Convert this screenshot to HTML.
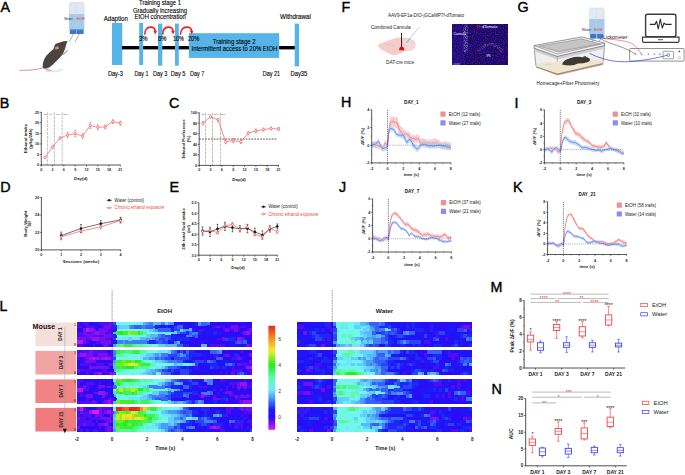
<!DOCTYPE html>
<html><head><meta charset="utf-8"><style>
html,body{margin:0;padding:0;background:#fff;width:685px;height:475px;overflow:hidden}
svg{display:block;font-family:"Liberation Sans",sans-serif}
</style></head><body>
<svg width="685" height="475" viewBox="0 0 685 475">
<rect width="685" height="475" fill="#fff"/>
<text x="0.5" y="12" font-size="14.3" stroke="#000" stroke-width="0.4">A</text>
<text x="-0.3" y="108.4" font-size="14.3" stroke="#000" stroke-width="0.4">B</text>
<text x="169" y="108.4" font-size="14.3" stroke="#000" stroke-width="0.4">C</text>
<text x="0.3" y="191.7" font-size="14.3" stroke="#000" stroke-width="0.4">D</text>
<text x="169.5" y="191.7" font-size="14.3" stroke="#000" stroke-width="0.4">E</text>
<text x="341.5" y="11.8" font-size="14.3" stroke="#000" stroke-width="0.4">F</text>
<text x="517.5" y="12.3" font-size="14.3" stroke="#000" stroke-width="0.4">G</text>
<text x="341" y="107" font-size="14.3" stroke="#000" stroke-width="0.4">H</text>
<text x="514.5" y="108" font-size="14.3" stroke="#000" stroke-width="0.4">I</text>
<text x="339" y="191.5" font-size="14.3" stroke="#000" stroke-width="0.4">J</text>
<text x="513" y="192.3" font-size="14.3" stroke="#000" stroke-width="0.4">K</text>
<text x="-0.5" y="311.3" font-size="14.3" stroke="#000" stroke-width="0.4">L</text>
<text x="490.5" y="291.6" font-size="14.3" stroke="#000" stroke-width="0.4">M</text>
<text x="491.5" y="394.4" font-size="14.3" stroke="#000" stroke-width="0.4">N</text>
<g>
<path d="M69.2 4 q0 -2 2 -2 h4 q2 0 2 2 v25 h-8 z" fill="#dfe8f0" stroke="#c8d2dc" stroke-width="0.3"/>
<path d="M69.2 14 h8 v15 h-8 z" fill="#a9cbea"/>
<rect x="69.8" y="29" width="6.8" height="5" fill="#3f78c8"/>
<rect x="69.8" y="29" width="6.8" height="1.2" fill="#6b9ad8"/>
<path d="M76.2 4 q0 -2 2 -2 h4 q2 0 2 2 v25 h-8 z" fill="#dfe8f0" stroke="#c8d2dc" stroke-width="0.3"/>
<path d="M76.2 14 h8 v15 h-8 z" fill="#a9cbea"/>
<rect x="76.8" y="29" width="6.8" height="5" fill="#3f78c8"/>
<rect x="76.8" y="29" width="6.8" height="1.2" fill="#6b9ad8"/>
<path d="M73.4 34 L69.3 42" stroke="#8a9098" stroke-width="0.7" fill="none"/>
<path d="M79.2 34 L75 42.2" stroke="#8a9098" stroke-width="0.7" fill="none"/>
<text x="64.3" y="19.6" font-size="3.4" fill="#222" textLength="8.4" lengthAdjust="spacingAndGlyphs">Water</text>
<text x="76.5" y="19.6" font-size="3.4" fill="#e03030" textLength="8" lengthAdjust="spacingAndGlyphs">EtOH</text>
<path d="M45 70.6 Q56 72.8 63 69.2" fill="none" stroke="#e6e6e6" stroke-width="1.6"/>
<path d="M19.4 70.4 Q31 70.9 42.8 68.2" fill="none" stroke="#d48a8e" stroke-width="0.9"/>
<path d="M67.2 41 Q64 40.9 60.5 42.2 L56.5 43.4 Q55 43.6 54.6 45.6 L53.5 49 L50 52.1 L46.5 55.6 L44.3 59.1 L43 63 L42.6 66.1 Q42.6 68 43.2 68.3 L45.4 68.8 L49.2 67.4 L52.7 64.8 L56.2 61.3 L59.7 57.8 L62.3 54.7 L64 51.6 L65.3 48.1 L66.2 44.6 Q66.9 42.6 67.2 41 Z" fill="#4a4541"/>
<path d="M54.8 47.8 Q55.6 46 57.6 46.2 Q59 46.8 58.8 48.6 Q57.2 49.8 55.4 49.4 Z" fill="#d98a90"/>
<circle cx="62.3" cy="43.4" r="0.45" fill="#1a1a1a" stroke="#1a1a1a" stroke-width="0.1"/>
<circle cx="67.3" cy="41.2" r="0.45" fill="#d98a90" stroke="#d98a90" stroke-width="0.1"/>
<path d="M62.4 54.3 L64.6 52.6 L67.6 49.4 L68.3 50 L65.6 53.2 L63.2 55.2 Z" fill="#d98a90"/>
<path d="M45.6 68.2 L49 69.4 L51.9 70.4 L51.6 71.1 L48.4 70.6 L45.2 69.2 Z" fill="#d98a90"/>
</g>
<rect x="112" y="23" width="10.3" height="42" fill="#56b4e9"/>
<rect x="122" y="46" width="173" height="3.4" fill="#000"/>
<rect x="139.2" y="23" width="3.9" height="42" fill="#56b4e9"/>
<rect x="158" y="23.6" width="4.3" height="42.1" fill="#56b4e9"/>
<rect x="175" y="23.6" width="3.8" height="42.1" fill="#56b4e9"/>
<rect x="188.9" y="33.2" width="90.3" height="24.7" fill="#56b4e9"/>
<rect x="294.7" y="23.7" width="4.4" height="42.7" fill="#56b4e9"/>
<text x="115.8" y="21" font-size="7" text-anchor="middle" textLength="24" lengthAdjust="spacingAndGlyphs" stroke="#000" stroke-width="0.12">Adaption</text>
<text x="160" y="5.1" font-size="7" text-anchor="middle" textLength="41.8" lengthAdjust="spacingAndGlyphs" stroke="#000" stroke-width="0.12">Training stage 1</text>
<text x="160" y="12.6" font-size="7" text-anchor="middle" textLength="54" lengthAdjust="spacingAndGlyphs" stroke="#000" stroke-width="0.12">Gradually increasing</text>
<text x="160.2" y="19.2" font-size="7" text-anchor="middle" textLength="51.4" lengthAdjust="spacingAndGlyphs" stroke="#000" stroke-width="0.12">EtOH concentration</text>
<line x1="134.8" y1="20.1" x2="184.2" y2="20.1" stroke="#c8c8c8" stroke-width="0.4"/>
<text x="295.5" y="18.9" font-size="7" text-anchor="middle" textLength="30.9" lengthAdjust="spacingAndGlyphs" stroke="#000" stroke-width="0.12">Withdrawal</text>
<text x="139" y="40.8" font-size="6.4" textLength="8.6" lengthAdjust="spacingAndGlyphs" stroke="#000" stroke-width="0.12">3%</text>
<text x="158" y="40.8" font-size="6.4" textLength="8.5" lengthAdjust="spacingAndGlyphs" stroke="#000" stroke-width="0.12">6%</text>
<text x="172.9" y="40.8" font-size="6.4" textLength="10.9" lengthAdjust="spacingAndGlyphs" stroke="#000" stroke-width="0.12">10%</text>
<text x="187.9" y="40.8" font-size="6.4" textLength="11.4" lengthAdjust="spacingAndGlyphs" stroke="#000" stroke-width="0.12">20%</text>
<text x="234.2" y="43.6" font-size="6.5" text-anchor="middle" textLength="42.7" lengthAdjust="spacingAndGlyphs" stroke="#000" stroke-width="0.12">Training stage 2</text>
<text x="234.4" y="50.6" font-size="6.5" text-anchor="middle" textLength="85.8" lengthAdjust="spacingAndGlyphs" stroke="#000" stroke-width="0.12">Intermittent access to 20% EtOH</text>
<text x="107.9" y="76" font-size="7" textLength="15.1" lengthAdjust="spacingAndGlyphs" stroke="#000" stroke-width="0.12">Day-3</text>
<text x="134.5" y="76" font-size="7" textLength="14" lengthAdjust="spacingAndGlyphs" stroke="#000" stroke-width="0.12">Day 1</text>
<text x="153" y="76" font-size="7" textLength="14.3" lengthAdjust="spacingAndGlyphs" stroke="#000" stroke-width="0.12">Day 3</text>
<text x="170.7" y="76" font-size="7" textLength="14.8" lengthAdjust="spacingAndGlyphs" stroke="#000" stroke-width="0.12">Day 5</text>
<text x="190" y="76" font-size="7" textLength="14.2" lengthAdjust="spacingAndGlyphs" stroke="#000" stroke-width="0.12">Day 7</text>
<text x="262.7" y="76" font-size="7" textLength="17.4" lengthAdjust="spacingAndGlyphs" stroke="#000" stroke-width="0.12">Day 21</text>
<text x="290.6" y="76" font-size="7" textLength="16.7" lengthAdjust="spacingAndGlyphs" stroke="#000" stroke-width="0.12">Day35</text>
<path d="M144.8 34.6 C144.20000000000002 25.2 155.79999999999998 25.2 155.2 31.4" fill="none" stroke="#e8231d" stroke-width="1.6"/>
<path d="M153.29999999999998 30.8 L157.1 30.8 L155.29999999999998 34.4 Z" fill="#e8231d"/>
<path d="M162.8 34.6 C162.20000000000002 25.2 173.6 25.2 173.0 31.4" fill="none" stroke="#e8231d" stroke-width="1.6"/>
<path d="M171.1 30.8 L174.9 30.8 L173.1 34.4 Z" fill="#e8231d"/>
<path d="M180.6 34.6 C180.0 25.2 192.2 25.2 191.6 31.4" fill="none" stroke="#e8231d" stroke-width="1.6"/>
<path d="M189.7 30.8 L193.5 30.8 L191.7 34.4 Z" fill="#e8231d"/>
<text x="426" y="16.9" font-size="4.9" text-anchor="middle" fill="#222" textLength="76" lengthAdjust="spacingAndGlyphs">AAV9-EF1a-DIO-jGCaMP7f-dTomato</text>
<text x="390.8" y="28.9" font-size="5" text-anchor="middle" fill="#222" textLength="39.7" lengthAdjust="spacingAndGlyphs">Combined Cannula</text>
<path d="M378.2 45.2 Q379 43.2 382.6 42.8 Q388 40.2 394.2 38.5 Q399 37.2 403 37.6 Q408.7 37.6 413.6 40.4 Q416.3 42.5 415.5 45.2 Q415 48.8 412.6 50 Q408 51.3 404.8 51 Q401.5 53.6 399 54 Q395.5 55.2 392.3 54.9 Q387.5 53.5 384.5 51 Q380.2 49.5 379.7 48.1 Q377.6 46.8 378.2 45.2 Z" fill="#f2cdcb"/>
<path d="M404.5 39.5 Q411 38.8 414.5 42.5 Q416 46.5 412.3 49.6 Q407.5 50.8 404.5 50.2 Z" fill="#f5d8d6"/>
<path d="M383 45 Q389 43.5 395 46" fill="none" stroke="#e8b4b4" stroke-width="0.35"/>
<line x1="401.5" y1="33" x2="401.5" y2="49.3" stroke="#111" stroke-width="0.9"/>
<path d="M399 50.2 Q399.5 46.5 401.7 46.6 Q404 46.5 404.4 50.2 Z" fill="#d41414"/>
<line x1="419.4" y1="26.8" x2="406.5" y2="42.6" stroke="#7cc0e2" stroke-width="0.6"/>
<line x1="410.2" y1="38.2" x2="406.5" y2="42.6" stroke="#7cc0e2" stroke-width="1.1"/>
<text x="400" y="63.7" font-size="5" text-anchor="middle" fill="#222" textLength="28" lengthAdjust="spacingAndGlyphs">DAT-cre mice</text>
<defs><filter id="spk" x="0" y="0" width="1" height="1" color-interpolation-filters="sRGB"><feTurbulence type="fractalNoise" baseFrequency="0.9" numOctaves="1" seed="3" result="n"/><feColorMatrix in="n" type="matrix" values="0.55 0 0 0 -0.13  0 0.25 0 0 -0.08  0 0 2.0 0 -0.56  0 0 0 0 1"/></filter><filter id="spk2" x="-0.2" y="-0.2" width="1.4" height="1.4" color-interpolation-filters="sRGB"><feTurbulence type="fractalNoise" baseFrequency="1.1" numOctaves="1" seed="5" result="n"/><feColorMatrix in="n" type="matrix" values="0 0 0 0 0  0 0 0 0 0  0 0 0 0 0  3 0 0 0 -1.1" result="m"/><feComposite in="SourceGraphic" in2="m" operator="in"/></filter></defs>
<rect x="452.7" y="24.4" width="54.6" height="40.3" fill="#160c50"/>
<rect x="452.7" y="24.4" width="54.6" height="40.3" filter="url(#spk)"/>
<rect x="452.7" y="24.4" width="11" height="40.3" fill="#3020c0" opacity="0.2"/>
<rect x="463.6" y="24.4" width="4.2" height="28" fill="#c8b8f8" opacity="0.55" filter="url(#spk2)"/>
<path d="M478 51.5 Q484 44 490 44.5 Q497 44 502 51.5" fill="none" stroke="#d0a0e0" stroke-width="3.2" opacity="0.4" filter="url(#spk2)"/>
<text x="459.7" y="34.6" font-size="3" text-anchor="middle" fill="#fff" textLength="12.5" lengthAdjust="spacingAndGlyphs">Cannula</text>
<text x="476" y="27.8" font-size="3" fill="#ff2020" textLength="4.5" lengthAdjust="spacingAndGlyphs">Th</text>
<text x="482" y="27.8" font-size="3" fill="#fff" textLength="15.4" lengthAdjust="spacingAndGlyphs">dTomato</text>
<text x="488.5" y="57" font-size="3" text-anchor="middle" fill="#fff" textLength="3.8" lengthAdjust="spacingAndGlyphs">IPN</text>
<line x1="453.5" y1="64" x2="460" y2="64" stroke="#fff" stroke-width="0.5"/>
<line x1="47.4" y1="112.3" x2="47.4" y2="165" stroke="#808080" stroke-width="0.5" stroke-dasharray="3 0.9"/>
<line x1="54.4" y1="112.3" x2="54.4" y2="165" stroke="#808080" stroke-width="0.5" stroke-dasharray="3 0.9"/>
<line x1="62.2" y1="112.3" x2="62.2" y2="165" stroke="#808080" stroke-width="0.5" stroke-dasharray="3 0.9"/>
<text x="45.4" y="115" font-size="2.4" text-anchor="middle" fill="#555">3%</text>
<text x="51" y="115" font-size="2.4" text-anchor="middle" fill="#555">6%</text>
<text x="58.3" y="115" font-size="2.4" text-anchor="middle" fill="#555">10%</text>
<text x="65.6" y="115" font-size="2.4" text-anchor="middle" fill="#555">20%</text>
<line x1="41.3" y1="165.4" x2="41.3" y2="111.9" stroke="#222" stroke-width="0.75"/>
<line x1="40.9" y1="165" x2="120.7" y2="165" stroke="#222" stroke-width="0.75"/>
<line x1="39.7" y1="165" x2="41.3" y2="165" stroke="#222" stroke-width="0.6"/>
<text x="39.1" y="166.35" font-size="3.7" text-anchor="end" font-weight="bold" fill="#222">0</text>
<line x1="39.7" y1="154.46" x2="41.3" y2="154.46" stroke="#222" stroke-width="0.6"/>
<text x="39.1" y="155.81" font-size="3.7" text-anchor="end" font-weight="bold" fill="#222">5</text>
<line x1="39.7" y1="143.92" x2="41.3" y2="143.92" stroke="#222" stroke-width="0.6"/>
<text x="39.1" y="145.27" font-size="3.7" text-anchor="end" font-weight="bold" fill="#222">10</text>
<line x1="39.7" y1="133.38" x2="41.3" y2="133.38" stroke="#222" stroke-width="0.6"/>
<text x="39.1" y="134.73" font-size="3.7" text-anchor="end" font-weight="bold" fill="#222">15</text>
<line x1="39.7" y1="122.84" x2="41.3" y2="122.84" stroke="#222" stroke-width="0.6"/>
<text x="39.1" y="124.19" font-size="3.7" text-anchor="end" font-weight="bold" fill="#222">20</text>
<line x1="39.7" y1="112.3" x2="41.3" y2="112.3" stroke="#222" stroke-width="0.6"/>
<text x="39.1" y="113.65" font-size="3.7" text-anchor="end" font-weight="bold" fill="#222">25</text>
<line x1="41.3" y1="165" x2="41.3" y2="166.6" stroke="#222" stroke-width="0.6"/>
<text x="41.3" y="171" font-size="3.7" text-anchor="middle" font-weight="bold" fill="#222">0</text>
<line x1="52.59" y1="165" x2="52.59" y2="166.6" stroke="#222" stroke-width="0.6"/>
<text x="52.59" y="171" font-size="3.7" text-anchor="middle" font-weight="bold" fill="#222">3</text>
<line x1="63.87" y1="165" x2="63.87" y2="166.6" stroke="#222" stroke-width="0.6"/>
<text x="63.87" y="171" font-size="3.7" text-anchor="middle" font-weight="bold" fill="#222">6</text>
<line x1="75.16" y1="165" x2="75.16" y2="166.6" stroke="#222" stroke-width="0.6"/>
<text x="75.16" y="171" font-size="3.7" text-anchor="middle" font-weight="bold" fill="#222">9</text>
<line x1="86.44" y1="165" x2="86.44" y2="166.6" stroke="#222" stroke-width="0.6"/>
<text x="86.44" y="171" font-size="3.7" text-anchor="middle" font-weight="bold" fill="#222">12</text>
<line x1="97.73" y1="165" x2="97.73" y2="166.6" stroke="#222" stroke-width="0.6"/>
<text x="97.73" y="171" font-size="3.7" text-anchor="middle" font-weight="bold" fill="#222">15</text>
<line x1="109.01" y1="165" x2="109.01" y2="166.6" stroke="#222" stroke-width="0.6"/>
<text x="109.01" y="171" font-size="3.7" text-anchor="middle" font-weight="bold" fill="#222">18</text>
<line x1="120.3" y1="165" x2="120.3" y2="166.6" stroke="#222" stroke-width="0.6"/>
<text x="120.3" y="171" font-size="3.7" text-anchor="middle" font-weight="bold" fill="#222">21</text>
<path d="M45.06 157.41 L52.59 146.87 L60.11 138.02 L67.63 135.07 L75.16 133.59 L82.68 136.12 L90.2 125.58 L97.73 127.27 L105.25 126.85 L112.78 121.58 L120.3 123.26" stroke="#f0444a" stroke-width="0.6" fill="none"/>
<line x1="45.06" y1="156.57" x2="45.06" y2="158.25" stroke="#f0444a" stroke-width="0.5"/>
<line x1="44.06" y1="156.57" x2="46.06" y2="156.57" stroke="#f0444a" stroke-width="0.5"/>
<line x1="44.06" y1="158.25" x2="46.06" y2="158.25" stroke="#f0444a" stroke-width="0.5"/>
<circle cx="45.06" cy="157.41" r="1.15" fill="#fff" stroke="#f0444a" stroke-width="0.6"/>
<line x1="52.59" y1="145.82" x2="52.59" y2="147.92" stroke="#f0444a" stroke-width="0.5"/>
<line x1="51.59" y1="145.82" x2="53.59" y2="145.82" stroke="#f0444a" stroke-width="0.5"/>
<line x1="51.59" y1="147.92" x2="53.59" y2="147.92" stroke="#f0444a" stroke-width="0.5"/>
<circle cx="52.59" cy="146.87" r="1.15" fill="#fff" stroke="#f0444a" stroke-width="0.6"/>
<line x1="60.11" y1="136.97" x2="60.11" y2="139.07" stroke="#f0444a" stroke-width="0.5"/>
<line x1="59.11" y1="136.97" x2="61.11" y2="136.97" stroke="#f0444a" stroke-width="0.5"/>
<line x1="59.11" y1="139.07" x2="61.11" y2="139.07" stroke="#f0444a" stroke-width="0.5"/>
<circle cx="60.11" cy="138.02" r="1.15" fill="#fff" stroke="#f0444a" stroke-width="0.6"/>
<line x1="67.63" y1="132.55" x2="67.63" y2="137.59" stroke="#f0444a" stroke-width="0.5"/>
<line x1="66.63" y1="132.55" x2="68.63" y2="132.55" stroke="#f0444a" stroke-width="0.5"/>
<line x1="66.63" y1="137.59" x2="68.63" y2="137.59" stroke="#f0444a" stroke-width="0.5"/>
<circle cx="67.63" cy="135.07" r="1.15" fill="#fff" stroke="#f0444a" stroke-width="0.6"/>
<line x1="75.16" y1="130.44" x2="75.16" y2="136.74" stroke="#f0444a" stroke-width="0.5"/>
<line x1="74.16" y1="130.44" x2="76.16" y2="130.44" stroke="#f0444a" stroke-width="0.5"/>
<line x1="74.16" y1="136.74" x2="76.16" y2="136.74" stroke="#f0444a" stroke-width="0.5"/>
<circle cx="75.16" cy="133.59" r="1.15" fill="#fff" stroke="#f0444a" stroke-width="0.6"/>
<line x1="82.68" y1="133.6" x2="82.68" y2="138.64" stroke="#f0444a" stroke-width="0.5"/>
<line x1="81.68" y1="133.6" x2="83.68" y2="133.6" stroke="#f0444a" stroke-width="0.5"/>
<line x1="81.68" y1="138.64" x2="83.68" y2="138.64" stroke="#f0444a" stroke-width="0.5"/>
<circle cx="82.68" cy="136.12" r="1.15" fill="#fff" stroke="#f0444a" stroke-width="0.6"/>
<line x1="90.2" y1="122.64" x2="90.2" y2="128.52" stroke="#f0444a" stroke-width="0.5"/>
<line x1="89.2" y1="122.64" x2="91.2" y2="122.64" stroke="#f0444a" stroke-width="0.5"/>
<line x1="89.2" y1="128.52" x2="91.2" y2="128.52" stroke="#f0444a" stroke-width="0.5"/>
<circle cx="90.2" cy="125.58" r="1.15" fill="#fff" stroke="#f0444a" stroke-width="0.6"/>
<line x1="97.73" y1="124.75" x2="97.73" y2="129.79" stroke="#f0444a" stroke-width="0.5"/>
<line x1="96.73" y1="124.75" x2="98.73" y2="124.75" stroke="#f0444a" stroke-width="0.5"/>
<line x1="96.73" y1="129.79" x2="98.73" y2="129.79" stroke="#f0444a" stroke-width="0.5"/>
<circle cx="97.73" cy="127.27" r="1.15" fill="#fff" stroke="#f0444a" stroke-width="0.6"/>
<line x1="105.25" y1="124.96" x2="105.25" y2="128.74" stroke="#f0444a" stroke-width="0.5"/>
<line x1="104.25" y1="124.96" x2="106.25" y2="124.96" stroke="#f0444a" stroke-width="0.5"/>
<line x1="104.25" y1="128.74" x2="106.25" y2="128.74" stroke="#f0444a" stroke-width="0.5"/>
<circle cx="105.25" cy="126.85" r="1.15" fill="#fff" stroke="#f0444a" stroke-width="0.6"/>
<line x1="112.78" y1="119.69" x2="112.78" y2="123.47" stroke="#f0444a" stroke-width="0.5"/>
<line x1="111.78" y1="119.69" x2="113.78" y2="119.69" stroke="#f0444a" stroke-width="0.5"/>
<line x1="111.78" y1="123.47" x2="113.78" y2="123.47" stroke="#f0444a" stroke-width="0.5"/>
<circle cx="112.78" cy="121.58" r="1.15" fill="#fff" stroke="#f0444a" stroke-width="0.6"/>
<line x1="120.3" y1="121.16" x2="120.3" y2="125.36" stroke="#f0444a" stroke-width="0.5"/>
<line x1="119.3" y1="121.16" x2="121.3" y2="121.16" stroke="#f0444a" stroke-width="0.5"/>
<line x1="119.3" y1="125.36" x2="121.3" y2="125.36" stroke="#f0444a" stroke-width="0.5"/>
<circle cx="120.3" cy="123.26" r="1.15" fill="#fff" stroke="#f0444a" stroke-width="0.6"/>
<text x="80.8" y="180.2" font-size="4.3" text-anchor="middle" font-weight="bold" fill="#222">Day(d)</text>
<text x="26.8" y="138.6" font-size="4.3" text-anchor="middle" font-weight="bold" fill="#222" transform="rotate(-90 26.8 138.6)">Ethanol intake</text>
<text x="31.6" y="138.6" font-size="4.3" text-anchor="middle" font-weight="bold" fill="#222" transform="rotate(-90 31.6 138.6)">(g/kg/24h)</text>
<line x1="205.5" y1="112.7" x2="205.5" y2="165.4" stroke="#808080" stroke-width="0.5" stroke-dasharray="3 0.9"/>
<line x1="212.5" y1="112.7" x2="212.5" y2="165.4" stroke="#808080" stroke-width="0.5" stroke-dasharray="3 0.9"/>
<line x1="220.6" y1="112.7" x2="220.6" y2="165.4" stroke="#808080" stroke-width="0.5" stroke-dasharray="3 0.9"/>
<text x="203.4" y="115.3" font-size="2.4" text-anchor="middle" fill="#555">3%</text>
<text x="209.2" y="115.3" font-size="2.4" text-anchor="middle" fill="#555">6%</text>
<text x="216.4" y="115.3" font-size="2.4" text-anchor="middle" fill="#555">10%</text>
<text x="223.6" y="115.3" font-size="2.4" text-anchor="middle" fill="#555">20%</text>
<line x1="199.2" y1="139.05" x2="277.5" y2="139.05" stroke="#222" stroke-width="0.75" stroke-dasharray="1.8 1.1"/>
<line x1="199.2" y1="165.8" x2="199.2" y2="112.3" stroke="#222" stroke-width="0.75"/>
<line x1="198.8" y1="165.4" x2="279" y2="165.4" stroke="#222" stroke-width="0.75"/>
<line x1="197.6" y1="165.4" x2="199.2" y2="165.4" stroke="#222" stroke-width="0.6"/>
<text x="197" y="166.75" font-size="3.7" text-anchor="end" font-weight="bold" fill="#222">0</text>
<line x1="197.6" y1="154.86" x2="199.2" y2="154.86" stroke="#222" stroke-width="0.6"/>
<text x="197" y="156.21" font-size="3.7" text-anchor="end" font-weight="bold" fill="#222">20</text>
<line x1="197.6" y1="144.32" x2="199.2" y2="144.32" stroke="#222" stroke-width="0.6"/>
<text x="197" y="145.67" font-size="3.7" text-anchor="end" font-weight="bold" fill="#222">40</text>
<line x1="197.6" y1="133.78" x2="199.2" y2="133.78" stroke="#222" stroke-width="0.6"/>
<text x="197" y="135.13" font-size="3.7" text-anchor="end" font-weight="bold" fill="#222">60</text>
<line x1="197.6" y1="123.24" x2="199.2" y2="123.24" stroke="#222" stroke-width="0.6"/>
<text x="197" y="124.59" font-size="3.7" text-anchor="end" font-weight="bold" fill="#222">80</text>
<line x1="197.6" y1="112.7" x2="199.2" y2="112.7" stroke="#222" stroke-width="0.6"/>
<text x="197" y="114.05" font-size="3.7" text-anchor="end" font-weight="bold" fill="#222">100</text>
<line x1="199.2" y1="165.4" x2="199.2" y2="167" stroke="#222" stroke-width="0.6"/>
<text x="199.2" y="171.4" font-size="3.7" text-anchor="middle" font-weight="bold" fill="#222">0</text>
<line x1="210.54" y1="165.4" x2="210.54" y2="167" stroke="#222" stroke-width="0.6"/>
<text x="210.54" y="171.4" font-size="3.7" text-anchor="middle" font-weight="bold" fill="#222">3</text>
<line x1="221.89" y1="165.4" x2="221.89" y2="167" stroke="#222" stroke-width="0.6"/>
<text x="221.89" y="171.4" font-size="3.7" text-anchor="middle" font-weight="bold" fill="#222">6</text>
<line x1="233.23" y1="165.4" x2="233.23" y2="167" stroke="#222" stroke-width="0.6"/>
<text x="233.23" y="171.4" font-size="3.7" text-anchor="middle" font-weight="bold" fill="#222">9</text>
<line x1="244.57" y1="165.4" x2="244.57" y2="167" stroke="#222" stroke-width="0.6"/>
<text x="244.57" y="171.4" font-size="3.7" text-anchor="middle" font-weight="bold" fill="#222">12</text>
<line x1="255.91" y1="165.4" x2="255.91" y2="167" stroke="#222" stroke-width="0.6"/>
<text x="255.91" y="171.4" font-size="3.7" text-anchor="middle" font-weight="bold" fill="#222">15</text>
<line x1="267.26" y1="165.4" x2="267.26" y2="167" stroke="#222" stroke-width="0.6"/>
<text x="267.26" y="171.4" font-size="3.7" text-anchor="middle" font-weight="bold" fill="#222">18</text>
<line x1="278.6" y1="165.4" x2="278.6" y2="167" stroke="#222" stroke-width="0.6"/>
<text x="278.6" y="171.4" font-size="3.7" text-anchor="middle" font-weight="bold" fill="#222">21</text>
<path d="M202.98 123.24 L210.54 116.92 L218.1 119.81 L225.67 141.69 L233.23 140.63 L240.79 141.69 L248.35 133.25 L255.91 130.88 L263.48 129.56 L271.04 128.51 L278.6 129.04" stroke="#f0444a" stroke-width="0.6" fill="none"/>
<line x1="202.98" y1="121.66" x2="202.98" y2="124.82" stroke="#f0444a" stroke-width="0.5"/>
<line x1="201.98" y1="121.66" x2="203.98" y2="121.66" stroke="#f0444a" stroke-width="0.5"/>
<line x1="201.98" y1="124.82" x2="203.98" y2="124.82" stroke="#f0444a" stroke-width="0.5"/>
<circle cx="202.98" cy="123.24" r="1.15" fill="#fff" stroke="#f0444a" stroke-width="0.6"/>
<line x1="210.54" y1="115.86" x2="210.54" y2="117.97" stroke="#f0444a" stroke-width="0.5"/>
<line x1="209.54" y1="115.86" x2="211.54" y2="115.86" stroke="#f0444a" stroke-width="0.5"/>
<line x1="209.54" y1="117.97" x2="211.54" y2="117.97" stroke="#f0444a" stroke-width="0.5"/>
<circle cx="210.54" cy="116.92" r="1.15" fill="#fff" stroke="#f0444a" stroke-width="0.6"/>
<line x1="218.1" y1="118.5" x2="218.1" y2="121.13" stroke="#f0444a" stroke-width="0.5"/>
<line x1="217.1" y1="118.5" x2="219.1" y2="118.5" stroke="#f0444a" stroke-width="0.5"/>
<line x1="217.1" y1="121.13" x2="219.1" y2="121.13" stroke="#f0444a" stroke-width="0.5"/>
<circle cx="218.1" cy="119.81" r="1.15" fill="#fff" stroke="#f0444a" stroke-width="0.6"/>
<line x1="225.67" y1="139.58" x2="225.67" y2="143.79" stroke="#f0444a" stroke-width="0.5"/>
<line x1="224.67" y1="139.58" x2="226.67" y2="139.58" stroke="#f0444a" stroke-width="0.5"/>
<line x1="224.67" y1="143.79" x2="226.67" y2="143.79" stroke="#f0444a" stroke-width="0.5"/>
<circle cx="225.67" cy="141.69" r="1.15" fill="#fff" stroke="#f0444a" stroke-width="0.6"/>
<line x1="233.23" y1="138.52" x2="233.23" y2="142.74" stroke="#f0444a" stroke-width="0.5"/>
<line x1="232.23" y1="138.52" x2="234.23" y2="138.52" stroke="#f0444a" stroke-width="0.5"/>
<line x1="232.23" y1="142.74" x2="234.23" y2="142.74" stroke="#f0444a" stroke-width="0.5"/>
<circle cx="233.23" cy="140.63" r="1.15" fill="#fff" stroke="#f0444a" stroke-width="0.6"/>
<line x1="240.79" y1="139.84" x2="240.79" y2="143.53" stroke="#f0444a" stroke-width="0.5"/>
<line x1="239.79" y1="139.84" x2="241.79" y2="139.84" stroke="#f0444a" stroke-width="0.5"/>
<line x1="239.79" y1="143.53" x2="241.79" y2="143.53" stroke="#f0444a" stroke-width="0.5"/>
<circle cx="240.79" cy="141.69" r="1.15" fill="#fff" stroke="#f0444a" stroke-width="0.6"/>
<line x1="248.35" y1="131.67" x2="248.35" y2="134.83" stroke="#f0444a" stroke-width="0.5"/>
<line x1="247.35" y1="131.67" x2="249.35" y2="131.67" stroke="#f0444a" stroke-width="0.5"/>
<line x1="247.35" y1="134.83" x2="249.35" y2="134.83" stroke="#f0444a" stroke-width="0.5"/>
<circle cx="248.35" cy="133.25" r="1.15" fill="#fff" stroke="#f0444a" stroke-width="0.6"/>
<line x1="255.91" y1="129.04" x2="255.91" y2="132.73" stroke="#f0444a" stroke-width="0.5"/>
<line x1="254.91" y1="129.04" x2="256.91" y2="129.04" stroke="#f0444a" stroke-width="0.5"/>
<line x1="254.91" y1="132.73" x2="256.91" y2="132.73" stroke="#f0444a" stroke-width="0.5"/>
<circle cx="255.91" cy="130.88" r="1.15" fill="#fff" stroke="#f0444a" stroke-width="0.6"/>
<line x1="263.48" y1="127.98" x2="263.48" y2="131.14" stroke="#f0444a" stroke-width="0.5"/>
<line x1="262.48" y1="127.98" x2="264.48" y2="127.98" stroke="#f0444a" stroke-width="0.5"/>
<line x1="262.48" y1="131.14" x2="264.48" y2="131.14" stroke="#f0444a" stroke-width="0.5"/>
<circle cx="263.48" cy="129.56" r="1.15" fill="#fff" stroke="#f0444a" stroke-width="0.6"/>
<line x1="271.04" y1="127.19" x2="271.04" y2="129.83" stroke="#f0444a" stroke-width="0.5"/>
<line x1="270.04" y1="127.19" x2="272.04" y2="127.19" stroke="#f0444a" stroke-width="0.5"/>
<line x1="270.04" y1="129.83" x2="272.04" y2="129.83" stroke="#f0444a" stroke-width="0.5"/>
<circle cx="271.04" cy="128.51" r="1.15" fill="#fff" stroke="#f0444a" stroke-width="0.6"/>
<line x1="278.6" y1="127.46" x2="278.6" y2="130.62" stroke="#f0444a" stroke-width="0.5"/>
<line x1="277.6" y1="127.46" x2="279.6" y2="127.46" stroke="#f0444a" stroke-width="0.5"/>
<line x1="277.6" y1="130.62" x2="279.6" y2="130.62" stroke="#f0444a" stroke-width="0.5"/>
<circle cx="278.6" cy="129.04" r="1.15" fill="#fff" stroke="#f0444a" stroke-width="0.6"/>
<text x="239" y="180.6" font-size="4.3" text-anchor="middle" font-weight="bold" fill="#222">Day(d)</text>
<text x="184.7" y="139" font-size="4.3" text-anchor="middle" font-weight="bold" fill="#222" transform="rotate(-90 184.7 139)">Ethanol Preference</text>
<text x="189.6" y="139" font-size="4.3" text-anchor="middle" font-weight="bold" fill="#222" transform="rotate(-90 189.6 139)">(%)</text>
<line x1="41.4" y1="250.3" x2="41.4" y2="197" stroke="#222" stroke-width="0.75"/>
<line x1="41" y1="249.9" x2="121" y2="249.9" stroke="#222" stroke-width="0.75"/>
<line x1="39.8" y1="249.9" x2="41.4" y2="249.9" stroke="#222" stroke-width="0.6"/>
<text x="39.2" y="251.25" font-size="3.7" text-anchor="end" font-weight="bold" fill="#222">20</text>
<line x1="39.8" y1="232.4" x2="41.4" y2="232.4" stroke="#222" stroke-width="0.6"/>
<text x="39.2" y="233.75" font-size="3.7" text-anchor="end" font-weight="bold" fill="#222">22</text>
<line x1="39.8" y1="214.9" x2="41.4" y2="214.9" stroke="#222" stroke-width="0.6"/>
<text x="39.2" y="216.25" font-size="3.7" text-anchor="end" font-weight="bold" fill="#222">24</text>
<line x1="39.8" y1="197.4" x2="41.4" y2="197.4" stroke="#222" stroke-width="0.6"/>
<text x="39.2" y="198.75" font-size="3.7" text-anchor="end" font-weight="bold" fill="#222">26</text>
<line x1="41.4" y1="249.9" x2="41.4" y2="251.5" stroke="#222" stroke-width="0.6"/>
<text x="41.4" y="255.9" font-size="3.7" text-anchor="middle" font-weight="bold" fill="#222">0</text>
<line x1="61.2" y1="249.9" x2="61.2" y2="251.5" stroke="#222" stroke-width="0.6"/>
<text x="61.2" y="255.9" font-size="3.7" text-anchor="middle" font-weight="bold" fill="#222">1</text>
<line x1="81" y1="249.9" x2="81" y2="251.5" stroke="#222" stroke-width="0.6"/>
<text x="81" y="255.9" font-size="3.7" text-anchor="middle" font-weight="bold" fill="#222">2</text>
<line x1="100.8" y1="249.9" x2="100.8" y2="251.5" stroke="#222" stroke-width="0.6"/>
<text x="100.8" y="255.9" font-size="3.7" text-anchor="middle" font-weight="bold" fill="#222">3</text>
<line x1="120.6" y1="249.9" x2="120.6" y2="251.5" stroke="#222" stroke-width="0.6"/>
<text x="120.6" y="255.9" font-size="3.7" text-anchor="middle" font-weight="bold" fill="#222">4</text>
<path d="M61.2 235.55 L81 228.55 L100.8 223.65 L120.6 219.97" stroke="#111" stroke-width="0.6" fill="none"/>
<path d="M61.2 236.78 L81 231.09 L100.8 226.89 L120.6 220.5" stroke="#f0444a" stroke-width="0.6" fill="none"/>
<line x1="61.2" y1="232.04" x2="61.2" y2="239.06" stroke="#111" stroke-width="0.5"/>
<line x1="60.2" y1="232.04" x2="62.2" y2="232.04" stroke="#111" stroke-width="0.5"/>
<line x1="60.2" y1="239.06" x2="62.2" y2="239.06" stroke="#111" stroke-width="0.5"/>
<line x1="81" y1="224.6" x2="81" y2="232.5" stroke="#111" stroke-width="0.5"/>
<line x1="80" y1="224.6" x2="82" y2="224.6" stroke="#111" stroke-width="0.5"/>
<line x1="80" y1="232.5" x2="82" y2="232.5" stroke="#111" stroke-width="0.5"/>
<line x1="100.8" y1="220.58" x2="100.8" y2="226.72" stroke="#111" stroke-width="0.5"/>
<line x1="99.8" y1="220.58" x2="101.8" y2="220.58" stroke="#111" stroke-width="0.5"/>
<line x1="99.8" y1="226.72" x2="101.8" y2="226.72" stroke="#111" stroke-width="0.5"/>
<line x1="120.6" y1="217.34" x2="120.6" y2="222.61" stroke="#111" stroke-width="0.5"/>
<line x1="119.6" y1="217.34" x2="121.6" y2="217.34" stroke="#111" stroke-width="0.5"/>
<line x1="119.6" y1="222.61" x2="121.6" y2="222.61" stroke="#111" stroke-width="0.5"/>
<line x1="61.2" y1="233.7" x2="61.2" y2="239.85" stroke="#f0444a" stroke-width="0.5"/>
<line x1="60.2" y1="233.7" x2="62.2" y2="233.7" stroke="#f0444a" stroke-width="0.5"/>
<line x1="60.2" y1="239.85" x2="62.2" y2="239.85" stroke="#f0444a" stroke-width="0.5"/>
<line x1="81" y1="229.33" x2="81" y2="232.84" stroke="#f0444a" stroke-width="0.5"/>
<line x1="80" y1="229.33" x2="82" y2="229.33" stroke="#f0444a" stroke-width="0.5"/>
<line x1="80" y1="232.84" x2="82" y2="232.84" stroke="#f0444a" stroke-width="0.5"/>
<line x1="100.8" y1="224.69" x2="100.8" y2="229.08" stroke="#f0444a" stroke-width="0.5"/>
<line x1="99.8" y1="224.69" x2="101.8" y2="224.69" stroke="#f0444a" stroke-width="0.5"/>
<line x1="99.8" y1="229.08" x2="101.8" y2="229.08" stroke="#f0444a" stroke-width="0.5"/>
<line x1="120.6" y1="217.87" x2="120.6" y2="223.13" stroke="#f0444a" stroke-width="0.5"/>
<line x1="119.6" y1="217.87" x2="121.6" y2="217.87" stroke="#f0444a" stroke-width="0.5"/>
<line x1="119.6" y1="223.13" x2="121.6" y2="223.13" stroke="#f0444a" stroke-width="0.5"/>
<circle cx="61.2" cy="235.55" r="1.1" fill="#111" stroke="#111" stroke-width="0.4"/>
<circle cx="81" cy="228.55" r="1.1" fill="#111" stroke="#111" stroke-width="0.4"/>
<circle cx="100.8" cy="223.65" r="1.1" fill="#111" stroke="#111" stroke-width="0.4"/>
<circle cx="120.6" cy="219.97" r="1.1" fill="#111" stroke="#111" stroke-width="0.4"/>
<circle cx="61.2" cy="236.78" r="1" fill="#fff" stroke="#f0444a" stroke-width="0.6"/>
<circle cx="81" cy="231.09" r="1" fill="#fff" stroke="#f0444a" stroke-width="0.6"/>
<circle cx="100.8" cy="226.89" r="1" fill="#fff" stroke="#f0444a" stroke-width="0.6"/>
<circle cx="120.6" cy="220.5" r="1" fill="#fff" stroke="#f0444a" stroke-width="0.6"/>
<text x="81" y="263.2" font-size="4.3" text-anchor="middle" font-weight="bold" fill="#222" textLength="36.5" lengthAdjust="spacingAndGlyphs">Sessions (weeks)</text>
<text x="26.6" y="223.7" font-size="4.3" text-anchor="middle" font-weight="bold" fill="#222" transform="rotate(-90 26.6 223.7)">Body Weight</text>
<text x="30.4" y="223.7" font-size="4.3" text-anchor="middle" font-weight="bold" fill="#222" transform="rotate(-90 30.4 223.7)">(g)</text>
<line x1="106.5" y1="200.3" x2="112" y2="200.3" stroke="#111" stroke-width="0.6"/>
<circle cx="109.2" cy="200.3" r="1" fill="#111" stroke="#111" stroke-width="0.4"/>
<text x="114.6" y="201.9" font-size="4.7" fill="#222" textLength="29.4" lengthAdjust="spacingAndGlyphs">Water (control)</text>
<line x1="106.5" y1="207.8" x2="112" y2="207.8" stroke="#f0444a" stroke-width="0.6"/>
<circle cx="109.2" cy="207.8" r="1" fill="#fff" stroke="#f0444a" stroke-width="0.6"/>
<text x="114.6" y="209.4" font-size="4.7" fill="#f0444a" textLength="49.7" lengthAdjust="spacingAndGlyphs">Chronic ethanol exposure</text>
<line x1="198.8" y1="255.6" x2="198.8" y2="202.3" stroke="#222" stroke-width="0.75"/>
<line x1="198.4" y1="255.2" x2="277.7" y2="255.2" stroke="#222" stroke-width="0.75"/>
<line x1="197.2" y1="255.2" x2="198.8" y2="255.2" stroke="#222" stroke-width="0.6"/>
<text x="196.6" y="256.55" font-size="3.7" text-anchor="end" font-weight="bold" fill="#222">3.0</text>
<line x1="197.2" y1="244.7" x2="198.8" y2="244.7" stroke="#222" stroke-width="0.6"/>
<text x="196.6" y="246.05" font-size="3.7" text-anchor="end" font-weight="bold" fill="#222">3.5</text>
<line x1="197.2" y1="234.2" x2="198.8" y2="234.2" stroke="#222" stroke-width="0.6"/>
<text x="196.6" y="235.55" font-size="3.7" text-anchor="end" font-weight="bold" fill="#222">4.0</text>
<line x1="197.2" y1="223.7" x2="198.8" y2="223.7" stroke="#222" stroke-width="0.6"/>
<text x="196.6" y="225.05" font-size="3.7" text-anchor="end" font-weight="bold" fill="#222">4.5</text>
<line x1="197.2" y1="213.2" x2="198.8" y2="213.2" stroke="#222" stroke-width="0.6"/>
<text x="196.6" y="214.55" font-size="3.7" text-anchor="end" font-weight="bold" fill="#222">5.0</text>
<line x1="197.2" y1="202.7" x2="198.8" y2="202.7" stroke="#222" stroke-width="0.6"/>
<text x="196.6" y="204.05" font-size="3.7" text-anchor="end" font-weight="bold" fill="#222">5.5</text>
<line x1="198.8" y1="255.2" x2="198.8" y2="256.8" stroke="#222" stroke-width="0.6"/>
<text x="198.8" y="261.2" font-size="3.7" text-anchor="middle" font-weight="bold" fill="#222">0</text>
<line x1="210.01" y1="255.2" x2="210.01" y2="256.8" stroke="#222" stroke-width="0.6"/>
<text x="210.01" y="261.2" font-size="3.7" text-anchor="middle" font-weight="bold" fill="#222">3</text>
<line x1="221.23" y1="255.2" x2="221.23" y2="256.8" stroke="#222" stroke-width="0.6"/>
<text x="221.23" y="261.2" font-size="3.7" text-anchor="middle" font-weight="bold" fill="#222">6</text>
<line x1="232.44" y1="255.2" x2="232.44" y2="256.8" stroke="#222" stroke-width="0.6"/>
<text x="232.44" y="261.2" font-size="3.7" text-anchor="middle" font-weight="bold" fill="#222">9</text>
<line x1="243.66" y1="255.2" x2="243.66" y2="256.8" stroke="#222" stroke-width="0.6"/>
<text x="243.66" y="261.2" font-size="3.7" text-anchor="middle" font-weight="bold" fill="#222">12</text>
<line x1="254.87" y1="255.2" x2="254.87" y2="256.8" stroke="#222" stroke-width="0.6"/>
<text x="254.87" y="261.2" font-size="3.7" text-anchor="middle" font-weight="bold" fill="#222">15</text>
<line x1="266.09" y1="255.2" x2="266.09" y2="256.8" stroke="#222" stroke-width="0.6"/>
<text x="266.09" y="261.2" font-size="3.7" text-anchor="middle" font-weight="bold" fill="#222">18</text>
<line x1="277.3" y1="255.2" x2="277.3" y2="256.8" stroke="#222" stroke-width="0.6"/>
<text x="277.3" y="261.2" font-size="3.7" text-anchor="middle" font-weight="bold" fill="#222">21</text>
<path d="M202.54 231.05 L210.01 231.89 L217.49 228.95 L224.97 226.43 L232.44 227.69 L239.92 228.74 L247.4 228.53 L254.87 231.89 L262.35 235.04 L269.82 228.95 L277.3 226.43" stroke="#111" stroke-width="0.6" fill="none"/>
<path d="M202.54 231.47 L210.01 230.42 L217.49 232.73 L224.97 225.8 L232.44 224.33 L239.92 229.37 L247.4 227.06 L254.87 234.41 L262.35 236.72 L269.82 228.32 L277.3 231.68" stroke="#f0444a" stroke-width="0.6" fill="none"/>
<line x1="202.54" y1="226.85" x2="202.54" y2="235.25" stroke="#111" stroke-width="0.5"/>
<line x1="201.54" y1="226.85" x2="203.54" y2="226.85" stroke="#111" stroke-width="0.5"/>
<line x1="201.54" y1="235.25" x2="203.54" y2="235.25" stroke="#111" stroke-width="0.5"/>
<line x1="210.01" y1="227.27" x2="210.01" y2="236.51" stroke="#111" stroke-width="0.5"/>
<line x1="209.01" y1="227.27" x2="211.01" y2="227.27" stroke="#111" stroke-width="0.5"/>
<line x1="209.01" y1="236.51" x2="211.01" y2="236.51" stroke="#111" stroke-width="0.5"/>
<line x1="217.49" y1="224.33" x2="217.49" y2="233.57" stroke="#111" stroke-width="0.5"/>
<line x1="216.49" y1="224.33" x2="218.49" y2="224.33" stroke="#111" stroke-width="0.5"/>
<line x1="216.49" y1="233.57" x2="218.49" y2="233.57" stroke="#111" stroke-width="0.5"/>
<line x1="224.97" y1="222.23" x2="224.97" y2="230.63" stroke="#111" stroke-width="0.5"/>
<line x1="223.97" y1="222.23" x2="225.97" y2="222.23" stroke="#111" stroke-width="0.5"/>
<line x1="223.97" y1="230.63" x2="225.97" y2="230.63" stroke="#111" stroke-width="0.5"/>
<line x1="232.44" y1="223.49" x2="232.44" y2="231.89" stroke="#111" stroke-width="0.5"/>
<line x1="231.44" y1="223.49" x2="233.44" y2="223.49" stroke="#111" stroke-width="0.5"/>
<line x1="231.44" y1="231.89" x2="233.44" y2="231.89" stroke="#111" stroke-width="0.5"/>
<line x1="239.92" y1="225.59" x2="239.92" y2="231.89" stroke="#111" stroke-width="0.5"/>
<line x1="238.92" y1="225.59" x2="240.92" y2="225.59" stroke="#111" stroke-width="0.5"/>
<line x1="238.92" y1="231.89" x2="240.92" y2="231.89" stroke="#111" stroke-width="0.5"/>
<line x1="247.4" y1="224.33" x2="247.4" y2="232.73" stroke="#111" stroke-width="0.5"/>
<line x1="246.4" y1="224.33" x2="248.4" y2="224.33" stroke="#111" stroke-width="0.5"/>
<line x1="246.4" y1="232.73" x2="248.4" y2="232.73" stroke="#111" stroke-width="0.5"/>
<line x1="254.87" y1="228.11" x2="254.87" y2="235.67" stroke="#111" stroke-width="0.5"/>
<line x1="253.87" y1="228.11" x2="255.87" y2="228.11" stroke="#111" stroke-width="0.5"/>
<line x1="253.87" y1="235.67" x2="255.87" y2="235.67" stroke="#111" stroke-width="0.5"/>
<line x1="262.35" y1="230.84" x2="262.35" y2="239.24" stroke="#111" stroke-width="0.5"/>
<line x1="261.35" y1="230.84" x2="263.35" y2="230.84" stroke="#111" stroke-width="0.5"/>
<line x1="261.35" y1="239.24" x2="263.35" y2="239.24" stroke="#111" stroke-width="0.5"/>
<line x1="269.82" y1="225.8" x2="269.82" y2="232.1" stroke="#111" stroke-width="0.5"/>
<line x1="268.82" y1="225.8" x2="270.82" y2="225.8" stroke="#111" stroke-width="0.5"/>
<line x1="268.82" y1="232.1" x2="270.82" y2="232.1" stroke="#111" stroke-width="0.5"/>
<line x1="277.3" y1="223.91" x2="277.3" y2="228.95" stroke="#111" stroke-width="0.5"/>
<line x1="276.3" y1="223.91" x2="278.3" y2="223.91" stroke="#111" stroke-width="0.5"/>
<line x1="276.3" y1="228.95" x2="278.3" y2="228.95" stroke="#111" stroke-width="0.5"/>
<line x1="202.54" y1="229.37" x2="202.54" y2="233.57" stroke="#f0444a" stroke-width="0.5"/>
<line x1="201.54" y1="229.37" x2="203.54" y2="229.37" stroke="#f0444a" stroke-width="0.5"/>
<line x1="201.54" y1="233.57" x2="203.54" y2="233.57" stroke="#f0444a" stroke-width="0.5"/>
<line x1="210.01" y1="228.32" x2="210.01" y2="232.52" stroke="#f0444a" stroke-width="0.5"/>
<line x1="209.01" y1="228.32" x2="211.01" y2="228.32" stroke="#f0444a" stroke-width="0.5"/>
<line x1="209.01" y1="232.52" x2="211.01" y2="232.52" stroke="#f0444a" stroke-width="0.5"/>
<line x1="217.49" y1="231.68" x2="217.49" y2="233.78" stroke="#f0444a" stroke-width="0.5"/>
<line x1="216.49" y1="231.68" x2="218.49" y2="231.68" stroke="#f0444a" stroke-width="0.5"/>
<line x1="216.49" y1="233.78" x2="218.49" y2="233.78" stroke="#f0444a" stroke-width="0.5"/>
<line x1="224.97" y1="223.7" x2="224.97" y2="227.9" stroke="#f0444a" stroke-width="0.5"/>
<line x1="223.97" y1="223.7" x2="225.97" y2="223.7" stroke="#f0444a" stroke-width="0.5"/>
<line x1="223.97" y1="227.9" x2="225.97" y2="227.9" stroke="#f0444a" stroke-width="0.5"/>
<line x1="232.44" y1="222.23" x2="232.44" y2="226.43" stroke="#f0444a" stroke-width="0.5"/>
<line x1="231.44" y1="222.23" x2="233.44" y2="222.23" stroke="#f0444a" stroke-width="0.5"/>
<line x1="231.44" y1="226.43" x2="233.44" y2="226.43" stroke="#f0444a" stroke-width="0.5"/>
<line x1="239.92" y1="227.27" x2="239.92" y2="231.47" stroke="#f0444a" stroke-width="0.5"/>
<line x1="238.92" y1="227.27" x2="240.92" y2="227.27" stroke="#f0444a" stroke-width="0.5"/>
<line x1="238.92" y1="231.47" x2="240.92" y2="231.47" stroke="#f0444a" stroke-width="0.5"/>
<line x1="247.4" y1="224.96" x2="247.4" y2="229.16" stroke="#f0444a" stroke-width="0.5"/>
<line x1="246.4" y1="224.96" x2="248.4" y2="224.96" stroke="#f0444a" stroke-width="0.5"/>
<line x1="246.4" y1="229.16" x2="248.4" y2="229.16" stroke="#f0444a" stroke-width="0.5"/>
<line x1="254.87" y1="233.36" x2="254.87" y2="235.46" stroke="#f0444a" stroke-width="0.5"/>
<line x1="253.87" y1="233.36" x2="255.87" y2="233.36" stroke="#f0444a" stroke-width="0.5"/>
<line x1="253.87" y1="235.46" x2="255.87" y2="235.46" stroke="#f0444a" stroke-width="0.5"/>
<line x1="262.35" y1="235.67" x2="262.35" y2="237.77" stroke="#f0444a" stroke-width="0.5"/>
<line x1="261.35" y1="235.67" x2="263.35" y2="235.67" stroke="#f0444a" stroke-width="0.5"/>
<line x1="261.35" y1="237.77" x2="263.35" y2="237.77" stroke="#f0444a" stroke-width="0.5"/>
<line x1="269.82" y1="225.8" x2="269.82" y2="230.84" stroke="#f0444a" stroke-width="0.5"/>
<line x1="268.82" y1="225.8" x2="270.82" y2="225.8" stroke="#f0444a" stroke-width="0.5"/>
<line x1="268.82" y1="230.84" x2="270.82" y2="230.84" stroke="#f0444a" stroke-width="0.5"/>
<line x1="277.3" y1="230" x2="277.3" y2="233.36" stroke="#f0444a" stroke-width="0.5"/>
<line x1="276.3" y1="230" x2="278.3" y2="230" stroke="#f0444a" stroke-width="0.5"/>
<line x1="276.3" y1="233.36" x2="278.3" y2="233.36" stroke="#f0444a" stroke-width="0.5"/>
<circle cx="202.54" cy="231.05" r="1.1" fill="#111" stroke="#111" stroke-width="0.4"/>
<circle cx="210.01" cy="231.89" r="1.1" fill="#111" stroke="#111" stroke-width="0.4"/>
<circle cx="217.49" cy="228.95" r="1.1" fill="#111" stroke="#111" stroke-width="0.4"/>
<circle cx="224.97" cy="226.43" r="1.1" fill="#111" stroke="#111" stroke-width="0.4"/>
<circle cx="232.44" cy="227.69" r="1.1" fill="#111" stroke="#111" stroke-width="0.4"/>
<circle cx="239.92" cy="228.74" r="1.1" fill="#111" stroke="#111" stroke-width="0.4"/>
<circle cx="247.4" cy="228.53" r="1.1" fill="#111" stroke="#111" stroke-width="0.4"/>
<circle cx="254.87" cy="231.89" r="1.1" fill="#111" stroke="#111" stroke-width="0.4"/>
<circle cx="262.35" cy="235.04" r="1.1" fill="#111" stroke="#111" stroke-width="0.4"/>
<circle cx="269.82" cy="228.95" r="1.1" fill="#111" stroke="#111" stroke-width="0.4"/>
<circle cx="277.3" cy="226.43" r="1.1" fill="#111" stroke="#111" stroke-width="0.4"/>
<circle cx="202.54" cy="231.47" r="1" fill="#fff" stroke="#f0444a" stroke-width="0.6"/>
<circle cx="210.01" cy="230.42" r="1" fill="#fff" stroke="#f0444a" stroke-width="0.6"/>
<circle cx="217.49" cy="232.73" r="1" fill="#fff" stroke="#f0444a" stroke-width="0.6"/>
<circle cx="224.97" cy="225.8" r="1" fill="#fff" stroke="#f0444a" stroke-width="0.6"/>
<circle cx="232.44" cy="224.33" r="1" fill="#fff" stroke="#f0444a" stroke-width="0.6"/>
<circle cx="239.92" cy="229.37" r="1" fill="#fff" stroke="#f0444a" stroke-width="0.6"/>
<circle cx="247.4" cy="227.06" r="1" fill="#fff" stroke="#f0444a" stroke-width="0.6"/>
<circle cx="254.87" cy="234.41" r="1" fill="#fff" stroke="#f0444a" stroke-width="0.6"/>
<circle cx="262.35" cy="236.72" r="1" fill="#fff" stroke="#f0444a" stroke-width="0.6"/>
<circle cx="269.82" cy="228.32" r="1" fill="#fff" stroke="#f0444a" stroke-width="0.6"/>
<circle cx="277.3" cy="231.68" r="1" fill="#fff" stroke="#f0444a" stroke-width="0.6"/>
<text x="238" y="269.2" font-size="4.3" text-anchor="middle" font-weight="bold" fill="#222">Day(d)</text>
<text x="185.3" y="228.9" font-size="4.3" text-anchor="middle" font-weight="bold" fill="#222" transform="rotate(-90 185.3 228.9)">24h total fluid intake</text>
<text x="190" y="228.9" font-size="4.3" text-anchor="middle" font-weight="bold" fill="#222" transform="rotate(-90 190 228.9)">(ml)</text>
<line x1="261" y1="206.8" x2="266" y2="206.8" stroke="#111" stroke-width="0.6"/>
<circle cx="263.5" cy="206.8" r="1" fill="#111" stroke="#111" stroke-width="0.4"/>
<text x="268.4" y="208.4" font-size="4.7" fill="#222" textLength="29.3" lengthAdjust="spacingAndGlyphs">Water (control)</text>
<line x1="261" y1="214" x2="266" y2="214" stroke="#f0444a" stroke-width="0.6"/>
<circle cx="263.5" cy="214" r="1" fill="#fff" stroke="#f0444a" stroke-width="0.6"/>
<text x="268.4" y="215.6" font-size="4.7" fill="#f0444a" textLength="49.9" lengthAdjust="spacingAndGlyphs">Chronic ethanol exposure</text>
<path d="M371.7 141.69 L372.19 141.73 L372.69 141.53 L373.19 141.55 L373.68 141.2 L374.18 141.54 L374.67 141.89 L375.16 141.46 L375.66 141.29 L376.15 142.18 L376.65 142.23 L377.14 142.33 L377.64 142.37 L378.13 142.29 L378.63 141.98 L379.12 142.75 L379.62 143.99 L380.12 144.91 L380.61 144.02 L381.1 143.82 L381.6 143.99 L382.09 144.27 L382.59 145.72 L383.08 145.23 L383.58 143.65 L384.07 143.71 L384.57 141.17 L385.06 139.95 L385.56 140.66 L386.06 139.88 L386.55 141.18 L387.04 142.11 L387.54 141.86 L388.03 135.59 L388.53 131.28 L389.02 125.66 L389.52 121.01 L390.01 118.95 L390.51 116.8 L391 116.47 L391.5 116.87 L392 117.23 L392.49 117.16 L392.99 115.79 L393.48 115.88 L393.97 116.56 L394.47 117.09 L394.96 118.09 L395.46 117.79 L395.95 117.66 L396.45 117.2 L396.94 116.86 L397.44 116.88 L397.94 118.89 L398.43 122 L398.92 123.44 L399.42 124.46 L399.91 124.67 L400.41 126.44 L400.9 126.96 L401.4 126.06 L401.89 126.59 L402.39 128.26 L402.88 127.99 L403.38 129.62 L403.88 130.23 L404.37 129.55 L404.87 129.36 L405.36 130 L405.85 130.95 L406.35 130.5 L406.84 130.53 L407.34 131.9 L407.83 131.55 L408.33 131 L408.82 132.03 L409.32 133.01 L409.81 132.98 L410.31 132.74 L410.81 134.08 L411.3 135.06 L411.79 135.67 L412.29 135.18 L412.78 135.08 L413.28 134.56 L413.77 134.43 L414.27 134.48 L414.76 135.04 L415.26 136.23 L415.75 136.15 L416.25 135.39 L416.75 134.57 L417.24 133.83 L417.73 134.72 L418.23 134.99 L418.72 134.82 L419.22 136.12 L419.71 137.75 L420.21 138.33 L420.7 139.17 L421.2 139 L421.69 138.94 L422.19 138.08 L422.69 137.9 L423.18 138.48 L423.67 138.77 L424.17 138.08 L424.66 138.87 L425.16 139.23 L425.65 139.89 L426.15 139.54 L426.64 138.9 L427.14 140.44 L427.63 140.96 L428.13 140.35 L428.62 138.99 L429.12 139.04 L429.61 139.32 L430.11 140.11 L430.6 140.89 L431.1 139.82 L431.59 138.93 L432.09 139.28 L432.58 138.82 L433.08 139.2 L433.57 139.9 L434.07 138.99 L434.56 138 L435.06 138.44 L435.56 138.2 L436.05 138.43 L436.54 139.12 L437.04 138.77 L437.53 140.12 L438.03 140.35 L438.52 139.55 L439.02 140.04 L439.51 140.49 L440.01 140.35 L440.5 141.38 L441 143.31 L441.5 143.03 L441.99 142.74 L442.49 141.74 L442.98 141 L443.47 142.25 L443.97 142.53 L444.46 141.07 L444.96 140.83 L445.45 142.39 L445.95 141.46 L446.44 140.62 L446.94 141.19 L447.43 142.11 L447.93 142.97 L448.42 141.97 L448.92 141.89 L449.41 143.21 L449.91 142.62 L450.4 141.72 L450.9 142.36 L450.9 150.28 L450.4 150.95 L449.91 149.6 L449.41 149.05 L448.92 149.81 L448.42 148.86 L447.93 148.48 L447.43 148.89 L446.94 149.41 L446.44 148.91 L445.95 148.46 L445.45 148.53 L444.96 150.34 L444.46 150.57 L443.97 148.58 L443.47 149.15 L442.98 149.95 L442.49 149.3 L441.99 148.44 L441.5 148.45 L441 148.18 L440.5 148.93 L440.01 148.99 L439.51 147.7 L439.02 148.19 L438.52 148.07 L438.03 146.54 L437.53 145.9 L437.04 146.33 L436.54 146.29 L436.05 146.85 L435.56 147.18 L435.06 147.57 L434.56 148.08 L434.07 146.97 L433.57 146.05 L433.08 146.93 L432.58 147.4 L432.09 147.13 L431.59 147.63 L431.1 146.82 L430.6 146.05 L430.11 146.94 L429.61 147.1 L429.12 147.08 L428.62 146.91 L428.13 145.92 L427.63 144.77 L427.14 145.34 L426.64 146.61 L426.15 145.66 L425.65 144.78 L425.16 145.73 L424.66 146.63 L424.17 146.92 L423.67 146.08 L423.18 145.69 L422.69 147.08 L422.19 146.78 L421.69 146.94 L421.2 146.54 L420.7 146.41 L420.21 145.56 L419.71 144.75 L419.22 144.95 L418.72 143.94 L418.23 141.12 L417.73 141.25 L417.24 143.16 L416.75 143.73 L416.25 143.38 L415.75 142.63 L415.26 142.29 L414.76 142.93 L414.27 142.86 L413.77 142.32 L413.28 142.21 L412.78 142.12 L412.29 142.23 L411.79 141.63 L411.3 141.08 L410.81 140.85 L410.31 140.81 L409.81 140.51 L409.32 140.03 L408.82 140.15 L408.33 139.62 L407.83 138.39 L407.34 137.44 L406.84 138.09 L406.35 137.69 L405.85 137.56 L405.36 138.16 L404.87 138.93 L404.37 138.43 L403.88 138.11 L403.38 138.04 L402.88 139.2 L402.39 138.01 L401.89 137.98 L401.4 137.55 L400.9 136.51 L400.41 136.96 L399.91 136.21 L399.42 133.72 L398.92 132.36 L398.43 132.01 L397.94 131.5 L397.44 130.03 L396.94 128.49 L396.45 128.33 L395.95 128.06 L395.46 127.66 L394.96 127.15 L394.47 127.56 L393.97 127.39 L393.48 126.87 L392.99 126.75 L392.49 125.83 L392 126.09 L391.5 126.66 L391 127.56 L390.51 128.87 L390.01 130.99 L389.52 132.18 L389.02 131.5 L388.53 136.12 L388.03 142.61 L387.54 147.52 L387.04 147.1 L386.55 148.2 L386.06 147.29 L385.56 145.86 L385.06 146.25 L384.57 147.36 L384.07 147.68 L383.58 150.05 L383.08 151.67 L382.59 151.54 L382.09 151.54 L381.6 150.86 L381.1 150.37 L380.61 149.71 L380.12 148.6 L379.62 148.83 L379.12 149.96 L378.63 149.34 L378.13 149 L377.64 148.48 L377.14 148.65 L376.65 147.9 L376.15 147.77 L375.66 148.65 L375.16 148.28 L374.67 147.24 L374.18 147.74 L373.68 148.05 L373.19 147.81 L372.69 147.23 L372.19 146.65 L371.7 146.42Z" fill="#f6b9bb" fill-opacity="0.75"/>
<path d="M371.7 144.06 L372.19 144.19 L372.69 144.38 L373.19 144.68 L373.68 144.62 L374.18 144.64 L374.67 144.57 L375.16 144.87 L375.66 144.97 L376.15 144.98 L376.65 145.07 L377.14 145.49 L377.64 145.42 L378.13 145.64 L378.63 145.66 L379.12 146.35 L379.62 146.41 L380.12 146.76 L380.61 146.87 L381.1 147.09 L381.6 147.42 L382.09 147.91 L382.59 148.63 L383.08 148.45 L383.58 146.85 L384.07 145.7 L384.57 144.27 L385.06 143.1 L385.56 143.26 L386.06 143.58 L386.55 144.69 L387.04 144.6 L387.54 144.69 L388.03 139.1 L388.53 133.7 L389.02 128.58 L389.52 126.6 L390.01 124.97 L390.51 122.84 L391 122.02 L391.5 121.76 L392 121.66 L392.49 121.49 L392.99 121.27 L393.48 121.38 L393.97 121.97 L394.47 122.32 L394.96 122.62 L395.46 122.73 L395.95 122.86 L396.45 122.76 L396.94 122.67 L397.44 123.46 L397.94 125.19 L398.43 127.01 L398.92 127.9 L399.42 129.09 L399.91 130.44 L400.41 131.7 L400.9 131.73 L401.4 131.8 L401.89 132.28 L402.39 133.14 L402.88 133.59 L403.38 133.83 L403.88 134.17 L404.37 133.99 L404.87 134.15 L405.36 134.08 L405.85 134.25 L406.35 134.1 L406.84 134.31 L407.34 134.67 L407.83 134.97 L408.33 135.31 L408.82 136.09 L409.32 136.52 L409.81 136.74 L410.31 136.77 L410.81 137.46 L411.3 138.07 L411.79 138.65 L412.29 138.7 L412.78 138.6 L413.28 138.39 L413.77 138.38 L414.27 138.67 L414.76 138.98 L415.26 139.26 L415.75 139.39 L416.25 139.39 L416.75 139.15 L417.24 138.5 L417.73 137.98 L418.23 138.05 L418.72 139.38 L419.22 140.53 L419.71 141.25 L420.21 141.95 L420.7 142.79 L421.2 142.77 L421.69 142.94 L422.19 142.43 L422.69 142.49 L423.18 142.09 L423.67 142.42 L424.17 142.5 L424.66 142.75 L425.16 142.48 L425.65 142.33 L426.15 142.6 L426.64 142.76 L427.14 142.89 L427.63 142.87 L428.13 143.13 L428.62 142.95 L429.12 143.06 L429.61 143.21 L430.11 143.53 L430.6 143.47 L431.1 143.32 L431.59 143.28 L432.09 143.2 L432.58 143.11 L433.08 143.06 L433.57 142.98 L434.07 142.98 L434.56 143.04 L435.06 143.01 L435.56 142.69 L436.05 142.64 L436.54 142.7 L437.04 142.55 L437.53 143.01 L438.03 143.45 L438.52 143.81 L439.02 144.11 L439.51 144.1 L440.01 144.67 L440.5 145.16 L441 145.75 L441.5 145.74 L441.99 145.59 L442.49 145.52 L442.98 145.48 L443.47 145.7 L443.97 145.55 L444.46 145.82 L444.96 145.58 L445.45 145.46 L445.95 144.96 L446.44 144.76 L446.94 145.3 L447.43 145.5 L447.93 145.72 L448.42 145.41 L448.92 145.85 L449.41 146.13 L449.91 146.11 L450.4 146.33 L450.9 146.32" stroke="#f0454a" stroke-width="0.55" fill="none" stroke-linejoin="round"/>
<path d="M371.7 142.83 L372.19 143.31 L372.69 142.38 L373.19 142.74 L373.68 141.73 L374.18 141.87 L374.67 141.98 L375.16 141.37 L375.66 141.03 L376.15 141.21 L376.65 141.27 L377.14 140.67 L377.64 139.89 L378.13 138.74 L378.63 138.22 L379.12 139.95 L379.62 141.12 L380.12 142.91 L380.61 143.77 L381.1 144.45 L381.6 144.45 L382.09 144.91 L382.59 146.43 L383.08 146.03 L383.58 145.11 L384.07 144.48 L384.57 144.99 L385.06 145.33 L385.56 145.33 L386.06 145.21 L386.55 145.06 L387.04 144.53 L387.54 144.19 L388.03 138.96 L388.53 133.67 L389.02 128.2 L389.52 126.68 L390.01 126.76 L390.51 126.09 L391 125.74 L391.5 126.51 L392 126.08 L392.49 126.56 L392.99 127.4 L393.48 127.11 L393.97 127.19 L394.47 128.03 L394.96 128.78 L395.46 130.06 L395.95 130.79 L396.45 131.5 L396.94 131.86 L397.44 132.13 L397.94 133.14 L398.43 132.61 L398.92 131.98 L399.42 132.96 L399.91 133.6 L400.41 133.28 L400.9 132.22 L401.4 132.48 L401.89 132.53 L402.39 132.68 L402.88 131.6 L403.38 131.67 L403.88 133.09 L404.37 134.23 L404.87 134.88 L405.36 136.18 L405.85 137.91 L406.35 138.99 L406.84 139.76 L407.34 138.59 L407.83 138.59 L408.33 138.32 L408.82 137.17 L409.32 136.06 L409.81 136.09 L410.31 137.66 L410.81 138.27 L411.3 138.81 L411.79 139.04 L412.29 139.46 L412.78 140.91 L413.28 141.93 L413.77 143.62 L414.27 143.28 L414.76 143.06 L415.26 143.7 L415.75 144.87 L416.25 145.32 L416.75 145.74 L417.24 146.4 L417.73 146.26 L418.23 146.4 L418.72 145.13 L419.22 144.09 L419.71 142.86 L420.21 142.58 L420.7 142.77 L421.2 142.48 L421.69 142.57 L422.19 142.41 L422.69 141.92 L423.18 141.98 L423.67 141.8 L424.17 140.6 L424.66 141.26 L425.16 141.35 L425.65 141.75 L426.15 141.76 L426.64 142.05 L427.14 141.95 L427.63 142.87 L428.13 143.22 L428.62 143.47 L429.12 143.29 L429.61 143 L430.11 142.89 L430.6 143.03 L431.1 142.43 L431.59 142.57 L432.09 143.5 L432.58 143.91 L433.08 142.78 L433.57 143.2 L434.07 143.54 L434.56 143.85 L435.06 143.26 L435.56 142.43 L436.05 142.7 L436.54 142.45 L437.04 142.6 L437.53 142.8 L438.03 142.81 L438.52 143.15 L439.02 143.28 L439.51 143.17 L440.01 142.68 L440.5 142.38 L441 142.35 L441.5 142.86 L441.99 143.61 L442.49 143.91 L442.98 143.12 L443.47 142.86 L443.97 143.02 L444.46 143.04 L444.96 143.42 L445.45 143.8 L445.95 143.7 L446.44 143.98 L446.94 144.44 L447.43 143.74 L447.93 143.99 L448.42 144.25 L448.92 144.48 L449.41 144.19 L449.91 145.27 L450.4 146.48 L450.9 145.79 L450.9 149.64 L450.4 149.54 L449.91 150.38 L449.41 150.39 L448.92 149.85 L448.42 150.09 L447.93 150.43 L447.43 150.22 L446.94 149.48 L446.44 149.76 L445.95 149.85 L445.45 148.99 L444.96 149.03 L444.46 148.74 L443.97 148.55 L443.47 148.78 L442.98 148.49 L442.49 148.31 L441.99 147.65 L441.5 148.07 L441 148.38 L440.5 148.51 L440.01 148.53 L439.51 147.41 L439.02 147.28 L438.52 147.38 L438.03 147.81 L437.53 148.41 L437.04 148.59 L436.54 148.49 L436.05 147.79 L435.56 148.52 L435.06 148.64 L434.56 148.53 L434.07 148.6 L433.57 148.45 L433.08 148.89 L432.58 148.66 L432.09 148.41 L431.59 148.89 L431.1 148.16 L430.6 148.39 L430.11 148.72 L429.61 148.63 L429.12 148.2 L428.62 148.87 L428.13 148.3 L427.63 148.18 L427.14 147.74 L426.64 147.95 L426.15 147.96 L425.65 148.3 L425.16 147.56 L424.66 147.32 L424.17 147.59 L423.67 147.07 L423.18 146.81 L422.69 146.35 L422.19 145.29 L421.69 145.88 L421.2 147.04 L420.7 147.9 L420.21 148.96 L419.71 149.65 L419.22 149.99 L418.72 150.16 L418.23 150.58 L417.73 151.6 L417.24 151.96 L416.75 151.51 L416.25 151.32 L415.75 150.53 L415.26 150.48 L414.76 150.23 L414.27 148.99 L413.77 148.75 L413.28 148.27 L412.78 147.64 L412.29 146.61 L411.79 145.27 L411.3 143.7 L410.81 143.02 L410.31 142.58 L409.81 142.34 L409.32 142.64 L408.82 142.55 L408.33 142.78 L407.83 144.26 L407.34 144.8 L406.84 145.61 L406.35 144.56 L405.85 143.4 L405.36 142.5 L404.87 141.23 L404.37 140.55 L403.88 139.3 L403.38 138.95 L402.88 137.63 L402.39 136.92 L401.89 137.27 L401.4 138.05 L400.9 138.43 L400.41 138.03 L399.91 136.87 L399.42 137.35 L398.92 138.06 L398.43 137.57 L397.94 137.15 L397.44 136.93 L396.94 136.61 L396.45 136.74 L395.95 136.5 L395.46 135.54 L394.96 134.48 L394.47 133.32 L393.97 132.59 L393.48 131.4 L392.99 130.5 L392.49 131.53 L392 131.92 L391.5 131.38 L391 130.49 L390.51 130.5 L390.01 131.41 L389.52 132.91 L389.02 133.62 L388.53 138.3 L388.03 143.55 L387.54 148.03 L387.04 149.38 L386.55 150.88 L386.06 150.96 L385.56 150.9 L385.06 150.48 L384.57 150.84 L384.07 151.62 L383.58 151.58 L383.08 151.02 L382.59 150.72 L382.09 150.82 L381.6 150.01 L381.1 148.68 L380.61 148.14 L380.12 146.64 L379.62 144.87 L379.12 144.39 L378.63 144.41 L378.13 143.88 L377.64 143.12 L377.14 143.94 L376.65 144.81 L376.15 146.05 L375.66 147.32 L375.16 147.74 L374.67 146.62 L374.18 146.64 L373.68 146.79 L373.19 147.27 L372.69 147.79 L372.19 147.68 L371.7 147.9Z" fill="#a9d2f7" fill-opacity="0.75"/>
<path d="M371.7 145.36 L372.19 145.5 L372.69 145.09 L373.19 145 L373.68 144.26 L374.18 144.25 L374.67 144.3 L375.16 144.56 L375.66 144.18 L376.15 143.63 L376.65 143.04 L377.14 142.31 L377.64 141.51 L378.13 141.31 L378.63 141.32 L379.12 142.17 L379.62 142.99 L380.12 144.78 L380.61 145.95 L381.1 146.57 L381.6 147.23 L382.09 147.87 L382.59 148.58 L383.08 148.53 L383.58 148.35 L384.07 148.05 L384.57 147.91 L385.06 147.9 L385.56 148.11 L386.06 148.08 L386.55 147.97 L387.04 146.96 L387.54 146.11 L388.03 141.26 L388.53 135.99 L389.02 130.91 L389.52 129.8 L390.01 129.08 L390.51 128.3 L391 128.11 L391.5 128.95 L392 129 L392.49 129.05 L392.99 128.95 L393.48 129.25 L393.97 129.89 L394.47 130.67 L394.96 131.63 L395.46 132.8 L395.95 133.64 L396.45 134.12 L396.94 134.24 L397.44 134.53 L397.94 135.15 L398.43 135.09 L398.92 135.02 L399.42 135.15 L399.91 135.23 L400.41 135.65 L400.9 135.33 L401.4 135.27 L401.89 134.9 L402.39 134.8 L402.88 134.61 L403.38 135.31 L403.88 136.2 L404.37 137.39 L404.87 138.05 L405.36 139.34 L405.85 140.66 L406.35 141.78 L406.84 142.68 L407.34 141.7 L407.83 141.43 L408.33 140.55 L408.82 139.86 L409.32 139.35 L409.81 139.22 L410.31 140.12 L410.81 140.64 L411.3 141.25 L411.79 142.15 L412.29 143.03 L412.78 144.27 L413.28 145.1 L413.77 146.18 L414.27 146.14 L414.76 146.64 L415.26 147.09 L415.75 147.7 L416.25 148.32 L416.75 148.62 L417.24 149.18 L417.73 148.93 L418.23 148.49 L418.72 147.65 L419.22 147.04 L419.71 146.26 L420.21 145.77 L420.7 145.33 L421.2 144.76 L421.69 144.22 L422.19 143.85 L422.69 144.14 L423.18 144.4 L423.67 144.43 L424.17 144.1 L424.66 144.29 L425.16 144.46 L425.65 145.03 L426.15 144.86 L426.64 145 L427.14 144.85 L427.63 145.53 L428.13 145.76 L428.62 146.17 L429.12 145.74 L429.61 145.82 L430.11 145.8 L430.6 145.71 L431.1 145.3 L431.59 145.73 L432.09 145.96 L432.58 146.29 L433.08 145.83 L433.57 145.82 L434.07 146.07 L434.56 146.19 L435.06 145.95 L435.56 145.47 L436.05 145.24 L436.54 145.47 L437.04 145.59 L437.53 145.61 L438.03 145.31 L438.52 145.26 L439.02 145.28 L439.51 145.29 L440.01 145.6 L440.5 145.44 L441 145.37 L441.5 145.46 L441.99 145.63 L442.49 146.11 L442.98 145.81 L443.47 145.82 L443.97 145.78 L444.46 145.89 L444.96 146.23 L445.45 146.4 L445.95 146.77 L446.44 146.87 L446.94 146.96 L447.43 146.98 L447.93 147.21 L448.42 147.17 L448.92 147.16 L449.41 147.29 L449.91 147.82 L450.4 148.01 L450.9 147.72" stroke="#3f3ff0" stroke-width="0.55" fill="none" stroke-linejoin="round"/>
<line x1="387.54" y1="109.9" x2="387.54" y2="162.9" stroke="#111" stroke-width="0.55" stroke-dasharray="1.2 0.9"/>
<line x1="387.54" y1="145.23" x2="450.9" y2="145.23" stroke="#555" stroke-width="0.45" stroke-dasharray="1.2 1"/>
<line x1="371.7" y1="109.6" x2="371.7" y2="163.2" stroke="#222" stroke-width="0.75"/>
<line x1="371.4" y1="162.9" x2="451.2" y2="162.9" stroke="#222" stroke-width="0.75"/>
<line x1="370.1" y1="162.9" x2="371.7" y2="162.9" stroke="#222" stroke-width="0.55"/>
<text x="369.4" y="164.25" font-size="3.7" text-anchor="end" font-weight="bold" fill="#222">-2</text>
<line x1="370.8" y1="154.07" x2="371.7" y2="154.07" stroke="#222" stroke-width="0.55"/>
<line x1="370.1" y1="145.23" x2="371.7" y2="145.23" stroke="#222" stroke-width="0.55"/>
<text x="369.4" y="146.58" font-size="3.7" text-anchor="end" font-weight="bold" fill="#222">0</text>
<line x1="370.8" y1="136.4" x2="371.7" y2="136.4" stroke="#222" stroke-width="0.55"/>
<line x1="370.1" y1="127.57" x2="371.7" y2="127.57" stroke="#222" stroke-width="0.55"/>
<text x="369.4" y="128.92" font-size="3.7" text-anchor="end" font-weight="bold" fill="#222">2</text>
<line x1="370.8" y1="118.73" x2="371.7" y2="118.73" stroke="#222" stroke-width="0.55"/>
<line x1="370.1" y1="109.9" x2="371.7" y2="109.9" stroke="#222" stroke-width="0.55"/>
<text x="369.4" y="111.25" font-size="3.7" text-anchor="end" font-weight="bold" fill="#222">4</text>
<line x1="371.7" y1="162.9" x2="371.7" y2="164.5" stroke="#222" stroke-width="0.55"/>
<text x="371.7" y="170" font-size="3.7" text-anchor="middle" font-weight="bold" fill="#222">-2</text>
<line x1="379.62" y1="162.9" x2="379.62" y2="163.8" stroke="#222" stroke-width="0.55"/>
<line x1="387.54" y1="162.9" x2="387.54" y2="164.5" stroke="#222" stroke-width="0.55"/>
<text x="387.54" y="170" font-size="3.7" text-anchor="middle" font-weight="bold" fill="#222">0</text>
<line x1="395.46" y1="162.9" x2="395.46" y2="163.8" stroke="#222" stroke-width="0.55"/>
<line x1="403.38" y1="162.9" x2="403.38" y2="164.5" stroke="#222" stroke-width="0.55"/>
<text x="403.38" y="170" font-size="3.7" text-anchor="middle" font-weight="bold" fill="#222">2</text>
<line x1="411.3" y1="162.9" x2="411.3" y2="163.8" stroke="#222" stroke-width="0.55"/>
<line x1="419.22" y1="162.9" x2="419.22" y2="164.5" stroke="#222" stroke-width="0.55"/>
<text x="419.22" y="170" font-size="3.7" text-anchor="middle" font-weight="bold" fill="#222">4</text>
<line x1="427.14" y1="162.9" x2="427.14" y2="163.8" stroke="#222" stroke-width="0.55"/>
<line x1="435.06" y1="162.9" x2="435.06" y2="164.5" stroke="#222" stroke-width="0.55"/>
<text x="435.06" y="170" font-size="3.7" text-anchor="middle" font-weight="bold" fill="#222">6</text>
<line x1="442.98" y1="162.9" x2="442.98" y2="163.8" stroke="#222" stroke-width="0.55"/>
<line x1="450.9" y1="162.9" x2="450.9" y2="164.5" stroke="#222" stroke-width="0.55"/>
<text x="450.9" y="170" font-size="3.7" text-anchor="middle" font-weight="bold" fill="#222">8</text>
<text x="411.3" y="176.4" font-size="4.3" text-anchor="middle" font-weight="bold" fill="#222">time (s)</text>
<text x="411.3" y="103.7" font-size="4.6" text-anchor="middle" font-weight="bold" fill="#111">DAY_1</text>
<text x="363.7" y="136.4" font-size="4.3" text-anchor="middle" font-weight="bold" fill="#222" transform="rotate(-90 363.7 136.4)" font-style="italic">ΔF/F (%)</text>
<rect x="440.4" y="111.5" width="5.2" height="5.2" fill="#f08e92" rx="0.6"/>
<rect x="440.4" y="120.3" width="5.2" height="5.2" fill="#8c8cf4" rx="0.6"/>
<text x="448.8" y="115.8" font-size="4.6" fill="#222" textLength="31.6" lengthAdjust="spacingAndGlyphs">EtOH (12 trails)</text>
<text x="448.8" y="124.6" font-size="4.6" fill="#222" textLength="32.1" lengthAdjust="spacingAndGlyphs">Water (27 trials)</text>
<path d="M544.4 147.59 L544.9 147.95 L545.39 148.05 L545.89 147.48 L546.38 147.38 L546.88 147.39 L547.38 146.74 L547.87 146.79 L548.37 147.14 L548.87 147.1 L549.36 146.79 L549.86 146.76 L550.36 146.04 L550.85 145.65 L551.35 146.4 L551.84 146.61 L552.34 145.78 L552.84 146.67 L553.33 147.18 L553.83 146.61 L554.32 146.31 L554.82 146.7 L555.32 146.84 L555.81 148.02 L556.31 148.37 L556.81 148.69 L557.3 149.16 L557.8 149.51 L558.29 149.3 L558.79 149.8 L559.29 149.41 L559.78 149.12 L560.28 148.55 L560.78 142.9 L561.27 137.99 L561.77 132.99 L562.26 129.95 L562.76 127.09 L563.26 125 L563.75 122.87 L564.25 120.6 L564.75 120.11 L565.24 119.94 L565.74 119.59 L566.24 118.71 L566.73 117.73 L567.23 117.88 L567.72 118.13 L568.22 117.95 L568.72 117.98 L569.21 118.52 L569.71 119.06 L570.2 119.86 L570.7 121.64 L571.2 123.96 L571.69 125 L572.19 125.34 L572.69 125.66 L573.18 126.95 L573.68 127.85 L574.17 128.12 L574.67 128.88 L575.17 130.46 L575.66 130.95 L576.16 131.09 L576.66 132.04 L577.15 130.73 L577.65 130.68 L578.14 131.9 L578.64 132.46 L579.14 132.59 L579.63 132.4 L580.13 132.5 L580.63 133.39 L581.12 134.11 L581.62 135.39 L582.12 135.76 L582.61 135.43 L583.11 135.44 L583.6 135.81 L584.1 137 L584.6 137.71 L585.09 138.33 L585.59 138.87 L586.08 139.04 L586.58 139.39 L587.08 139.75 L587.57 139.62 L588.07 139.27 L588.57 139.33 L589.06 140.34 L589.56 140.92 L590.05 141.65 L590.55 142.2 L591.05 142.86 L591.54 143.06 L592.04 143.69 L592.54 143.78 L593.03 143.69 L593.53 143.75 L594.02 144.25 L594.52 144.29 L595.02 143.94 L595.51 144.55 L596.01 144.96 L596.51 145.04 L597 145.1 L597.5 144.68 L598 144.55 L598.49 144.53 L598.99 144.71 L599.48 144.74 L599.98 144.93 L600.48 145.35 L600.97 145.37 L601.47 145.69 L601.96 145.43 L602.46 144.72 L602.96 144.5 L603.45 144.86 L603.95 144.11 L604.45 143.61 L604.94 142.99 L605.44 141.62 L605.93 140.55 L606.43 140.29 L606.93 141.52 L607.42 142.46 L607.92 142.88 L608.42 143.54 L608.91 144.02 L609.41 144.26 L609.9 144.82 L610.4 145.28 L610.9 146.24 L611.39 146.56 L611.89 146.39 L612.39 146.77 L612.88 147.57 L613.38 147.92 L613.88 148.18 L614.37 148.13 L614.87 147.81 L615.36 148.22 L615.86 148.5 L616.36 148.09 L616.85 147.93 L617.35 148.11 L617.84 148.46 L618.34 148.84 L618.84 148.91 L619.33 149.03 L619.83 148.74 L620.33 149.03 L620.82 149.31 L621.32 149.8 L621.81 150.66 L622.31 151.38 L622.81 150.84 L623.3 150.45 L623.8 150.04 L623.8 155.12 L623.3 154.54 L622.81 154.26 L622.31 154.25 L621.81 154.24 L621.32 154.87 L620.82 154.41 L620.33 154.48 L619.83 153.82 L619.33 152.83 L618.84 152.28 L618.34 152.32 L617.84 152.57 L617.35 152.78 L616.85 152.63 L616.36 152.32 L615.86 151.79 L615.36 151.63 L614.87 151.81 L614.37 151.43 L613.88 151.3 L613.38 151.24 L612.88 150.74 L612.39 150.61 L611.89 150.71 L611.39 150.04 L610.9 149.74 L610.4 149.39 L609.9 149.14 L609.41 149.02 L608.91 148.62 L608.42 147.78 L607.92 146.99 L607.42 146.14 L606.93 145.31 L606.43 144.64 L605.93 145.27 L605.44 145.83 L604.94 146.51 L604.45 147.83 L603.95 148 L603.45 148.03 L602.96 148.8 L602.46 149.2 L601.96 148.27 L601.47 148.54 L600.97 149.23 L600.48 149.61 L599.98 149.49 L599.48 149.47 L598.99 149.42 L598.49 149.21 L598 149.31 L597.5 148.99 L597 148.56 L596.51 148.05 L596.01 147.83 L595.51 148.32 L595.02 148.93 L594.52 148.46 L594.02 147.56 L593.53 147.47 L593.03 147.57 L592.54 147.66 L592.04 147.68 L591.54 146.98 L591.05 146.13 L590.55 145.15 L590.05 144.72 L589.56 144.15 L589.06 144.52 L588.57 144.52 L588.07 144.22 L587.57 143.6 L587.08 143.45 L586.58 143.02 L586.08 142.03 L585.59 141.99 L585.09 141.83 L584.6 141.61 L584.1 141.01 L583.6 141.41 L583.11 142.1 L582.61 141.6 L582.12 140.03 L581.62 139.31 L581.12 139.31 L580.63 139.24 L580.13 138.51 L579.63 137.84 L579.14 137.08 L578.64 136.7 L578.14 136.36 L577.65 137.12 L577.15 136.61 L576.66 135.63 L576.16 136.25 L575.66 136.44 L575.17 135.07 L574.67 134.26 L574.17 133.11 L573.68 131.98 L573.18 131.32 L572.69 130.77 L572.19 129.59 L571.69 128.47 L571.2 127.76 L570.7 126.91 L570.2 126.35 L569.71 124.74 L569.21 124.03 L568.72 124.06 L568.22 123.37 L567.72 122.28 L567.23 122.6 L566.73 123.85 L566.24 124.31 L565.74 124.11 L565.24 124.19 L564.75 124.2 L564.25 124.82 L563.75 127.05 L563.26 129.62 L562.76 132.5 L562.26 134.08 L561.77 136.01 L561.27 141.38 L560.78 147.67 L560.28 152.83 L559.78 153.13 L559.29 153.16 L558.79 153.65 L558.29 154.29 L557.8 154.62 L557.3 153.21 L556.81 152.47 L556.31 151.35 L555.81 150.81 L555.32 150.73 L554.82 150.4 L554.32 150.49 L553.83 151.14 L553.33 150.76 L552.84 151.03 L552.34 150.72 L551.84 149.86 L551.35 150.2 L550.85 150.96 L550.36 150.47 L549.86 150.12 L549.36 150.46 L548.87 150.9 L548.37 150.9 L547.87 151.51 L547.38 151.22 L546.88 150.6 L546.38 151.04 L545.89 151.55 L545.39 151.34 L544.9 151.25 L544.4 151.24Z" fill="#f6b9bb" fill-opacity="0.75"/>
<path d="M544.4 149.41 L544.9 149.6 L545.39 149.7 L545.89 149.51 L546.38 149.21 L546.88 149 L547.38 148.98 L547.87 149.15 L548.37 149.02 L548.87 149 L549.36 148.63 L549.86 148.44 L550.36 148.26 L550.85 148.3 L551.35 148.3 L551.84 148.24 L552.34 148.25 L552.84 148.85 L553.33 148.97 L553.83 148.87 L554.32 148.4 L554.82 148.55 L555.32 148.79 L555.81 149.41 L556.31 149.86 L556.81 150.58 L557.3 151.18 L557.8 152.07 L558.29 151.79 L558.79 151.72 L559.29 151.29 L559.78 151.13 L560.28 150.69 L560.78 145.29 L561.27 139.69 L561.77 134.5 L562.26 132.01 L562.76 129.8 L563.26 127.31 L563.75 124.96 L564.25 122.71 L564.75 122.15 L565.24 122.06 L565.74 121.85 L566.24 121.51 L566.73 120.79 L567.23 120.24 L567.72 120.21 L568.22 120.66 L568.72 121.02 L569.21 121.27 L569.71 121.9 L570.2 123.11 L570.7 124.28 L571.2 125.86 L571.69 126.74 L572.19 127.46 L572.69 128.22 L573.18 129.13 L573.68 129.92 L574.17 130.61 L574.67 131.57 L575.17 132.76 L575.66 133.69 L576.16 133.67 L576.66 133.84 L577.15 133.67 L577.65 133.9 L578.14 134.13 L578.64 134.58 L579.14 134.83 L579.63 135.12 L580.13 135.5 L580.63 136.32 L581.12 136.71 L581.62 137.35 L582.12 137.89 L582.61 138.52 L583.11 138.77 L583.6 138.61 L584.1 139 L584.6 139.66 L585.09 140.08 L585.59 140.43 L586.08 140.54 L586.58 141.2 L587.08 141.6 L587.57 141.61 L588.07 141.74 L588.57 141.92 L589.06 142.43 L589.56 142.54 L590.05 143.19 L590.55 143.68 L591.05 144.49 L591.54 145.02 L592.04 145.69 L592.54 145.72 L593.03 145.63 L593.53 145.61 L594.02 145.9 L594.52 146.38 L595.02 146.43 L595.51 146.44 L596.01 146.4 L596.51 146.54 L597 146.83 L597.5 146.84 L598 146.93 L598.49 146.87 L598.99 147.07 L599.48 147.1 L599.98 147.21 L600.48 147.48 L600.97 147.3 L601.47 147.12 L601.96 146.85 L602.46 146.96 L602.96 146.65 L603.45 146.44 L603.95 146.06 L604.45 145.72 L604.94 144.75 L605.44 143.72 L605.93 142.91 L606.43 142.46 L606.93 143.42 L607.42 144.3 L607.92 144.93 L608.42 145.66 L608.91 146.32 L609.41 146.64 L609.9 146.98 L610.4 147.33 L610.9 147.99 L611.39 148.3 L611.89 148.55 L612.39 148.69 L612.88 149.15 L613.38 149.58 L613.88 149.74 L614.37 149.78 L614.87 149.81 L615.36 149.92 L615.86 150.14 L616.36 150.21 L616.85 150.28 L617.35 150.44 L617.84 150.51 L618.34 150.58 L618.84 150.59 L619.33 150.93 L619.83 151.28 L620.33 151.76 L620.82 151.86 L621.32 152.33 L621.81 152.45 L622.31 152.81 L622.81 152.55 L623.3 152.5 L623.8 152.58" stroke="#f0454a" stroke-width="0.55" fill="none" stroke-linejoin="round"/>
<path d="M544.4 148.03 L544.9 147.87 L545.39 147.7 L545.89 147.57 L546.38 147.37 L546.88 147.01 L547.38 147.35 L547.87 147.86 L548.37 147.39 L548.87 147.53 L549.36 148.04 L549.86 148.29 L550.36 148.59 L550.85 149.05 L551.35 149.03 L551.84 149.92 L552.34 149.02 L552.84 148.1 L553.33 147.3 L553.83 147.87 L554.32 147.08 L554.82 146.24 L555.32 146.41 L555.81 146.12 L556.31 146.1 L556.81 146.48 L557.3 146.4 L557.8 146.89 L558.29 147.13 L558.79 147.46 L559.29 148.23 L559.78 148.81 L560.28 149.86 L560.78 148.06 L561.27 145.09 L561.77 143.12 L562.26 140.3 L562.76 138.95 L563.26 137.69 L563.75 136.37 L564.25 135.06 L564.75 135.49 L565.24 135.77 L565.74 135.73 L566.24 135.41 L566.73 135.9 L567.23 136.69 L567.72 136.96 L568.22 137.11 L568.72 137.41 L569.21 138.5 L569.71 139.03 L570.2 139.77 L570.7 140.19 L571.2 139.78 L571.69 139.41 L572.19 139.3 L572.69 139.83 L573.18 140.56 L573.68 140.47 L574.17 140.16 L574.67 139.98 L575.17 139.87 L575.66 140.2 L576.16 140.9 L576.66 141.24 L577.15 141.53 L577.65 142.07 L578.14 142.3 L578.64 143.12 L579.14 142.42 L579.63 143 L580.13 144.25 L580.63 144.58 L581.12 144.24 L581.62 144.63 L582.12 145.32 L582.61 145.49 L583.11 145.73 L583.6 145.72 L584.1 145.44 L584.6 145.3 L585.09 145.74 L585.59 145.65 L586.08 145.14 L586.58 144.91 L587.08 145.63 L587.57 146.22 L588.07 146.27 L588.57 146.12 L589.06 146.57 L589.56 146.75 L590.05 146.62 L590.55 147.19 L591.05 147.24 L591.54 146.89 L592.04 146.69 L592.54 147.23 L593.03 147.73 L593.53 147.76 L594.02 147.53 L594.52 147.63 L595.02 148.36 L595.51 149.33 L596.01 148.35 L596.51 148.63 L597 148.48 L597.5 148.01 L598 148.17 L598.49 148.58 L598.99 148.16 L599.48 148.1 L599.98 148.51 L600.48 148.7 L600.97 148.54 L601.47 148.87 L601.96 148.73 L602.46 148.6 L602.96 148.39 L603.45 148.65 L603.95 148.83 L604.45 148.54 L604.94 148.15 L605.44 147.59 L605.93 147.77 L606.43 147.96 L606.93 147.84 L607.42 148.03 L607.92 147.28 L608.42 146.66 L608.91 146.46 L609.41 145.87 L609.9 146.56 L610.4 147.26 L610.9 146.99 L611.39 146.63 L611.89 147.43 L612.39 146.96 L612.88 146.92 L613.38 147.57 L613.88 147.81 L614.37 147.65 L614.87 147.51 L615.36 147.78 L615.86 147.85 L616.36 148.34 L616.85 148.13 L617.35 148.48 L617.84 148.74 L618.34 149.15 L618.84 149.53 L619.33 149.97 L619.83 149.84 L620.33 150.14 L620.82 150.48 L621.32 150.82 L621.81 151.22 L622.31 151.42 L622.81 151.87 L623.3 152.16 L623.8 151.91 L623.8 154.91 L623.3 155.22 L622.81 155.4 L622.31 155.94 L621.81 154.92 L621.32 154.45 L620.82 153.87 L620.33 154.16 L619.83 153.99 L619.33 153.32 L618.84 153.33 L618.34 153.54 L617.84 153.42 L617.35 152.91 L616.85 152.24 L616.36 151.97 L615.86 152.02 L615.36 152.17 L614.87 151.6 L614.37 151.54 L613.88 151.28 L613.38 151.28 L612.88 151.3 L612.39 150.71 L611.89 150.63 L611.39 151.43 L610.9 151.07 L610.4 149.86 L609.9 150.66 L609.41 151.24 L608.91 151.3 L608.42 151.41 L607.92 151.22 L607.42 150.57 L606.93 151 L606.43 150.89 L605.93 151.32 L605.44 151.86 L604.94 151.45 L604.45 151.34 L603.95 151.27 L603.45 152 L602.96 152.78 L602.46 153.33 L601.96 153.87 L601.47 153.6 L600.97 153.21 L600.48 152.59 L599.98 152.3 L599.48 152.55 L598.99 151.96 L598.49 151.51 L598 151.6 L597.5 152.1 L597 151.39 L596.51 152.12 L596.01 152.47 L595.51 152.31 L595.02 152.01 L594.52 152.26 L594.02 151.35 L593.53 151.61 L593.03 152.05 L592.54 152.15 L592.04 151.93 L591.54 151.07 L591.05 150.68 L590.55 150.72 L590.05 150.94 L589.56 150.38 L589.06 150.18 L588.57 150.78 L588.07 150.48 L587.57 149.99 L587.08 149.85 L586.58 150.24 L586.08 149.82 L585.59 149.17 L585.09 149.3 L584.6 149.85 L584.1 149.82 L583.6 149.23 L583.11 149.76 L582.61 149.74 L582.12 149.96 L581.62 149.67 L581.12 149.46 L580.63 148.71 L580.13 147.82 L579.63 148.07 L579.14 147.37 L578.64 146.89 L578.14 146.52 L577.65 146.31 L577.15 145.69 L576.66 145.96 L576.16 145.56 L575.66 145.35 L575.17 144.84 L574.67 144.76 L574.17 144.93 L573.68 144.55 L573.18 144.23 L572.69 144.84 L572.19 144.86 L571.69 144.42 L571.2 143.86 L570.7 143.4 L570.2 143.58 L569.71 143.29 L569.21 143.34 L568.72 143.4 L568.22 142.51 L567.72 141.59 L567.23 140.94 L566.73 140.79 L566.24 140.92 L565.74 140.31 L565.24 140.14 L564.75 140.23 L564.25 139.84 L563.75 141.12 L563.26 141.9 L562.76 143.08 L562.26 144.24 L561.77 147.19 L561.27 150.91 L560.78 153.71 L560.28 153.47 L559.78 152.61 L559.29 151.79 L558.79 151.25 L558.29 151.11 L557.8 150.66 L557.3 150.58 L556.81 149.94 L556.31 149.85 L555.81 149.67 L555.32 149.69 L554.82 150.92 L554.32 150.54 L553.83 151.17 L553.33 152.81 L552.84 153.38 L552.34 153.23 L551.84 154.13 L551.35 154.24 L550.85 153.27 L550.36 152.71 L549.86 152.44 L549.36 151.66 L548.87 151.3 L548.37 150.47 L547.87 150.01 L547.38 150.42 L546.88 150.88 L546.38 150.94 L545.89 151.5 L545.39 151.47 L544.9 152.1 L544.4 152.17Z" fill="#a9d2f7" fill-opacity="0.75"/>
<path d="M544.4 150.1 L544.9 149.98 L545.39 149.59 L545.89 149.53 L546.38 149.16 L546.88 148.94 L547.38 148.89 L547.87 148.94 L548.37 148.93 L548.87 149.42 L549.36 149.85 L549.86 150.36 L550.36 150.65 L550.85 151.16 L551.35 151.64 L551.84 152.02 L552.34 151.13 L552.84 150.74 L553.33 150.05 L553.83 149.52 L554.32 148.81 L554.82 148.58 L555.32 148.05 L555.81 147.9 L556.31 147.98 L556.81 148.21 L557.3 148.49 L557.8 148.78 L558.29 149.12 L558.79 149.36 L559.29 150.01 L559.78 150.71 L560.28 151.66 L560.78 150.89 L561.27 148 L561.77 145.16 L562.26 142.27 L562.76 141.02 L563.26 139.79 L563.75 138.74 L564.25 137.45 L564.75 137.86 L565.24 137.96 L565.74 138.02 L566.24 138.17 L566.73 138.35 L567.23 138.81 L567.72 139.28 L568.22 139.81 L568.72 140.41 L569.21 140.92 L569.71 141.16 L570.2 141.67 L570.7 141.79 L571.2 141.82 L571.69 141.92 L572.19 142.08 L572.69 142.33 L573.18 142.39 L573.68 142.51 L574.17 142.55 L574.67 142.37 L575.17 142.35 L575.66 142.78 L576.16 143.23 L576.66 143.6 L577.15 143.61 L577.65 144.19 L578.14 144.41 L578.64 145.01 L579.14 144.9 L579.63 145.53 L580.13 146.04 L580.63 146.65 L581.12 146.85 L581.62 147.15 L582.12 147.64 L582.61 147.62 L583.11 147.75 L583.6 147.48 L584.1 147.63 L584.6 147.57 L585.09 147.52 L585.59 147.41 L586.08 147.48 L586.58 147.58 L587.08 147.74 L587.57 148.11 L588.07 148.37 L588.57 148.45 L589.06 148.38 L589.56 148.56 L590.05 148.78 L590.55 148.95 L591.05 148.96 L591.54 148.98 L592.04 149.31 L592.54 149.69 L593.03 149.89 L593.53 149.68 L594.02 149.44 L594.52 149.95 L595.02 150.18 L595.51 150.82 L596.01 150.41 L596.51 150.37 L597 149.94 L597.5 150.05 L598 149.89 L598.49 150.05 L598.99 150.06 L599.48 150.32 L599.98 150.41 L600.48 150.65 L600.97 150.88 L601.47 151.23 L601.96 151.3 L602.46 150.97 L602.96 150.58 L603.45 150.33 L603.95 150.05 L604.45 149.94 L604.94 149.8 L605.44 149.72 L605.93 149.55 L606.43 149.43 L606.93 149.42 L607.42 149.3 L607.92 149.25 L608.42 149.04 L608.91 148.88 L609.41 148.56 L609.9 148.61 L610.4 148.56 L610.9 149.03 L611.39 149.03 L611.89 149.03 L612.39 148.84 L612.88 149.11 L613.38 149.42 L613.88 149.54 L614.37 149.59 L614.87 149.56 L615.36 149.98 L615.86 149.94 L616.36 150.15 L616.85 150.19 L617.35 150.7 L617.84 151.08 L618.34 151.34 L618.84 151.43 L619.33 151.64 L619.83 151.92 L620.33 152.15 L620.82 152.17 L621.32 152.64 L621.81 153.07 L622.31 153.68 L622.81 153.64 L623.3 153.69 L623.8 153.41" stroke="#3f3ff0" stroke-width="0.55" fill="none" stroke-linejoin="round"/>
<line x1="560.28" y1="109.9" x2="560.28" y2="162.9" stroke="#111" stroke-width="0.55" stroke-dasharray="1.2 0.9"/>
<line x1="560.28" y1="149.65" x2="623.8" y2="149.65" stroke="#555" stroke-width="0.45" stroke-dasharray="1.2 1"/>
<line x1="544.4" y1="109.6" x2="544.4" y2="163.2" stroke="#222" stroke-width="0.75"/>
<line x1="544.1" y1="162.9" x2="624.1" y2="162.9" stroke="#222" stroke-width="0.75"/>
<line x1="542.8" y1="162.9" x2="544.4" y2="162.9" stroke="#222" stroke-width="0.55"/>
<text x="542.1" y="164.25" font-size="3.7" text-anchor="end" font-weight="bold" fill="#222">-2</text>
<line x1="543.5" y1="156.28" x2="544.4" y2="156.28" stroke="#222" stroke-width="0.55"/>
<line x1="542.8" y1="149.65" x2="544.4" y2="149.65" stroke="#222" stroke-width="0.55"/>
<text x="542.1" y="151" font-size="3.7" text-anchor="end" font-weight="bold" fill="#222">0</text>
<line x1="543.5" y1="143.03" x2="544.4" y2="143.03" stroke="#222" stroke-width="0.55"/>
<line x1="542.8" y1="136.4" x2="544.4" y2="136.4" stroke="#222" stroke-width="0.55"/>
<text x="542.1" y="137.75" font-size="3.7" text-anchor="end" font-weight="bold" fill="#222">2</text>
<line x1="543.5" y1="129.78" x2="544.4" y2="129.78" stroke="#222" stroke-width="0.55"/>
<line x1="542.8" y1="123.15" x2="544.4" y2="123.15" stroke="#222" stroke-width="0.55"/>
<text x="542.1" y="124.5" font-size="3.7" text-anchor="end" font-weight="bold" fill="#222">4</text>
<line x1="543.5" y1="116.53" x2="544.4" y2="116.53" stroke="#222" stroke-width="0.55"/>
<line x1="542.8" y1="109.9" x2="544.4" y2="109.9" stroke="#222" stroke-width="0.55"/>
<text x="542.1" y="111.25" font-size="3.7" text-anchor="end" font-weight="bold" fill="#222">6</text>
<line x1="544.4" y1="162.9" x2="544.4" y2="164.5" stroke="#222" stroke-width="0.55"/>
<text x="544.4" y="170" font-size="3.7" text-anchor="middle" font-weight="bold" fill="#222">-2</text>
<line x1="552.34" y1="162.9" x2="552.34" y2="163.8" stroke="#222" stroke-width="0.55"/>
<line x1="560.28" y1="162.9" x2="560.28" y2="164.5" stroke="#222" stroke-width="0.55"/>
<text x="560.28" y="170" font-size="3.7" text-anchor="middle" font-weight="bold" fill="#222">0</text>
<line x1="568.22" y1="162.9" x2="568.22" y2="163.8" stroke="#222" stroke-width="0.55"/>
<line x1="576.16" y1="162.9" x2="576.16" y2="164.5" stroke="#222" stroke-width="0.55"/>
<text x="576.16" y="170" font-size="3.7" text-anchor="middle" font-weight="bold" fill="#222">2</text>
<line x1="584.1" y1="162.9" x2="584.1" y2="163.8" stroke="#222" stroke-width="0.55"/>
<line x1="592.04" y1="162.9" x2="592.04" y2="164.5" stroke="#222" stroke-width="0.55"/>
<text x="592.04" y="170" font-size="3.7" text-anchor="middle" font-weight="bold" fill="#222">4</text>
<line x1="599.98" y1="162.9" x2="599.98" y2="163.8" stroke="#222" stroke-width="0.55"/>
<line x1="607.92" y1="162.9" x2="607.92" y2="164.5" stroke="#222" stroke-width="0.55"/>
<text x="607.92" y="170" font-size="3.7" text-anchor="middle" font-weight="bold" fill="#222">6</text>
<line x1="615.86" y1="162.9" x2="615.86" y2="163.8" stroke="#222" stroke-width="0.55"/>
<line x1="623.8" y1="162.9" x2="623.8" y2="164.5" stroke="#222" stroke-width="0.55"/>
<text x="623.8" y="170" font-size="3.7" text-anchor="middle" font-weight="bold" fill="#222">8</text>
<text x="584.1" y="176.4" font-size="4.3" text-anchor="middle" font-weight="bold" fill="#222">time (s)</text>
<text x="584.1" y="103.7" font-size="4.6" text-anchor="middle" font-weight="bold" fill="#111">DAY_3</text>
<text x="536.4" y="136.4" font-size="4.3" text-anchor="middle" font-weight="bold" fill="#222" transform="rotate(-90 536.4 136.4)" font-style="italic">ΔF/F (%)</text>
<rect x="612.7" y="111.5" width="5.2" height="5.2" fill="#f08e92" rx="0.6"/>
<rect x="612.7" y="120.3" width="5.2" height="5.2" fill="#8c8cf4" rx="0.6"/>
<text x="621.1" y="115.8" font-size="4.6" fill="#222" textLength="29.7" lengthAdjust="spacingAndGlyphs">EtOH (32 trails)</text>
<text x="621.1" y="124.6" font-size="4.6" fill="#222" textLength="31" lengthAdjust="spacingAndGlyphs">Water (10 trials)</text>
<path d="M372.6 233.98 L373.09 234.1 L373.59 234.71 L374.08 235.31 L374.57 235.58 L375.06 236.21 L375.56 236.59 L376.05 236.25 L376.54 236.5 L377.03 236.86 L377.53 236.87 L378.02 236.57 L378.51 236.47 L379 236.61 L379.5 236.84 L379.99 237.23 L380.48 237.6 L380.97 238.15 L381.47 238.15 L381.96 237.76 L382.45 238.74 L382.94 239.11 L383.44 238.65 L383.93 238.49 L384.42 238.01 L384.91 237.9 L385.41 237.41 L385.9 236.16 L386.39 236.45 L386.88 236.79 L387.38 236.1 L387.87 236.39 L388.36 237.23 L388.85 232.55 L389.35 227.52 L389.84 222.3 L390.33 219.88 L390.82 217.84 L391.31 215.66 L391.81 213.37 L392.3 213.15 L392.79 212.72 L393.29 212.81 L393.78 212.35 L394.27 211.87 L394.76 211.47 L395.25 211.31 L395.75 211.19 L396.24 211.59 L396.73 212.31 L397.23 212.74 L397.72 212.99 L398.21 213.12 L398.7 214.26 L399.19 215.12 L399.69 215.74 L400.18 215.98 L400.67 216.3 L401.17 217.99 L401.66 218.87 L402.15 219.08 L402.64 219.89 L403.13 220.39 L403.63 220.25 L404.12 221.36 L404.61 222.4 L405.11 222.5 L405.6 221.83 L406.09 222.22 L406.58 221.76 L407.07 221.85 L407.57 221.94 L408.06 221.98 L408.55 222.93 L409.05 223.4 L409.54 223.44 L410.03 224.56 L410.52 225.35 L411.01 226.06 L411.51 226.69 L412 226.2 L412.49 226.92 L412.99 227.2 L413.48 228.05 L413.97 228.56 L414.46 228.62 L414.95 228.24 L415.45 227.05 L415.94 227.25 L416.43 228.46 L416.93 228.97 L417.42 228.72 L417.91 228.88 L418.4 229.5 L418.89 230.38 L419.39 230.64 L419.88 231.3 L420.37 232.05 L420.87 232.63 L421.36 232.2 L421.85 232.94 L422.34 233.9 L422.83 233.54 L423.33 232.99 L423.82 232.51 L424.31 232.23 L424.81 232.44 L425.3 232.69 L425.79 233.02 L426.28 232.02 L426.77 231.38 L427.27 231.36 L427.76 231.76 L428.25 232.39 L428.75 232.56 L429.24 232.5 L429.73 232.62 L430.22 233.17 L430.71 234.19 L431.21 234.22 L431.7 233.74 L432.19 233.24 L432.69 233.28 L433.18 234.26 L433.67 234.46 L434.16 234.47 L434.65 234.37 L435.15 234.39 L435.64 234.79 L436.13 234.47 L436.62 234.23 L437.12 234.62 L437.61 234.47 L438.1 234.06 L438.59 234.17 L439.09 235.19 L439.58 234.89 L440.07 235.06 L440.56 234.84 L441.06 234.55 L441.55 234.94 L442.04 234.52 L442.53 233.45 L443.03 233.14 L443.52 233.09 L444.01 232.57 L444.5 232.68 L445 232.24 L445.49 232.78 L445.98 234.23 L446.47 234.82 L446.97 235.28 L447.46 235.35 L447.95 236.02 L448.44 235.78 L448.94 235.47 L449.43 235.81 L449.92 235.78 L450.41 235.55 L450.91 235.9 L451.4 236.67 L451.4 238.56 L450.91 238.98 L450.41 239.23 L449.92 238.98 L449.43 239.54 L448.94 240.3 L448.44 240.14 L447.95 239.92 L447.46 239.25 L446.97 238.5 L446.47 237.67 L445.98 237.06 L445.49 236.8 L445 235.98 L444.5 236.15 L444.01 237.21 L443.52 237.17 L443.03 237.58 L442.53 238.31 L442.04 238.15 L441.55 238.12 L441.06 238.52 L440.56 238.37 L440.07 238.65 L439.58 239.1 L439.09 239.04 L438.59 239.22 L438.1 239.22 L437.61 238.53 L437.12 238.61 L436.62 238.53 L436.13 237.85 L435.64 237.5 L435.15 237.83 L434.65 237.78 L434.16 237.87 L433.67 237.84 L433.18 238.26 L432.69 238.99 L432.19 238.78 L431.7 237.78 L431.21 236.74 L430.71 236.53 L430.22 237.16 L429.73 236.94 L429.24 236.46 L428.75 236.29 L428.25 236.19 L427.76 236.24 L427.27 236.21 L426.77 237.38 L426.28 237.44 L425.79 236.78 L425.3 236.68 L424.81 236.77 L424.31 236.51 L423.82 236.73 L423.33 237.2 L422.83 237.88 L422.34 237.17 L421.85 236.32 L421.36 235.7 L420.87 234.84 L420.37 235.44 L419.88 235.67 L419.39 235.11 L418.89 234.29 L418.4 233.26 L417.91 233.7 L417.42 233.16 L416.93 232.84 L416.43 232.5 L415.94 233.22 L415.45 233.07 L414.95 231.83 L414.46 231.43 L413.97 231.15 L413.48 231.48 L412.99 231.4 L412.49 231.25 L412 230.71 L411.51 230.47 L411.01 230.14 L410.52 229.92 L410.03 228.5 L409.54 228.07 L409.05 227.18 L408.55 226.46 L408.06 226.94 L407.57 226.66 L407.07 226.9 L406.58 226.32 L406.09 226.08 L405.6 226.92 L405.11 226.85 L404.61 225.88 L404.12 225.48 L403.63 224.34 L403.13 223.36 L402.64 222.44 L402.15 222.9 L401.66 221.52 L401.17 221 L400.67 220.85 L400.18 219.68 L399.69 219.28 L399.19 218.87 L398.7 218.64 L398.21 217.95 L397.72 217.04 L397.23 216.22 L396.73 216.12 L396.24 216.2 L395.75 216.02 L395.25 215.42 L394.76 214.78 L394.27 215.08 L393.78 215.4 L393.29 215.78 L392.79 216.66 L392.3 217.25 L391.81 217.68 L391.31 219.42 L390.82 221.37 L390.33 224.1 L389.84 226.3 L389.35 231.13 L388.85 235.81 L388.36 241.01 L387.87 241.13 L387.38 240.75 L386.88 240.11 L386.39 240.39 L385.9 240.85 L385.41 240.55 L384.91 240.78 L384.42 241.32 L383.93 241.71 L383.44 242.33 L382.94 241.96 L382.45 241.94 L381.96 242.04 L381.47 241 L380.97 240.64 L380.48 241.3 L379.99 240.82 L379.5 240.67 L379 240.56 L378.51 240.8 L378.02 240.63 L377.53 239.93 L377.03 240 L376.54 240.4 L376.05 240.68 L375.56 239.86 L375.06 239.17 L374.57 239.38 L374.08 239.29 L373.59 239.61 L373.09 239.41 L372.6 238.6Z" fill="#f6b9bb" fill-opacity="0.75"/>
<path d="M372.6 236.29 L373.09 236.75 L373.59 237.16 L374.08 237.3 L374.57 237.48 L375.06 237.69 L375.56 238.22 L376.05 238.47 L376.54 238.45 L377.03 238.43 L377.53 238.4 L378.02 238.6 L378.51 238.64 L379 238.59 L379.5 238.75 L379.99 239.02 L380.48 239.45 L380.97 239.4 L381.47 239.58 L381.96 239.9 L382.45 240.34 L382.94 240.53 L383.44 240.49 L383.93 240.1 L384.42 239.66 L384.91 239.34 L385.41 238.98 L385.9 238.51 L386.39 238.42 L386.88 238.45 L387.38 238.42 L387.87 238.76 L388.36 239.12 L388.85 234.18 L389.35 229.33 L389.84 224.3 L390.33 221.99 L390.82 219.6 L391.31 217.54 L391.81 215.53 L392.3 215.2 L392.79 214.69 L393.29 214.3 L393.78 213.87 L394.27 213.48 L394.76 213.13 L395.25 213.36 L395.75 213.6 L396.24 213.89 L396.73 214.22 L397.23 214.48 L397.72 215.02 L398.21 215.54 L398.7 216.45 L399.19 216.99 L399.69 217.51 L400.18 217.83 L400.67 218.58 L401.17 219.5 L401.66 220.19 L402.15 220.99 L402.64 221.16 L403.13 221.88 L403.63 222.3 L404.12 223.42 L404.61 224.14 L405.11 224.67 L405.6 224.38 L406.09 224.15 L406.58 224.04 L407.07 224.38 L407.57 224.3 L408.06 224.46 L408.55 224.69 L409.05 225.29 L409.54 225.75 L410.03 226.53 L410.52 227.64 L411.01 228.1 L411.51 228.58 L412 228.46 L412.49 229.09 L412.99 229.3 L413.48 229.76 L413.97 229.86 L414.46 230.02 L414.95 230.03 L415.45 230.06 L415.94 230.24 L416.43 230.48 L416.93 230.9 L417.42 230.94 L417.91 231.29 L418.4 231.38 L418.89 232.33 L419.39 232.88 L419.88 233.48 L420.37 233.75 L420.87 233.73 L421.36 233.95 L421.85 234.63 L422.34 235.53 L422.83 235.71 L423.33 235.1 L423.82 234.62 L424.31 234.37 L424.81 234.61 L425.3 234.68 L425.79 234.9 L426.28 234.73 L426.77 234.38 L427.27 233.79 L427.76 234 L428.25 234.29 L428.75 234.43 L429.24 234.48 L429.73 234.78 L430.22 235.16 L430.71 235.36 L431.21 235.48 L431.7 235.76 L432.19 236.01 L432.69 236.13 L433.18 236.26 L433.67 236.15 L434.16 236.17 L434.65 236.08 L435.15 236.11 L435.64 236.14 L436.13 236.16 L436.62 236.38 L437.12 236.62 L437.61 236.5 L438.1 236.64 L438.59 236.69 L439.09 237.11 L439.58 237 L440.07 236.86 L440.56 236.61 L441.06 236.54 L441.55 236.53 L442.04 236.33 L442.53 235.88 L443.03 235.36 L443.52 235.13 L444.01 234.89 L444.5 234.41 L445 234.11 L445.49 234.79 L445.98 235.64 L446.47 236.25 L446.97 236.89 L447.46 237.3 L447.95 237.97 L448.44 237.96 L448.94 237.89 L449.43 237.68 L449.92 237.38 L450.41 237.39 L450.91 237.44 L451.4 237.62" stroke="#f0454a" stroke-width="0.55" fill="none" stroke-linejoin="round"/>
<path d="M372.6 237.91 L373.09 237.89 L373.59 237.29 L374.08 237.62 L374.57 237.41 L375.06 237.38 L375.56 237.1 L376.05 236.8 L376.54 237.37 L377.03 237.91 L377.53 238.48 L378.02 238.78 L378.51 238.95 L379 238.84 L379.5 239.06 L379.99 239.42 L380.48 239.34 L380.97 238.94 L381.47 238.89 L381.96 237.95 L382.45 237.4 L382.94 237.61 L383.44 236.79 L383.93 236.48 L384.42 236.61 L384.91 236.96 L385.41 236.5 L385.9 235.93 L386.39 235.89 L386.88 236.45 L387.38 236.47 L387.87 236.8 L388.36 237.73 L388.85 235.3 L389.35 232.54 L389.84 229.47 L390.33 227.17 L390.82 225.59 L391.31 223.94 L391.81 222.27 L392.3 221.25 L392.79 221.22 L393.29 220.47 L393.78 220.49 L394.27 221.07 L394.76 221.29 L395.25 221.15 L395.75 221.28 L396.24 221.71 L396.73 221.8 L397.23 221.25 L397.72 222.6 L398.21 224.16 L398.7 225.11 L399.19 224.93 L399.69 225.35 L400.18 225.83 L400.67 226.98 L401.17 227.59 L401.66 227.57 L402.15 226.99 L402.64 227.2 L403.13 227.37 L403.63 227.6 L404.12 227.9 L404.61 228.42 L405.11 228.63 L405.6 229.02 L406.09 229.65 L406.58 229.88 L407.07 230.45 L407.57 230.72 L408.06 232.16 L408.55 233.08 L409.05 234.22 L409.54 233.8 L410.03 233.78 L410.52 233.13 L411.01 232.31 L411.51 231.94 L412 232.36 L412.49 233.01 L412.99 233.42 L413.48 233.64 L413.97 234.22 L414.46 234.39 L414.95 234.49 L415.45 235.03 L415.94 234.7 L416.43 235.14 L416.93 235.17 L417.42 235.1 L417.91 234.64 L418.4 235.4 L418.89 235.93 L419.39 235.79 L419.88 235.95 L420.37 235.82 L420.87 236.21 L421.36 236.79 L421.85 236.98 L422.34 237.3 L422.83 237.15 L423.33 237.21 L423.82 237.57 L424.31 237.63 L424.81 238.08 L425.3 237.94 L425.79 237.82 L426.28 237.96 L426.77 237.98 L427.27 237.28 L427.76 237.14 L428.25 237.62 L428.75 237.33 L429.24 236.89 L429.73 236.81 L430.22 236.07 L430.71 235.86 L431.21 235.95 L431.7 235.99 L432.19 235.69 L432.69 236.1 L433.18 236.29 L433.67 236.52 L434.16 236.6 L434.65 236.43 L435.15 236.85 L435.64 236.88 L436.13 236.89 L436.62 237.16 L437.12 237.26 L437.61 237.36 L438.1 237.82 L438.59 238.2 L439.09 238.07 L439.58 238.27 L440.07 238.58 L440.56 239.2 L441.06 239.35 L441.55 239.47 L442.04 239.25 L442.53 239.78 L443.03 240.05 L443.52 239.74 L444.01 239.72 L444.5 239.94 L445 240.36 L445.49 240.3 L445.98 240.44 L446.47 240.52 L446.97 240.69 L447.46 240.58 L447.95 240.27 L448.44 240.08 L448.94 239.49 L449.43 239.53 L449.92 239.43 L450.41 239.29 L450.91 238.69 L451.4 239.21 L451.4 241.91 L450.91 242.33 L450.41 242.5 L449.92 242.53 L449.43 242.81 L448.94 242.46 L448.44 242.35 L447.95 242.25 L447.46 242.74 L446.97 242.78 L446.47 242.69 L445.98 242.46 L445.49 242.59 L445 243.28 L444.5 243.75 L444.01 243.85 L443.52 243.33 L443.03 242.77 L442.53 242.74 L442.04 243 L441.55 242.74 L441.06 242.02 L440.56 241.55 L440.07 241.2 L439.58 241.69 L439.09 241.96 L438.59 241.62 L438.1 241.15 L437.61 240.53 L437.12 239.86 L436.62 239.61 L436.13 239.62 L435.64 239.52 L435.15 239.53 L434.65 239.58 L434.16 239.54 L433.67 239.26 L433.18 239.06 L432.69 238.81 L432.19 238.99 L431.7 239.26 L431.21 239.1 L430.71 239.41 L430.22 239.12 L429.73 239.25 L429.24 239.65 L428.75 240.06 L428.25 239.93 L427.76 240.69 L427.27 240.63 L426.77 239.99 L426.28 240.61 L425.79 241.15 L425.3 240.74 L424.81 240.21 L424.31 240.03 L423.82 240.1 L423.33 240.06 L422.83 240.12 L422.34 239.81 L421.85 239.96 L421.36 239.77 L420.87 239.33 L420.37 238.93 L419.88 238.48 L419.39 238.47 L418.89 237.67 L418.4 237.57 L417.91 238.19 L417.42 238.06 L416.93 237.77 L416.43 238.18 L415.94 237.92 L415.45 238.08 L414.95 238.35 L414.46 238.2 L413.97 236.95 L413.48 236.4 L412.99 235.72 L412.49 235.01 L412 234.43 L411.51 234.13 L411.01 234.94 L410.52 235.3 L410.03 235.76 L409.54 236.57 L409.05 237.2 L408.55 236 L408.06 234.89 L407.57 233.5 L407.07 233.16 L406.58 232.93 L406.09 232.51 L405.6 231.49 L405.11 231.2 L404.61 230.77 L404.12 230.75 L403.63 230.64 L403.13 230.22 L402.64 230.26 L402.15 230.35 L401.66 229.9 L401.17 229.66 L400.67 230.03 L400.18 229.45 L399.69 228.86 L399.19 227.89 L398.7 227.24 L398.21 226.08 L397.72 226.06 L397.23 225.85 L396.73 224.94 L396.24 224.16 L395.75 224.21 L395.25 223.68 L394.76 223.36 L394.27 223.27 L393.78 223.88 L393.29 224.67 L392.79 224.61 L392.3 224.48 L391.81 225.97 L391.31 226.81 L390.82 228.13 L390.33 230.49 L389.84 233.17 L389.35 235.93 L388.85 238.14 L388.36 240.77 L387.87 240.44 L387.38 239.65 L386.88 238.97 L386.39 238.11 L385.9 237.93 L385.41 238.25 L384.91 238.93 L384.42 239.64 L383.93 240.15 L383.44 239.85 L382.94 240.06 L382.45 241.3 L381.96 241.84 L381.47 241.73 L380.97 242.03 L380.48 242.46 L379.99 242.66 L379.5 242.3 L379 241.72 L378.51 241.57 L378.02 241.63 L377.53 241.27 L377.03 240.77 L376.54 240.41 L376.05 240.45 L375.56 240.23 L375.06 240.04 L374.57 239.89 L374.08 240.13 L373.59 240.55 L373.09 240.74 L372.6 240.31Z" fill="#a9d2f7" fill-opacity="0.75"/>
<path d="M372.6 239.11 L373.09 239.32 L373.59 238.92 L374.08 238.88 L374.57 238.65 L375.06 238.71 L375.56 238.67 L376.05 238.62 L376.54 238.89 L377.03 239.34 L377.53 239.88 L378.02 240.21 L378.51 240.26 L379 240.28 L379.5 240.68 L379.99 241.04 L380.48 240.9 L380.97 240.48 L381.47 240.31 L381.96 239.9 L382.45 239.35 L382.94 238.83 L383.44 238.32 L383.93 238.32 L384.42 238.13 L384.91 237.94 L385.41 237.38 L385.9 236.93 L386.39 237 L386.88 237.71 L387.38 238.06 L387.87 238.62 L388.36 239.25 L388.85 236.72 L389.35 234.24 L389.84 231.32 L390.33 228.83 L390.82 226.86 L391.31 225.37 L391.81 224.12 L392.3 222.86 L392.79 222.92 L393.29 222.57 L393.78 222.19 L394.27 222.17 L394.76 222.32 L395.25 222.41 L395.75 222.74 L396.24 222.93 L396.73 223.37 L397.23 223.55 L397.72 224.33 L398.21 225.12 L398.7 226.17 L399.19 226.41 L399.69 227.11 L400.18 227.64 L400.67 228.5 L401.17 228.62 L401.66 228.74 L402.15 228.67 L402.64 228.73 L403.13 228.79 L403.63 229.12 L404.12 229.32 L404.61 229.6 L405.11 229.91 L405.6 230.26 L406.09 231.08 L406.58 231.4 L407.07 231.8 L407.57 232.11 L408.06 233.53 L408.55 234.54 L409.05 235.71 L409.54 235.19 L410.03 234.77 L410.52 234.22 L411.01 233.63 L411.51 233.03 L412 233.4 L412.49 234.01 L412.99 234.57 L413.48 235.02 L413.97 235.59 L414.46 236.3 L414.95 236.42 L415.45 236.56 L415.94 236.31 L416.43 236.66 L416.93 236.47 L417.42 236.58 L417.91 236.41 L418.4 236.49 L418.89 236.8 L419.39 237.13 L419.88 237.22 L420.37 237.37 L420.87 237.77 L421.36 238.28 L421.85 238.47 L422.34 238.56 L422.83 238.63 L423.33 238.64 L423.82 238.83 L424.31 238.83 L424.81 239.15 L425.3 239.34 L425.79 239.49 L426.28 239.28 L426.77 238.98 L427.27 238.96 L427.76 238.91 L428.25 238.77 L428.75 238.69 L429.24 238.27 L429.73 238.03 L430.22 237.59 L430.71 237.63 L431.21 237.53 L431.7 237.63 L432.19 237.34 L432.69 237.46 L433.18 237.68 L433.67 237.89 L434.16 238.07 L434.65 238 L435.15 238.19 L435.64 238.2 L436.13 238.26 L436.62 238.38 L437.12 238.56 L437.61 238.95 L438.1 239.48 L438.59 239.91 L439.09 240.02 L439.58 239.98 L440.07 239.89 L440.56 240.38 L441.06 240.69 L441.55 241.1 L442.04 241.12 L442.53 241.26 L443.03 241.41 L443.52 241.54 L444.01 241.79 L444.5 241.85 L445 241.82 L445.49 241.45 L445.98 241.45 L446.47 241.61 L446.97 241.74 L447.46 241.66 L447.95 241.26 L448.44 241.21 L448.94 240.97 L449.43 241.17 L449.92 240.98 L450.41 240.89 L450.91 240.51 L451.4 240.56" stroke="#3f3ff0" stroke-width="0.55" fill="none" stroke-linejoin="round"/>
<line x1="388.36" y1="199" x2="388.36" y2="252" stroke="#111" stroke-width="0.55" stroke-dasharray="1.2 0.9"/>
<line x1="388.36" y1="238.75" x2="451.4" y2="238.75" stroke="#555" stroke-width="0.45" stroke-dasharray="1.2 1"/>
<line x1="372.6" y1="198.7" x2="372.6" y2="252.3" stroke="#222" stroke-width="0.75"/>
<line x1="372.3" y1="252" x2="451.7" y2="252" stroke="#222" stroke-width="0.75"/>
<line x1="371" y1="252" x2="372.6" y2="252" stroke="#222" stroke-width="0.55"/>
<text x="370.3" y="253.35" font-size="3.7" text-anchor="end" font-weight="bold" fill="#222">-2</text>
<line x1="371.7" y1="245.38" x2="372.6" y2="245.38" stroke="#222" stroke-width="0.55"/>
<line x1="371" y1="238.75" x2="372.6" y2="238.75" stroke="#222" stroke-width="0.55"/>
<text x="370.3" y="240.1" font-size="3.7" text-anchor="end" font-weight="bold" fill="#222">0</text>
<line x1="371.7" y1="232.12" x2="372.6" y2="232.12" stroke="#222" stroke-width="0.55"/>
<line x1="371" y1="225.5" x2="372.6" y2="225.5" stroke="#222" stroke-width="0.55"/>
<text x="370.3" y="226.85" font-size="3.7" text-anchor="end" font-weight="bold" fill="#222">2</text>
<line x1="371.7" y1="218.88" x2="372.6" y2="218.88" stroke="#222" stroke-width="0.55"/>
<line x1="371" y1="212.25" x2="372.6" y2="212.25" stroke="#222" stroke-width="0.55"/>
<text x="370.3" y="213.6" font-size="3.7" text-anchor="end" font-weight="bold" fill="#222">4</text>
<line x1="371.7" y1="205.62" x2="372.6" y2="205.62" stroke="#222" stroke-width="0.55"/>
<line x1="371" y1="199" x2="372.6" y2="199" stroke="#222" stroke-width="0.55"/>
<text x="370.3" y="200.35" font-size="3.7" text-anchor="end" font-weight="bold" fill="#222">6</text>
<line x1="372.6" y1="252" x2="372.6" y2="253.6" stroke="#222" stroke-width="0.55"/>
<text x="372.6" y="259.1" font-size="3.7" text-anchor="middle" font-weight="bold" fill="#222">-2</text>
<line x1="380.48" y1="252" x2="380.48" y2="252.9" stroke="#222" stroke-width="0.55"/>
<line x1="388.36" y1="252" x2="388.36" y2="253.6" stroke="#222" stroke-width="0.55"/>
<text x="388.36" y="259.1" font-size="3.7" text-anchor="middle" font-weight="bold" fill="#222">0</text>
<line x1="396.24" y1="252" x2="396.24" y2="252.9" stroke="#222" stroke-width="0.55"/>
<line x1="404.12" y1="252" x2="404.12" y2="253.6" stroke="#222" stroke-width="0.55"/>
<text x="404.12" y="259.1" font-size="3.7" text-anchor="middle" font-weight="bold" fill="#222">2</text>
<line x1="412" y1="252" x2="412" y2="252.9" stroke="#222" stroke-width="0.55"/>
<line x1="419.88" y1="252" x2="419.88" y2="253.6" stroke="#222" stroke-width="0.55"/>
<text x="419.88" y="259.1" font-size="3.7" text-anchor="middle" font-weight="bold" fill="#222">4</text>
<line x1="427.76" y1="252" x2="427.76" y2="252.9" stroke="#222" stroke-width="0.55"/>
<line x1="435.64" y1="252" x2="435.64" y2="253.6" stroke="#222" stroke-width="0.55"/>
<text x="435.64" y="259.1" font-size="3.7" text-anchor="middle" font-weight="bold" fill="#222">6</text>
<line x1="443.52" y1="252" x2="443.52" y2="252.9" stroke="#222" stroke-width="0.55"/>
<line x1="451.4" y1="252" x2="451.4" y2="253.6" stroke="#222" stroke-width="0.55"/>
<text x="451.4" y="259.1" font-size="3.7" text-anchor="middle" font-weight="bold" fill="#222">8</text>
<text x="412" y="265.5" font-size="4.3" text-anchor="middle" font-weight="bold" fill="#222">time (s)</text>
<text x="412" y="192.8" font-size="4.6" text-anchor="middle" font-weight="bold" fill="#111">DAY_7</text>
<text x="364.6" y="225.5" font-size="4.3" text-anchor="middle" font-weight="bold" fill="#222" transform="rotate(-90 364.6 225.5)" font-style="italic">ΔF/F (%)</text>
<rect x="440.9" y="200" width="5.2" height="5.2" fill="#f08e92" rx="0.6"/>
<rect x="440.9" y="208.8" width="5.2" height="5.2" fill="#8c8cf4" rx="0.6"/>
<text x="449.3" y="204.3" font-size="4.6" fill="#222" textLength="31.5" lengthAdjust="spacingAndGlyphs">EtOH (37 trails)</text>
<text x="449.3" y="213.1" font-size="4.6" fill="#222" textLength="31.5" lengthAdjust="spacingAndGlyphs">Water (21 trials)</text>
<path d="M547.6 241.57 L548.09 241.6 L548.59 241.67 L549.08 241.84 L549.58 241.86 L550.07 242.35 L550.56 242.3 L551.06 241.93 L551.55 241.97 L552.04 241.67 L552.54 241.48 L553.03 241.35 L553.52 242.17 L554.02 242.52 L554.51 242.71 L555.01 243.05 L555.5 243.58 L555.99 243.55 L556.49 243.82 L556.98 244.19 L557.48 244.21 L557.97 244.8 L558.46 245.26 L558.96 244.97 L559.45 244.7 L559.94 244.36 L560.44 244.41 L560.93 244 L561.43 243.65 L561.92 243.02 L562.41 242.89 L562.91 242.08 L563.4 241.88 L563.89 237.41 L564.39 232.51 L564.88 227.22 L565.38 224.18 L565.87 221.5 L566.36 218.92 L566.86 216.59 L567.35 215.57 L567.84 214.57 L568.34 213.82 L568.83 213.65 L569.33 212.68 L569.82 213.27 L570.31 213.78 L570.81 213.38 L571.3 213.29 L571.79 213.41 L572.29 214.55 L572.78 215.09 L573.27 216.12 L573.77 217.45 L574.26 218.04 L574.76 218.69 L575.25 219.63 L575.74 221.34 L576.24 222.29 L576.73 223.49 L577.23 224.32 L577.72 225.27 L578.21 226.22 L578.71 226.52 L579.2 226.62 L579.69 226.68 L580.19 226.54 L580.68 226.86 L581.18 226.75 L581.67 226.75 L582.16 226.84 L582.66 227.14 L583.15 227.12 L583.64 227.66 L584.14 228.62 L584.63 229.4 L585.12 229.75 L585.62 230.34 L586.11 231.25 L586.61 231.88 L587.1 232.82 L587.59 234.14 L588.09 234.57 L588.58 234.04 L589.08 234.75 L589.57 235.59 L590.06 236.26 L590.56 236.26 L591.05 236.49 L591.54 236.71 L592.04 236.98 L592.53 237.55 L593.02 237.97 L593.52 238.65 L594.01 239.35 L594.51 239.78 L595 240.18 L595.49 240.07 L595.99 240.07 L596.48 240.24 L596.98 240.4 L597.47 240.36 L597.96 240.52 L598.46 240.03 L598.95 240.23 L599.44 240.63 L599.94 240.22 L600.43 240.2 L600.93 240.33 L601.42 240.47 L601.91 240.67 L602.41 240.56 L602.9 240.23 L603.39 240.02 L603.89 240.88 L604.38 240.98 L604.88 241 L605.37 241.36 L605.86 242.1 L606.36 242.35 L606.85 241.59 L607.34 241.86 L607.84 242.33 L608.33 242.43 L608.83 242.64 L609.32 242.53 L609.81 242.05 L610.31 241.74 L610.8 242.08 L611.29 242.14 L611.79 242.13 L612.28 242.24 L612.77 241.94 L613.27 241.2 L613.76 240.73 L614.26 240.88 L614.75 240.35 L615.24 239.84 L615.74 239.98 L616.23 239.89 L616.73 239.54 L617.22 238.91 L617.71 238.13 L618.21 238.24 L618.7 238.69 L619.19 238.55 L619.69 238.3 L620.18 239.16 L620.68 239.78 L621.17 239.85 L621.66 240.11 L622.16 239.76 L622.65 239.73 L623.14 240.1 L623.64 240.8 L624.13 240.94 L624.62 240.91 L625.12 240.91 L625.61 241.28 L626.11 241.6 L626.6 240.93 L626.6 244.68 L626.11 244.43 L625.61 244.93 L625.12 245.07 L624.62 244.24 L624.13 243.92 L623.64 244.02 L623.14 243.65 L622.65 243.47 L622.16 242.86 L621.66 242.76 L621.17 242.34 L620.68 241.85 L620.18 241.65 L619.69 241.88 L619.19 241.64 L618.7 241.06 L618.21 241.8 L617.71 242.16 L617.22 242.07 L616.73 242.6 L616.23 242.97 L615.74 243.49 L615.24 244.01 L614.75 243.9 L614.26 244.5 L613.76 245.15 L613.27 245.26 L612.77 244.57 L612.28 244.27 L611.79 244.8 L611.29 244.82 L610.8 245.4 L610.31 245.81 L609.81 245.5 L609.32 245.07 L608.83 245.05 L608.33 245.48 L607.84 245.3 L607.34 245.54 L606.85 245.61 L606.36 245.05 L605.86 245.1 L605.37 245.21 L604.88 244.75 L604.38 243.71 L603.89 243.61 L603.39 244.05 L602.9 243.96 L602.41 243.24 L601.91 242.98 L601.42 243.19 L600.93 243.33 L600.43 243.49 L599.94 243.23 L599.44 242.71 L598.95 242.94 L598.46 243.08 L597.96 242.86 L597.47 242.78 L596.98 242.89 L596.48 242.68 L595.99 243.22 L595.49 243.56 L595 243.7 L594.51 243.27 L594.01 242.51 L593.52 242.05 L593.02 242.03 L592.53 241.36 L592.04 240.51 L591.54 239.63 L591.05 239.35 L590.56 239.8 L590.06 239.33 L589.57 238.77 L589.08 238.46 L588.58 238.15 L588.09 237.34 L587.59 236.84 L587.1 236.92 L586.61 235.57 L586.11 234.83 L585.62 234.33 L585.12 233.72 L584.63 232.38 L584.14 231.53 L583.64 231.65 L583.15 231.44 L582.66 230.8 L582.16 230.24 L581.67 230.04 L581.18 229.87 L580.68 230.1 L580.19 230.38 L579.69 230.52 L579.2 230.23 L578.71 229.95 L578.21 228.27 L577.72 227.34 L577.23 226.56 L576.73 226.02 L576.24 225.32 L575.74 224.58 L575.25 223.86 L574.76 223.39 L574.26 221.97 L573.77 220.89 L573.27 220.29 L572.78 219.3 L572.29 218.26 L571.79 216.95 L571.3 216.68 L570.81 215.86 L570.31 215.41 L569.82 215.57 L569.33 215.33 L568.83 215.67 L568.34 216.33 L567.84 217.58 L567.35 217.95 L566.86 218.58 L566.36 221.53 L565.87 224.9 L565.38 228.25 L564.88 231.03 L564.39 235.37 L563.89 240.39 L563.4 245.92 L562.91 245.78 L562.41 245.51 L561.92 245.66 L561.43 246.23 L560.93 246.24 L560.44 246.72 L559.94 247.35 L559.45 247.89 L558.96 247.67 L558.46 247.51 L557.97 247.48 L557.48 247.88 L556.98 247.74 L556.49 247.54 L555.99 247.14 L555.5 246.46 L555.01 246.32 L554.51 245.98 L554.02 244.78 L553.52 244.43 L553.03 244.99 L552.54 245.28 L552.04 245.26 L551.55 245.33 L551.06 245.21 L550.56 244.96 L550.07 244.78 L549.58 245.43 L549.08 245.37 L548.59 245.08 L548.09 244.8 L547.6 244.94Z" fill="#f6b9bb" fill-opacity="0.75"/>
<path d="M547.6 243.26 L548.09 243.2 L548.59 243.37 L549.08 243.6 L549.58 243.65 L550.07 243.57 L550.56 243.63 L551.06 243.57 L551.55 243.65 L552.04 243.46 L552.54 243.38 L553.03 243.17 L553.52 243.3 L554.02 243.65 L554.51 244.34 L555.01 244.68 L555.5 245.02 L555.99 245.35 L556.49 245.68 L556.98 245.97 L557.48 246.05 L557.97 246.14 L558.46 246.39 L558.96 246.32 L559.45 246.29 L559.94 245.86 L560.44 245.57 L560.93 245.12 L561.43 244.94 L561.92 244.34 L562.41 244.2 L562.91 243.93 L563.4 243.9 L563.89 238.9 L564.39 233.94 L564.88 229.13 L565.38 226.21 L565.87 223.2 L566.36 220.23 L566.86 217.59 L567.35 216.76 L567.84 216.07 L568.34 215.08 L568.83 214.66 L569.33 214.01 L569.82 214.42 L570.31 214.6 L570.81 214.62 L571.3 214.99 L571.79 215.18 L572.29 216.41 L572.78 217.19 L573.27 218.2 L573.77 219.17 L574.26 220 L574.76 221.04 L575.25 221.74 L575.74 222.96 L576.24 223.81 L576.73 224.75 L577.23 225.44 L577.72 226.31 L578.21 227.24 L578.71 228.23 L579.2 228.42 L579.69 228.6 L580.19 228.46 L580.68 228.48 L581.18 228.31 L581.67 228.39 L582.16 228.54 L582.66 228.97 L583.15 229.28 L583.64 229.65 L584.14 230.08 L584.63 230.89 L585.12 231.73 L585.62 232.34 L586.11 233.04 L586.61 233.72 L587.1 234.87 L587.59 235.49 L588.09 235.95 L588.58 236.1 L589.08 236.61 L589.57 237.18 L590.06 237.79 L590.56 238.03 L591.05 237.92 L591.54 238.17 L592.04 238.75 L592.53 239.45 L593.02 240 L593.52 240.35 L594.01 240.93 L594.51 241.53 L595 241.94 L595.49 241.81 L595.99 241.64 L596.48 241.46 L596.98 241.65 L597.47 241.57 L597.96 241.69 L598.46 241.56 L598.95 241.58 L599.44 241.67 L599.94 241.72 L600.43 241.85 L600.93 241.83 L601.42 241.83 L601.91 241.83 L602.41 241.9 L602.9 242.09 L603.39 242.03 L603.89 242.25 L604.38 242.35 L604.88 242.87 L605.37 243.29 L605.86 243.6 L606.36 243.7 L606.85 243.6 L607.34 243.7 L607.84 243.81 L608.33 243.95 L608.83 243.84 L609.32 243.8 L609.81 243.77 L610.31 243.78 L610.8 243.74 L611.29 243.48 L611.79 243.46 L612.28 243.26 L612.77 243.26 L613.27 243.23 L613.76 242.94 L614.26 242.69 L614.75 242.13 L615.24 241.93 L615.74 241.74 L616.23 241.43 L616.73 241.07 L617.22 240.49 L617.71 240.14 L618.21 240.02 L618.7 239.88 L619.19 240.09 L619.69 240.09 L620.18 240.41 L620.68 240.82 L621.17 241.09 L621.66 241.43 L622.16 241.31 L622.65 241.6 L623.14 241.87 L623.64 242.41 L624.13 242.43 L624.62 242.57 L625.12 242.99 L625.61 243.11 L626.11 243.01 L626.6 242.81" stroke="#f0454a" stroke-width="0.55" fill="none" stroke-linejoin="round"/>
<path d="M547.6 241.9 L548.09 242.41 L548.59 242.07 L549.08 241.92 L549.58 241.66 L550.07 241.52 L550.56 241.76 L551.06 241.83 L551.55 242.11 L552.04 241.81 L552.54 241.7 L553.03 241.88 L553.52 241.9 L554.02 242.3 L554.51 242.8 L555.01 242.92 L555.5 243.03 L555.99 243.32 L556.49 243.67 L556.98 244.06 L557.48 244.08 L557.97 243.73 L558.46 243.23 L558.96 243.56 L559.45 243.24 L559.94 242.86 L560.44 242.67 L560.93 242.14 L561.43 241.87 L561.92 241.91 L562.41 242.82 L562.91 243.37 L563.4 244.1 L563.89 241.48 L564.39 238.69 L564.88 235.53 L565.38 234.32 L565.87 233.4 L566.36 232.28 L566.86 230.66 L567.35 229.49 L567.84 229.86 L568.34 230.28 L568.83 230.21 L569.33 230.37 L569.82 230.39 L570.31 231.16 L570.81 231.5 L571.3 231.92 L571.79 232.41 L572.29 233.04 L572.78 233.59 L573.27 234 L573.77 234.57 L574.26 234.8 L574.76 234.85 L575.25 234.87 L575.74 234.67 L576.24 234.6 L576.73 234.66 L577.23 234.9 L577.72 235.25 L578.21 235.4 L578.71 235.33 L579.2 235.71 L579.69 236.27 L580.19 236 L580.68 236.24 L581.18 236.99 L581.67 237.19 L582.16 236.85 L582.66 237.3 L583.15 237.01 L583.64 236.86 L584.14 237.78 L584.63 238.51 L585.12 238.91 L585.62 239.18 L586.11 240.05 L586.61 240.73 L587.1 241.25 L587.59 241.12 L588.09 241.3 L588.58 241.46 L589.08 241.33 L589.57 240.99 L590.06 241 L590.56 241.05 L591.05 241.15 L591.54 240.8 L592.04 240.19 L592.53 240.52 L593.02 240.57 L593.52 240.12 L594.01 239.92 L594.51 239.51 L595 239.47 L595.49 239.7 L595.99 240.04 L596.48 240.83 L596.98 240.95 L597.47 241.15 L597.96 241.18 L598.46 240.91 L598.95 241.47 L599.44 241.54 L599.94 241.74 L600.43 242.08 L600.93 242 L601.42 242.18 L601.91 241.88 L602.41 242.1 L602.9 241.89 L603.39 242.03 L603.89 242.39 L604.38 242.68 L604.88 243.13 L605.37 243.25 L605.86 243.29 L606.36 243.53 L606.85 243.72 L607.34 243.77 L607.84 243.82 L608.33 243.94 L608.83 244.05 L609.32 243.74 L609.81 243.8 L610.31 243.87 L610.8 243.65 L611.29 243.53 L611.79 243.84 L612.28 243.57 L612.77 243.38 L613.27 243.06 L613.76 243.17 L614.26 242.7 L614.75 242.33 L615.24 242.73 L615.74 243.15 L616.23 243.31 L616.73 242.66 L617.22 242.42 L617.71 242.5 L618.21 242.8 L618.7 242.77 L619.19 243.04 L619.69 243.46 L620.18 243.61 L620.68 244.18 L621.17 244.28 L621.66 244.59 L622.16 244.78 L622.65 244.68 L623.14 244.72 L623.64 244.98 L624.13 244.88 L624.62 244.31 L625.12 244.55 L625.61 244.54 L626.11 244.2 L626.6 244.18 L626.6 246.91 L626.11 246.86 L625.61 246.47 L625.12 246.57 L624.62 247.21 L624.13 247.41 L623.64 247.2 L623.14 247.53 L622.65 247.41 L622.16 247.46 L621.66 247.4 L621.17 247 L620.68 246.79 L620.18 246.61 L619.69 246.71 L619.19 246.15 L618.7 245.52 L618.21 245.3 L617.71 245.86 L617.22 246.26 L616.73 245.66 L616.23 245.34 L615.74 245.49 L615.24 245.63 L614.75 245.43 L614.26 245.05 L613.76 245.26 L613.27 245.73 L612.77 245.99 L612.28 245.69 L611.79 245.79 L611.29 245.7 L610.8 245.9 L610.31 245.92 L609.81 246.4 L609.32 246.78 L608.83 246.56 L608.33 246.6 L607.84 246.43 L607.34 246.22 L606.85 246.31 L606.36 246.19 L605.86 246.15 L605.37 245.65 L604.88 245.21 L604.38 245.43 L603.89 245 L603.39 244.92 L602.9 244.73 L602.41 244.52 L601.91 244.53 L601.42 244.47 L600.93 244.41 L600.43 244.47 L599.94 244.22 L599.44 244.46 L598.95 244.41 L598.46 244.3 L597.96 243.68 L597.47 243.11 L596.98 243.35 L596.48 243.21 L595.99 243.45 L595.49 243.25 L595 242.7 L594.51 242.42 L594.01 242.22 L593.52 242.54 L593.02 242.83 L592.53 243.06 L592.04 243.45 L591.54 243.34 L591.05 243.48 L590.56 243.93 L590.06 243.82 L589.57 243.82 L589.08 243.81 L588.58 243.95 L588.09 244.18 L587.59 243.96 L587.1 243.83 L586.61 243.41 L586.11 243.22 L585.62 242.36 L585.12 241.75 L584.63 241.46 L584.14 241.16 L583.64 240.72 L583.15 240.09 L582.66 239.69 L582.16 239.6 L581.67 238.95 L581.18 238.77 L580.68 239.47 L580.19 238.87 L579.69 238.07 L579.2 237.92 L578.71 238.19 L578.21 238.13 L577.72 238.13 L577.23 238.26 L576.73 238.13 L576.24 237.96 L575.74 237.67 L575.25 237.57 L574.76 237.84 L574.26 237.8 L573.77 237.56 L573.27 236.98 L572.78 236.4 L572.29 236 L571.79 235.24 L571.3 234.67 L570.81 234.07 L570.31 233.98 L569.82 233.83 L569.33 233.61 L568.83 233.31 L568.34 233 L567.84 232.48 L567.35 232.44 L566.86 233.01 L566.36 233.96 L565.87 234.9 L565.38 236.65 L564.88 238.05 L564.39 240.55 L563.89 243.51 L563.4 246.92 L562.91 246.53 L562.41 246 L561.92 245.16 L561.43 245.22 L560.93 245.17 L560.44 245.3 L559.94 246.21 L559.45 246.63 L558.96 246.7 L558.46 246.66 L557.97 246.67 L557.48 246.8 L556.98 246.73 L556.49 246.33 L555.99 246.23 L555.5 245.98 L555.01 245.66 L554.51 244.88 L554.02 244.85 L553.52 244.65 L553.03 244.32 L552.54 244.41 L552.04 244.34 L551.55 244.39 L551.06 244.61 L550.56 244.95 L550.07 244.99 L549.58 244.78 L549.08 244.49 L548.59 244.82 L548.09 244.86 L547.6 245.14Z" fill="#a9d2f7" fill-opacity="0.75"/>
<path d="M547.6 243.52 L548.09 243.64 L548.59 243.44 L549.08 243.2 L549.58 243.22 L550.07 243.25 L550.56 243.35 L551.06 243.22 L551.55 243.25 L552.04 243.08 L552.54 243.05 L553.03 243.1 L553.52 243.27 L554.02 243.57 L554.51 243.84 L555.01 244.29 L555.5 244.51 L555.99 244.78 L556.49 245 L556.98 245.39 L557.48 245.44 L557.97 245.2 L558.46 244.95 L558.96 245.13 L559.45 244.94 L559.94 244.53 L560.44 243.98 L560.93 243.65 L561.43 243.55 L561.92 243.54 L562.41 244.41 L562.91 244.95 L563.4 245.51 L563.89 242.5 L564.39 239.62 L564.88 236.79 L565.38 235.49 L565.87 234.15 L566.36 233.12 L566.86 231.84 L567.35 230.97 L567.84 231.17 L568.34 231.64 L568.83 231.76 L569.33 231.99 L569.82 232.11 L570.31 232.57 L570.81 232.78 L571.3 233.3 L571.79 233.82 L572.29 234.52 L572.78 235 L573.27 235.49 L573.77 236.07 L574.26 236.3 L574.76 236.34 L575.25 236.22 L575.74 236.17 L576.24 236.28 L576.73 236.39 L577.23 236.58 L577.72 236.69 L578.21 236.76 L578.71 236.76 L579.2 236.81 L579.69 237.17 L580.19 237.44 L580.68 237.85 L581.18 237.88 L581.67 238.07 L582.16 238.23 L582.66 238.5 L583.15 238.55 L583.64 238.79 L584.14 239.47 L584.63 239.98 L585.12 240.33 L585.62 240.77 L586.11 241.64 L586.61 242.07 L587.1 242.54 L587.59 242.54 L588.09 242.74 L588.58 242.7 L589.08 242.57 L589.57 242.4 L590.06 242.41 L590.56 242.49 L591.05 242.31 L591.54 242.07 L592.04 241.82 L592.53 241.79 L593.02 241.7 L593.52 241.33 L594.01 241.07 L594.51 240.97 L595 241.09 L595.49 241.48 L595.99 241.74 L596.48 242.02 L596.98 242.15 L597.47 242.13 L597.96 242.43 L598.46 242.6 L598.95 242.94 L599.44 243 L599.94 242.98 L600.43 243.28 L600.93 243.21 L601.42 243.33 L601.91 243.21 L602.41 243.31 L602.9 243.31 L603.39 243.47 L603.89 243.7 L604.38 244.05 L604.88 244.17 L605.37 244.45 L605.86 244.72 L606.36 244.86 L606.85 245.02 L607.34 244.99 L607.84 245.13 L608.33 245.27 L608.83 245.3 L609.32 245.26 L609.81 245.1 L610.31 244.9 L610.8 244.78 L611.29 244.61 L611.79 244.81 L612.28 244.63 L612.77 244.68 L613.27 244.4 L613.76 244.21 L614.26 243.88 L614.75 243.88 L615.24 244.18 L615.74 244.32 L616.23 244.32 L616.73 244.16 L617.22 244.34 L617.71 244.18 L618.21 244.05 L618.7 244.14 L619.19 244.59 L619.69 245.08 L620.18 245.11 L620.68 245.48 L621.17 245.64 L621.66 245.99 L622.16 246.12 L622.65 246.04 L623.14 246.12 L623.64 246.09 L624.13 246.14 L624.62 245.76 L625.12 245.56 L625.61 245.5 L626.11 245.53 L626.6 245.54" stroke="#3f3ff0" stroke-width="0.55" fill="none" stroke-linejoin="round"/>
<line x1="563.4" y1="201.8" x2="563.4" y2="254.5" stroke="#111" stroke-width="0.55" stroke-dasharray="1.2 0.9"/>
<line x1="563.4" y1="243.96" x2="626.6" y2="243.96" stroke="#555" stroke-width="0.45" stroke-dasharray="1.2 1"/>
<line x1="547.6" y1="201.5" x2="547.6" y2="254.8" stroke="#222" stroke-width="0.75"/>
<line x1="547.3" y1="254.5" x2="626.9" y2="254.5" stroke="#222" stroke-width="0.75"/>
<line x1="546" y1="254.5" x2="547.6" y2="254.5" stroke="#222" stroke-width="0.55"/>
<text x="545.3" y="255.85" font-size="3.7" text-anchor="end" font-weight="bold" fill="#222">-2</text>
<line x1="546.7" y1="249.23" x2="547.6" y2="249.23" stroke="#222" stroke-width="0.55"/>
<line x1="546" y1="243.96" x2="547.6" y2="243.96" stroke="#222" stroke-width="0.55"/>
<text x="545.3" y="245.31" font-size="3.7" text-anchor="end" font-weight="bold" fill="#222">0</text>
<line x1="546.7" y1="238.69" x2="547.6" y2="238.69" stroke="#222" stroke-width="0.55"/>
<line x1="546" y1="233.42" x2="547.6" y2="233.42" stroke="#222" stroke-width="0.55"/>
<text x="545.3" y="234.77" font-size="3.7" text-anchor="end" font-weight="bold" fill="#222">2</text>
<line x1="546.7" y1="228.15" x2="547.6" y2="228.15" stroke="#222" stroke-width="0.55"/>
<line x1="546" y1="222.88" x2="547.6" y2="222.88" stroke="#222" stroke-width="0.55"/>
<text x="545.3" y="224.23" font-size="3.7" text-anchor="end" font-weight="bold" fill="#222">4</text>
<line x1="546.7" y1="217.61" x2="547.6" y2="217.61" stroke="#222" stroke-width="0.55"/>
<line x1="546" y1="212.34" x2="547.6" y2="212.34" stroke="#222" stroke-width="0.55"/>
<text x="545.3" y="213.69" font-size="3.7" text-anchor="end" font-weight="bold" fill="#222">6</text>
<line x1="546.7" y1="207.07" x2="547.6" y2="207.07" stroke="#222" stroke-width="0.55"/>
<line x1="546" y1="201.8" x2="547.6" y2="201.8" stroke="#222" stroke-width="0.55"/>
<text x="545.3" y="203.15" font-size="3.7" text-anchor="end" font-weight="bold" fill="#222">8</text>
<line x1="547.6" y1="254.5" x2="547.6" y2="256.1" stroke="#222" stroke-width="0.55"/>
<text x="547.6" y="261.6" font-size="3.7" text-anchor="middle" font-weight="bold" fill="#222">-2</text>
<line x1="555.5" y1="254.5" x2="555.5" y2="255.4" stroke="#222" stroke-width="0.55"/>
<line x1="563.4" y1="254.5" x2="563.4" y2="256.1" stroke="#222" stroke-width="0.55"/>
<text x="563.4" y="261.6" font-size="3.7" text-anchor="middle" font-weight="bold" fill="#222">0</text>
<line x1="571.3" y1="254.5" x2="571.3" y2="255.4" stroke="#222" stroke-width="0.55"/>
<line x1="579.2" y1="254.5" x2="579.2" y2="256.1" stroke="#222" stroke-width="0.55"/>
<text x="579.2" y="261.6" font-size="3.7" text-anchor="middle" font-weight="bold" fill="#222">2</text>
<line x1="587.1" y1="254.5" x2="587.1" y2="255.4" stroke="#222" stroke-width="0.55"/>
<line x1="595" y1="254.5" x2="595" y2="256.1" stroke="#222" stroke-width="0.55"/>
<text x="595" y="261.6" font-size="3.7" text-anchor="middle" font-weight="bold" fill="#222">4</text>
<line x1="602.9" y1="254.5" x2="602.9" y2="255.4" stroke="#222" stroke-width="0.55"/>
<line x1="610.8" y1="254.5" x2="610.8" y2="256.1" stroke="#222" stroke-width="0.55"/>
<text x="610.8" y="261.6" font-size="3.7" text-anchor="middle" font-weight="bold" fill="#222">6</text>
<line x1="618.7" y1="254.5" x2="618.7" y2="255.4" stroke="#222" stroke-width="0.55"/>
<line x1="626.6" y1="254.5" x2="626.6" y2="256.1" stroke="#222" stroke-width="0.55"/>
<text x="626.6" y="261.6" font-size="3.7" text-anchor="middle" font-weight="bold" fill="#222">8</text>
<text x="587.1" y="268" font-size="4.3" text-anchor="middle" font-weight="bold" fill="#222">time (s)</text>
<text x="587.1" y="195.6" font-size="4.6" text-anchor="middle" font-weight="bold" fill="#111">DAY_21</text>
<text x="539.6" y="228.15" font-size="4.3" text-anchor="middle" font-weight="bold" fill="#222" transform="rotate(-90 539.6 228.15)" font-style="italic">ΔF/F (%)</text>
<rect x="616.7" y="202.6" width="5.2" height="5.2" fill="#f08e92" rx="0.6"/>
<rect x="616.7" y="211.4" width="5.2" height="5.2" fill="#8c8cf4" rx="0.6"/>
<text x="625.1" y="206.9" font-size="4.6" fill="#222" textLength="30.8" lengthAdjust="spacingAndGlyphs">EtOH (58 trails)</text>
<text x="625.1" y="215.7" font-size="4.6" fill="#222" textLength="31" lengthAdjust="spacingAndGlyphs">Water (14 trials)</text>
<g shape-rendering="crispEdges">
<rect x="76.8" y="322" width="175.4" height="24.6" fill="#2a14f2"/>
<rect x="76.8" y="350.4" width="175.4" height="24.6" fill="#2a14f2"/>
<rect x="76.8" y="378.9" width="175.4" height="24.6" fill="#2a14f2"/>
<rect x="76.8" y="407.4" width="175.4" height="24.6" fill="#2a14f2"/>
<path fill="#510cf3" d="M76.8 322h3.62v3.58h-3.62zM82.85 322h6.65v3.58h-6.65zM97.97 322h12.7v3.58h-12.7zM76.8 325.07h6.65v3.58h-6.65zM85.87 325.07h9.67v3.58h-9.67zM100.99 325.07h3.62v3.58h-3.62zM110.07 325.07h3.62v3.58h-3.62zM212.89 325.07h3.62v3.58h-3.62zM218.93 325.07h6.65v3.58h-6.65zM228.01 325.07h3.62v3.58h-3.62zM237.08 325.07h9.67v3.58h-9.67zM107.04 328.15h6.65v3.58h-6.65zM197.77 328.15h6.65v3.58h-6.65zM221.96 328.15h3.62v3.58h-3.62zM228.01 328.15h6.65v3.58h-6.65zM237.08 328.15h3.62v3.58h-3.62zM246.15 328.15h3.62v3.58h-3.62zM76.8 331.23h6.65v3.58h-6.65zM85.87 331.23h6.65v3.58h-6.65zM104.02 331.23h9.67v3.58h-9.67zM240.1 331.23h3.62v3.58h-3.62zM249.18 331.23h3.02v3.58h-3.02zM76.8 334.3h9.67v3.58h-9.67zM91.92 334.3h12.7v3.58h-12.7zM85.87 337.38h3.62v3.58h-3.62zM104.02 337.38h6.65v3.58h-6.65zM215.91 337.38h6.65v3.58h-6.65zM243.13 337.38h3.62v3.58h-3.62zM85.87 340.45h3.62v3.58h-3.62zM94.94 340.45h6.65v3.58h-6.65zM110.07 340.45h3.62v3.58h-3.62zM200.79 340.45h3.62v3.58h-3.62zM76.8 343.52h6.65v3.08h-6.65zM91.92 343.52h3.62v3.08h-3.62zM100.99 343.52h3.62v3.08h-3.62zM107.04 343.52h3.62v3.08h-3.62zM209.86 343.52h15.72v3.08h-15.72zM249.18 343.52h3.02v3.08h-3.02zM76.8 350.4h12.7v3.58h-12.7zM91.92 350.4h15.72v3.58h-15.72zM110.07 350.4h3.62v3.58h-3.62zM240.1 350.4h3.62v3.58h-3.62zM91.92 353.47h6.65v3.58h-6.65zM107.04 353.47h6.65v3.58h-6.65zM212.89 353.47h6.65v3.58h-6.65zM221.96 353.47h3.62v3.58h-3.62zM228.01 353.47h3.62v3.58h-3.62zM237.08 353.47h3.62v3.58h-3.62zM76.8 356.55h3.62v3.58h-3.62zM82.85 356.55h3.62v3.58h-3.62zM231.03 356.55h6.65v3.58h-6.65zM240.1 356.55h3.62v3.58h-3.62zM82.85 359.62h3.62v3.58h-3.62zM110.07 359.62h3.62v3.58h-3.62zM79.82 362.7h12.7v3.58h-12.7zM94.94 362.7h9.67v3.58h-9.67zM107.04 362.7h3.62v3.58h-3.62zM240.1 362.7h12.1v3.58h-12.1zM107.04 365.77h3.62v3.58h-3.62zM194.74 365.77h3.62v3.58h-3.62zM231.03 365.77h3.62v3.58h-3.62zM243.13 365.77h3.62v3.58h-3.62zM79.82 368.85h12.7v3.58h-12.7zM100.99 368.85h6.65v3.58h-6.65zM231.03 368.85h12.7v3.58h-12.7zM246.15 368.85h6.05v3.58h-6.05zM85.87 371.92h3.62v3.08h-3.62zM91.92 371.92h3.62v3.08h-3.62zM104.02 371.92h6.65v3.08h-6.65zM218.93 371.92h3.62v3.08h-3.62zM224.98 371.92h3.62v3.08h-3.62zM249.18 371.92h3.02v3.08h-3.02zM76.8 378.9h6.65v3.58h-6.65zM218.93 378.9h6.65v3.58h-6.65zM243.13 378.9h3.62v3.58h-3.62zM76.8 381.97h3.62v3.58h-3.62zM85.87 381.97h9.67v3.58h-9.67zM97.97 381.97h3.62v3.58h-3.62zM228.01 381.97h9.67v3.58h-9.67zM249.18 381.97h3.02v3.58h-3.02zM76.8 385.05h6.65v3.58h-6.65zM85.87 385.05h3.62v3.58h-3.62zM104.02 385.05h3.62v3.58h-3.62zM110.07 385.05h3.62v3.58h-3.62zM197.77 385.05h9.67v3.58h-9.67zM224.98 385.05h3.62v3.58h-3.62zM231.03 385.05h3.62v3.58h-3.62zM240.1 385.05h3.62v3.58h-3.62zM246.15 385.05h6.05v3.58h-6.05zM82.85 388.12h6.65v3.58h-6.65zM212.89 388.12h3.62v3.58h-3.62zM218.93 388.12h3.62v3.58h-3.62zM224.98 388.12h3.62v3.58h-3.62zM237.08 388.12h3.62v3.58h-3.62zM243.13 388.12h3.62v3.58h-3.62zM76.8 391.2h6.65v3.58h-6.65zM91.92 391.2h3.62v3.58h-3.62zM215.91 391.2h3.62v3.58h-3.62zM221.96 391.2h3.62v3.58h-3.62zM231.03 391.2h3.62v3.58h-3.62zM79.82 394.27h6.65v3.58h-6.65zM104.02 394.27h3.62v3.58h-3.62zM197.77 394.27h3.62v3.58h-3.62zM206.84 394.27h3.62v3.58h-3.62zM212.89 394.27h3.62v3.58h-3.62zM228.01 394.27h6.65v3.58h-6.65zM237.08 394.27h3.62v3.58h-3.62zM249.18 394.27h3.02v3.58h-3.02zM85.87 397.35h3.62v3.58h-3.62zM107.04 397.35h3.62v3.58h-3.62zM218.93 397.35h3.62v3.58h-3.62zM234.06 397.35h6.65v3.58h-6.65zM76.8 400.42h15.72v3.08h-15.72zM94.94 400.42h3.62v3.08h-3.62zM100.99 400.42h3.62v3.08h-3.62zM224.98 400.42h3.62v3.08h-3.62zM237.08 400.42h3.62v3.08h-3.62zM82.85 407.4h3.62v3.58h-3.62zM94.94 407.4h3.62v3.58h-3.62zM100.99 407.4h12.7v3.58h-12.7zM224.98 407.4h9.67v3.58h-9.67zM237.08 407.4h3.62v3.58h-3.62zM243.13 407.4h3.62v3.58h-3.62zM76.8 410.47h3.62v3.58h-3.62zM82.85 410.47h6.65v3.58h-6.65zM100.99 410.47h3.62v3.58h-3.62zM224.98 410.47h6.65v3.58h-6.65zM243.13 410.47h9.07v3.58h-9.07zM76.8 413.55h3.62v3.58h-3.62zM82.85 413.55h9.67v3.58h-9.67zM100.99 413.55h3.62v3.58h-3.62zM224.98 413.55h3.62v3.58h-3.62zM240.1 413.55h3.62v3.58h-3.62zM79.82 416.62h6.65v3.58h-6.65zM88.9 416.62h12.7v3.58h-12.7zM110.07 416.62h3.62v3.58h-3.62zM243.13 416.62h3.62v3.58h-3.62zM76.8 419.7h15.72v3.58h-15.72zM94.94 419.7h3.62v3.58h-3.62zM104.02 419.7h3.62v3.58h-3.62zM234.06 419.7h3.62v3.58h-3.62zM246.15 419.7h6.05v3.58h-6.05zM76.8 422.77h6.65v3.58h-6.65zM85.87 422.77h9.67v3.58h-9.67zM107.04 422.77h3.62v3.58h-3.62zM228.01 422.77h3.62v3.58h-3.62zM234.06 422.77h9.67v3.58h-9.67zM249.18 422.77h3.02v3.58h-3.02zM97.97 425.85h3.62v3.58h-3.62zM104.02 425.85h3.62v3.58h-3.62zM206.84 425.85h3.62v3.58h-3.62zM218.93 425.85h3.62v3.58h-3.62zM240.1 425.85h3.62v3.58h-3.62zM246.15 425.85h3.62v3.58h-3.62zM79.82 428.92h3.62v3.08h-3.62zM85.87 428.92h3.62v3.08h-3.62zM91.92 428.92h6.65v3.08h-6.65zM104.02 428.92h3.62v3.08h-3.62zM110.07 428.92h3.62v3.08h-3.62zM218.93 428.92h6.65v3.08h-6.65z"/>
<path fill="#2d0af5" d="M79.82 322h3.62v3.58h-3.62zM88.9 322h9.67v3.58h-9.67zM209.86 322h6.65v3.58h-6.65zM224.98 322h15.72v3.58h-15.72zM246.15 322h6.05v3.58h-6.05zM82.85 325.07h3.62v3.58h-3.62zM97.97 325.07h3.62v3.58h-3.62zM188.69 325.07h15.72v3.58h-15.72zM209.86 325.07h3.62v3.58h-3.62zM224.98 325.07h3.62v3.58h-3.62zM246.15 325.07h6.05v3.58h-6.05zM76.8 328.15h6.65v3.58h-6.65zM94.94 328.15h3.62v3.58h-3.62zM218.93 328.15h3.62v3.58h-3.62zM240.1 328.15h6.65v3.58h-6.65zM221.96 331.23h18.74v3.58h-18.74zM197.77 334.3h3.62v3.58h-3.62zM215.91 334.3h9.67v3.58h-9.67zM228.01 334.3h6.65v3.58h-6.65zM240.1 334.3h12.1v3.58h-12.1zM110.07 337.38h3.62v3.58h-3.62zM194.74 337.38h9.67v3.58h-9.67zM249.18 337.38h3.02v3.58h-3.02zM91.92 340.45h3.62v3.58h-3.62zM188.69 340.45h3.62v3.58h-3.62zM203.81 340.45h24.79v3.58h-24.79zM82.85 343.52h9.67v3.08h-9.67zM94.94 343.52h6.65v3.08h-6.65zM110.07 343.52h3.62v3.08h-3.62zM191.72 343.52h6.65v3.08h-6.65zM234.06 343.52h3.62v3.08h-3.62zM240.1 343.52h6.65v3.08h-6.65zM107.04 350.4h3.62v3.58h-3.62zM200.79 350.4h3.62v3.58h-3.62zM228.01 350.4h3.62v3.58h-3.62zM243.13 350.4h9.07v3.58h-9.07zM209.86 353.47h3.62v3.58h-3.62zM218.93 353.47h3.62v3.58h-3.62zM240.1 353.47h9.67v3.58h-9.67zM79.82 356.55h3.62v3.58h-3.62zM194.74 356.55h15.72v3.58h-15.72zM243.13 356.55h9.07v3.58h-9.07zM94.94 359.62h3.62v3.58h-3.62zM104.02 359.62h6.65v3.58h-6.65zM243.13 359.62h6.65v3.58h-6.65zM76.8 362.7h3.62v3.58h-3.62zM91.92 362.7h3.62v3.58h-3.62zM104.02 362.7h3.62v3.58h-3.62zM218.93 362.7h6.65v3.58h-6.65zM234.06 362.7h3.62v3.58h-3.62zM76.8 365.77h12.7v3.58h-12.7zM110.07 365.77h3.62v3.58h-3.62zM191.72 365.77h3.62v3.58h-3.62zM197.77 365.77h3.62v3.58h-3.62zM234.06 365.77h3.62v3.58h-3.62zM240.1 365.77h3.62v3.58h-3.62zM97.97 368.85h3.62v3.58h-3.62zM107.04 368.85h3.62v3.58h-3.62zM212.89 368.85h9.67v3.58h-9.67zM228.01 368.85h3.62v3.58h-3.62zM243.13 368.85h3.62v3.58h-3.62zM79.82 371.92h6.65v3.08h-6.65zM88.9 371.92h3.62v3.08h-3.62zM100.99 371.92h3.62v3.08h-3.62zM194.74 371.92h18.74v3.08h-18.74zM228.01 371.92h3.62v3.08h-3.62zM234.06 371.92h3.62v3.08h-3.62zM246.15 371.92h3.62v3.08h-3.62zM91.92 378.9h3.62v3.58h-3.62zM97.97 378.9h15.72v3.58h-15.72zM224.98 378.9h3.62v3.58h-3.62zM237.08 378.9h6.65v3.58h-6.65zM246.15 378.9h6.05v3.58h-6.05zM79.82 381.97h6.65v3.58h-6.65zM94.94 381.97h3.62v3.58h-3.62zM100.99 381.97h6.65v3.58h-6.65zM203.81 381.97h3.62v3.58h-3.62zM224.98 381.97h3.62v3.58h-3.62zM246.15 381.97h3.62v3.58h-3.62zM88.9 385.05h9.67v3.58h-9.67zM218.93 385.05h3.62v3.58h-3.62zM228.01 385.05h3.62v3.58h-3.62zM234.06 385.05h3.62v3.58h-3.62zM88.9 388.12h6.65v3.58h-6.65zM97.97 388.12h3.62v3.58h-3.62zM110.07 388.12h3.62v3.58h-3.62zM206.84 388.12h3.62v3.58h-3.62zM228.01 388.12h9.67v3.58h-9.67zM240.1 388.12h3.62v3.58h-3.62zM246.15 388.12h6.05v3.58h-6.05zM82.85 391.2h9.67v3.58h-9.67zM107.04 391.2h6.65v3.58h-6.65zM212.89 391.2h3.62v3.58h-3.62zM218.93 391.2h3.62v3.58h-3.62zM240.1 391.2h3.62v3.58h-3.62zM246.15 391.2h3.62v3.58h-3.62zM76.8 394.27h3.62v3.58h-3.62zM91.92 394.27h3.62v3.58h-3.62zM107.04 394.27h3.62v3.58h-3.62zM194.74 394.27h3.62v3.58h-3.62zM209.86 394.27h3.62v3.58h-3.62zM76.8 397.35h9.67v3.58h-9.67zM88.9 397.35h6.65v3.58h-6.65zM97.97 397.35h9.67v3.58h-9.67zM185.67 397.35h6.65v3.58h-6.65zM197.77 397.35h6.65v3.58h-6.65zM209.86 397.35h3.62v3.58h-3.62zM240.1 397.35h9.67v3.58h-9.67zM97.97 400.42h3.62v3.08h-3.62zM221.96 400.42h3.62v3.08h-3.62zM228.01 400.42h9.67v3.08h-9.67zM85.87 407.4h3.62v3.58h-3.62zM91.92 407.4h3.62v3.58h-3.62zM215.91 407.4h9.67v3.58h-9.67zM234.06 407.4h3.62v3.58h-3.62zM240.1 410.47h3.62v3.58h-3.62zM79.82 413.55h3.62v3.58h-3.62zM91.92 413.55h3.62v3.58h-3.62zM104.02 413.55h6.65v3.58h-6.65zM228.01 413.55h12.7v3.58h-12.7zM243.13 413.55h9.07v3.58h-9.07zM85.87 416.62h3.62v3.58h-3.62zM224.98 416.62h3.62v3.58h-3.62zM231.03 416.62h3.62v3.58h-3.62zM246.15 416.62h6.05v3.58h-6.05zM91.92 419.7h3.62v3.58h-3.62zM97.97 419.7h6.65v3.58h-6.65zM218.93 419.7h3.62v3.58h-3.62zM243.13 419.7h3.62v3.58h-3.62zM94.94 422.77h3.62v3.58h-3.62zM110.07 422.77h3.62v3.58h-3.62zM224.98 422.77h3.62v3.58h-3.62zM231.03 422.77h3.62v3.58h-3.62zM243.13 422.77h6.65v3.58h-6.65zM79.82 425.85h3.62v3.58h-3.62zM85.87 425.85h12.7v3.58h-12.7zM100.99 425.85h3.62v3.58h-3.62zM231.03 425.85h3.62v3.58h-3.62zM243.13 425.85h3.62v3.58h-3.62zM249.18 425.85h3.02v3.58h-3.02zM76.8 428.92h3.62v3.08h-3.62zM82.85 428.92h3.62v3.08h-3.62zM88.9 428.92h3.62v3.08h-3.62zM97.97 428.92h6.65v3.08h-6.65zM197.77 428.92h3.62v3.08h-3.62zM212.89 428.92h6.65v3.08h-6.65zM224.98 428.92h12.7v3.08h-12.7z"/>
<path fill="#750ef1" d="M110.07 322h3.62v3.58h-3.62zM104.02 325.07h6.65v3.58h-6.65zM215.91 325.07h3.62v3.58h-3.62zM231.03 325.07h6.65v3.58h-6.65zM82.85 328.15h3.62v3.58h-3.62zM91.92 328.15h3.62v3.58h-3.62zM97.97 328.15h9.67v3.58h-9.67zM224.98 328.15h3.62v3.58h-3.62zM234.06 328.15h3.62v3.58h-3.62zM249.18 328.15h3.02v3.58h-3.02zM82.85 331.23h3.62v3.58h-3.62zM91.92 331.23h3.62v3.58h-3.62zM97.97 331.23h6.65v3.58h-6.65zM243.13 331.23h3.62v3.58h-3.62zM85.87 334.3h6.65v3.58h-6.65zM104.02 334.3h9.67v3.58h-9.67zM76.8 337.38h9.67v3.58h-9.67zM88.9 337.38h3.62v3.58h-3.62zM97.97 337.38h6.65v3.58h-6.65zM221.96 337.38h3.62v3.58h-3.62zM240.1 337.38h3.62v3.58h-3.62zM82.85 340.45h3.62v3.58h-3.62zM100.99 340.45h9.67v3.58h-9.67zM104.02 343.52h3.62v3.08h-3.62zM246.15 343.52h3.62v3.08h-3.62zM88.9 350.4h3.62v3.58h-3.62zM76.8 353.47h3.62v3.58h-3.62zM85.87 353.47h6.65v3.58h-6.65zM97.97 353.47h9.67v3.58h-9.67zM224.98 353.47h3.62v3.58h-3.62zM249.18 353.47h3.02v3.58h-3.02zM85.87 356.55h3.62v3.58h-3.62zM97.97 356.55h3.62v3.58h-3.62zM110.07 356.55h3.62v3.58h-3.62zM237.08 356.55h3.62v3.58h-3.62zM85.87 359.62h9.67v3.58h-9.67zM249.18 359.62h3.02v3.58h-3.02zM110.07 362.7h3.62v3.58h-3.62zM237.08 362.7h3.62v3.58h-3.62zM88.9 365.77h18.74v3.58h-18.74zM76.8 368.85h3.62v3.58h-3.62zM94.94 371.92h3.62v3.08h-3.62zM231.03 371.92h3.62v3.08h-3.62zM237.08 381.97h3.62v3.58h-3.62zM82.85 385.05h3.62v3.58h-3.62zM97.97 385.05h6.65v3.58h-6.65zM107.04 385.05h3.62v3.58h-3.62zM237.08 385.05h3.62v3.58h-3.62zM243.13 385.05h3.62v3.58h-3.62zM94.94 391.2h3.62v3.58h-3.62zM104.02 391.2h3.62v3.58h-3.62zM224.98 391.2h6.65v3.58h-6.65zM85.87 394.27h6.65v3.58h-6.65zM100.99 394.27h3.62v3.58h-3.62zM203.81 394.27h3.62v3.58h-3.62zM234.06 394.27h3.62v3.58h-3.62zM240.1 394.27h9.67v3.58h-9.67zM110.07 397.35h3.62v3.58h-3.62zM212.89 397.35h6.65v3.58h-6.65zM91.92 400.42h3.62v3.08h-3.62zM104.02 400.42h3.62v3.08h-3.62zM110.07 400.42h3.62v3.08h-3.62zM240.1 400.42h3.62v3.08h-3.62zM76.8 407.4h3.62v3.58h-3.62zM97.97 407.4h3.62v3.58h-3.62zM240.1 407.4h3.62v3.58h-3.62zM246.15 407.4h6.05v3.58h-6.05zM79.82 410.47h3.62v3.58h-3.62zM97.97 410.47h3.62v3.58h-3.62zM104.02 410.47h3.62v3.58h-3.62zM94.94 413.55h6.65v3.58h-6.65zM110.07 413.55h3.62v3.58h-3.62zM76.8 416.62h3.62v3.58h-3.62zM100.99 416.62h9.67v3.58h-9.67zM107.04 419.7h6.65v3.58h-6.65zM82.85 422.77h3.62v3.58h-3.62zM97.97 422.77h6.65v3.58h-6.65zM76.8 425.85h3.62v3.58h-3.62zM107.04 425.85h6.65v3.58h-6.65zM107.04 428.92h3.62v3.08h-3.62z"/>
<path fill="#2a44f8" d="M113.09 322h3.62v3.58h-3.62zM152.4 325.07h3.62v3.58h-3.62zM173.57 325.07h3.62v3.58h-3.62zM173.57 328.15h6.65v3.58h-6.65zM179.62 331.23h6.65v3.58h-6.65zM164.5 334.3h6.65v3.58h-6.65zM191.72 334.3h3.62v3.58h-3.62zM113.09 337.38h3.62v3.58h-3.62zM158.45 337.38h6.65v3.58h-6.65zM167.52 337.38h3.62v3.58h-3.62zM224.98 337.38h3.62v3.58h-3.62zM146.36 340.45h3.62v3.58h-3.62zM155.43 340.45h3.62v3.58h-3.62zM161.48 340.45h6.65v3.58h-6.65zM234.06 340.45h3.62v3.58h-3.62zM240.1 340.45h3.62v3.58h-3.62zM179.62 350.4h3.62v3.58h-3.62zM167.52 353.47h9.67v3.58h-9.67zM185.67 353.47h3.62v3.58h-3.62zM113.09 356.55h3.62v3.58h-3.62zM164.5 356.55h6.65v3.58h-6.65zM173.57 356.55h15.72v3.58h-15.72zM194.74 359.62h9.67v3.58h-9.67zM212.89 359.62h3.62v3.58h-3.62zM194.74 362.7h3.62v3.58h-3.62zM231.03 362.7h3.62v3.58h-3.62zM176.6 365.77h3.62v3.58h-3.62zM209.86 365.77h3.62v3.58h-3.62zM161.48 368.85h6.65v3.58h-6.65zM170.55 368.85h3.62v3.58h-3.62zM179.62 368.85h9.67v3.58h-9.67zM113.09 371.92h3.62v3.08h-3.62zM179.62 371.92h9.67v3.08h-9.67zM237.08 371.92h3.62v3.08h-3.62zM176.6 378.9h3.62v3.58h-3.62zM188.69 378.9h3.62v3.58h-3.62zM170.55 381.97h3.62v3.58h-3.62zM191.72 381.97h6.65v3.58h-6.65zM164.5 385.05h6.65v3.58h-6.65zM179.62 388.12h3.62v3.58h-3.62zM170.55 391.2h3.62v3.58h-3.62zM182.64 391.2h9.67v3.58h-9.67zM164.5 394.27h6.65v3.58h-6.65zM158.45 397.35h3.62v3.58h-3.62zM167.52 397.35h3.62v3.58h-3.62zM224.98 397.35h3.62v3.58h-3.62zM188.69 400.42h3.62v3.08h-3.62zM185.67 407.4h3.62v3.58h-3.62zM182.64 410.47h3.62v3.58h-3.62zM197.77 416.62h3.62v3.58h-3.62zM206.84 416.62h3.62v3.58h-3.62zM185.67 419.7h3.62v3.58h-3.62zM194.74 419.7h9.67v3.58h-9.67zM200.79 422.77h6.65v3.58h-6.65zM173.57 425.85h3.62v3.58h-3.62zM170.55 428.92h3.62v3.08h-3.62zM249.18 428.92h3.02v3.08h-3.02z"/>
<path fill="#70f6ee" d="M116.11 322h12.7v3.58h-12.7zM131.23 322h3.62v3.58h-3.62zM131.23 328.15h3.62v3.58h-3.62zM152.4 331.23h3.62v3.58h-3.62zM116.11 334.3h6.65v3.58h-6.65zM125.19 334.3h18.74v3.58h-18.74zM149.38 350.4h9.67v3.58h-9.67zM137.28 353.47h3.62v3.58h-3.62zM116.11 356.55h6.65v3.58h-6.65zM125.19 356.55h3.62v3.58h-3.62zM137.28 356.55h3.62v3.58h-3.62zM149.38 359.62h3.62v3.58h-3.62zM158.45 362.7h6.65v3.58h-6.65zM167.52 362.7h3.62v3.58h-3.62zM152.4 365.77h3.62v3.58h-3.62zM140.31 368.85h3.62v3.58h-3.62zM149.38 381.97h3.62v3.58h-3.62zM116.11 385.05h3.62v3.58h-3.62zM161.48 388.12h3.62v3.58h-3.62zM128.21 394.27h9.67v3.58h-9.67zM125.19 397.35h3.62v3.58h-3.62zM167.52 407.4h9.67v3.58h-9.67zM164.5 416.62h3.62v3.58h-3.62zM155.43 419.7h3.62v3.58h-3.62zM140.31 428.92h9.67v3.08h-9.67zM152.4 428.92h6.65v3.08h-6.65z"/>
<path fill="#6ff9e5" d="M128.21 322h3.62v3.58h-3.62zM146.36 331.23h6.65v3.58h-6.65zM122.16 334.3h3.62v3.58h-3.62zM152.4 343.52h3.62v3.08h-3.62zM146.36 350.4h3.62v3.58h-3.62zM128.21 353.47h9.67v3.58h-9.67zM122.16 356.55h3.62v3.58h-3.62zM146.36 359.62h3.62v3.58h-3.62zM164.5 362.7h3.62v3.58h-3.62zM182.64 362.7h3.62v3.58h-3.62zM128.21 368.85h12.7v3.58h-12.7zM116.11 371.92h9.67v3.08h-9.67zM152.4 378.9h6.65v3.58h-6.65zM140.31 381.97h3.62v3.58h-3.62zM128.21 385.05h9.67v3.58h-9.67zM152.4 388.12h9.67v3.58h-9.67zM146.36 391.2h3.62v3.58h-3.62zM122.16 394.27h6.65v3.58h-6.65zM122.16 397.35h3.62v3.58h-3.62zM158.45 400.42h3.62v3.08h-3.62zM161.48 407.4h6.65v3.58h-6.65zM149.38 410.47h9.67v3.58h-9.67zM158.45 413.55h3.62v3.58h-3.62zM146.36 422.77h3.62v3.58h-3.62zM143.33 425.85h3.62v3.58h-3.62zM149.38 428.92h3.62v3.08h-3.62z"/>
<path fill="#72f3f6" d="M134.26 322h6.65v3.58h-6.65zM116.11 328.15h15.72v3.58h-15.72zM134.26 328.15h9.67v3.58h-9.67zM146.36 328.15h3.62v3.58h-3.62zM155.43 331.23h3.62v3.58h-3.62zM143.33 334.3h3.62v3.58h-3.62zM119.14 337.38h3.62v3.58h-3.62zM155.43 343.52h3.62v3.08h-3.62zM128.21 356.55h9.67v3.58h-9.67zM155.43 362.7h3.62v3.58h-3.62zM170.55 362.7h3.62v3.58h-3.62zM185.67 362.7h3.62v3.58h-3.62zM158.45 365.77h3.62v3.58h-3.62zM143.33 368.85h3.62v3.58h-3.62zM125.19 371.92h15.72v3.08h-15.72zM155.43 371.92h3.62v3.08h-3.62zM158.45 378.9h6.65v3.58h-6.65zM146.36 381.97h3.62v3.58h-3.62zM152.4 381.97h6.65v3.58h-6.65zM125.19 385.05h3.62v3.58h-3.62zM137.28 385.05h3.62v3.58h-3.62zM149.38 391.2h3.62v3.58h-3.62zM137.28 394.27h3.62v3.58h-3.62zM119.14 397.35h3.62v3.58h-3.62zM161.48 400.42h3.62v3.08h-3.62zM176.6 407.4h3.62v3.58h-3.62zM158.45 410.47h3.62v3.58h-3.62zM158.45 419.7h9.67v3.58h-9.67zM149.38 422.77h3.62v3.58h-3.62z"/>
<path fill="#6de7fa" d="M140.31 322h3.62v3.58h-3.62zM143.33 328.15h3.62v3.58h-3.62zM158.45 331.23h12.7v3.58h-12.7zM116.11 337.38h3.62v3.58h-3.62zM122.16 337.38h6.65v3.58h-6.65zM131.23 337.38h9.67v3.58h-9.67zM158.45 350.4h9.67v3.58h-9.67zM140.31 353.47h6.65v3.58h-6.65zM140.31 356.55h3.62v3.58h-3.62zM152.4 359.62h3.62v3.58h-3.62zM188.69 362.7h3.62v3.58h-3.62zM155.43 365.77h3.62v3.58h-3.62zM140.31 371.92h3.62v3.08h-3.62zM158.45 371.92h3.62v3.08h-3.62zM113.09 378.9h3.62v3.58h-3.62zM119.14 385.05h6.65v3.58h-6.65zM140.31 385.05h3.62v3.58h-3.62zM113.09 388.12h3.62v3.58h-3.62zM164.5 388.12h3.62v3.58h-3.62zM140.31 394.27h3.62v3.58h-3.62zM116.11 397.35h3.62v3.58h-3.62zM128.21 397.35h12.7v3.58h-12.7zM164.5 400.42h3.62v3.08h-3.62zM161.48 413.55h9.67v3.58h-9.67zM185.67 416.62h6.65v3.58h-6.65zM152.4 422.77h3.62v3.58h-3.62zM146.36 425.85h12.7v3.58h-12.7zM158.45 428.92h3.62v3.08h-3.62z"/>
<path fill="#55b9fa" d="M143.33 322h3.62v3.58h-3.62zM152.4 322h9.67v3.58h-9.67zM116.11 325.07h3.62v3.58h-3.62zM152.4 328.15h3.62v3.58h-3.62zM188.69 328.15h3.62v3.58h-3.62zM113.09 331.23h3.62v3.58h-3.62zM149.38 334.3h9.67v3.58h-9.67zM140.31 337.38h6.65v3.58h-6.65zM149.38 337.38h3.62v3.58h-3.62zM176.6 340.45h3.62v3.58h-3.62zM164.5 343.52h12.7v3.08h-12.7zM200.79 343.52h6.65v3.08h-6.65zM152.4 353.47h3.62v3.58h-3.62zM158.45 353.47h3.62v3.58h-3.62zM143.33 356.55h6.65v3.58h-6.65zM161.48 359.62h3.62v3.58h-3.62zM113.09 362.7h3.62v3.58h-3.62zM173.57 362.7h3.62v3.58h-3.62zM113.09 365.77h3.62v3.58h-3.62zM113.09 368.85h3.62v3.58h-3.62zM149.38 368.85h6.65v3.58h-6.65zM146.36 371.92h6.65v3.08h-6.65zM113.09 381.97h3.62v3.58h-3.62zM161.48 381.97h3.62v3.58h-3.62zM173.57 381.97h6.65v3.58h-6.65zM146.36 385.05h3.62v3.58h-3.62zM167.52 388.12h3.62v3.58h-3.62zM173.57 388.12h3.62v3.58h-3.62zM146.36 394.27h3.62v3.58h-3.62zM146.36 397.35h6.65v3.58h-6.65zM113.09 400.42h3.62v3.08h-3.62zM170.55 400.42h3.62v3.08h-3.62zM176.6 400.42h6.65v3.08h-6.65zM164.5 410.47h3.62v3.58h-3.62zM113.09 413.55h3.62v3.58h-3.62zM176.6 413.55h3.62v3.58h-3.62zM215.91 413.55h3.62v3.58h-3.62zM113.09 419.7h3.62v3.58h-3.62zM173.57 419.7h3.62v3.58h-3.62zM179.62 419.7h3.62v3.58h-3.62zM113.09 422.77h3.62v3.58h-3.62zM158.45 422.77h3.62v3.58h-3.62zM167.52 422.77h3.62v3.58h-3.62zM113.09 425.85h3.62v3.58h-3.62zM158.45 425.85h3.62v3.58h-3.62z"/>
<path fill="#4b9bf9" d="M146.36 322h3.62v3.58h-3.62zM167.52 322h6.65v3.58h-6.65zM197.77 322h3.62v3.58h-3.62zM128.21 325.07h3.62v3.58h-3.62zM155.43 328.15h3.62v3.58h-3.62zM182.64 328.15h6.65v3.58h-6.65zM146.36 337.38h3.62v3.58h-3.62zM152.4 337.38h3.62v3.58h-3.62zM122.16 340.45h3.62v3.58h-3.62zM113.09 343.52h3.62v3.08h-3.62zM218.93 350.4h3.62v3.58h-3.62zM155.43 353.47h3.62v3.58h-3.62zM179.62 353.47h3.62v3.58h-3.62zM149.38 356.55h6.65v3.58h-6.65zM113.09 359.62h3.62v3.58h-3.62zM164.5 359.62h3.62v3.58h-3.62zM164.5 365.77h3.62v3.58h-3.62zM155.43 368.85h3.62v3.58h-3.62zM152.4 371.92h3.62v3.08h-3.62zM203.81 378.9h3.62v3.58h-3.62zM179.62 381.97h3.62v3.58h-3.62zM176.6 388.12h3.62v3.58h-3.62zM158.45 391.2h9.67v3.58h-9.67zM113.09 394.27h3.62v3.58h-3.62zM149.38 394.27h3.62v3.58h-3.62zM155.43 394.27h3.62v3.58h-3.62zM173.57 400.42h3.62v3.08h-3.62zM182.64 400.42h3.62v3.08h-3.62zM197.77 400.42h3.62v3.08h-3.62zM113.09 410.47h3.62v3.58h-3.62zM167.52 410.47h9.67v3.58h-9.67zM179.62 413.55h3.62v3.58h-3.62zM212.89 413.55h3.62v3.58h-3.62zM173.57 416.62h6.65v3.58h-6.65zM182.64 416.62h3.62v3.58h-3.62zM182.64 419.7h3.62v3.58h-3.62zM161.48 422.77h6.65v3.58h-6.65zM173.57 422.77h3.62v3.58h-3.62zM161.48 425.85h6.65v3.58h-6.65zM113.09 428.92h3.62v3.08h-3.62zM164.5 428.92h3.62v3.08h-3.62z"/>
<path fill="#417df8" d="M149.38 322h3.62v3.58h-3.62zM161.48 322h3.62v3.58h-3.62zM206.84 322h3.62v3.58h-3.62zM131.23 325.07h3.62v3.58h-3.62zM140.31 325.07h6.65v3.58h-6.65zM176.6 331.23h3.62v3.58h-3.62zM191.72 331.23h6.65v3.58h-6.65zM158.45 334.3h3.62v3.58h-3.62zM185.67 334.3h6.65v3.58h-6.65zM155.43 337.38h3.62v3.58h-3.62zM116.11 340.45h6.65v3.58h-6.65zM125.19 340.45h21.77v3.58h-21.77zM173.57 340.45h3.62v3.58h-3.62zM113.09 350.4h3.62v3.58h-3.62zM170.55 350.4h3.62v3.58h-3.62zM215.91 350.4h3.62v3.58h-3.62zM113.09 353.47h3.62v3.58h-3.62zM161.48 353.47h6.65v3.58h-6.65zM182.64 353.47h3.62v3.58h-3.62zM158.45 356.55h3.62v3.58h-3.62zM167.52 359.62h9.67v3.58h-9.67zM206.84 359.62h3.62v3.58h-3.62zM228.01 362.7h3.62v3.58h-3.62zM158.45 368.85h3.62v3.58h-3.62zM161.48 371.92h3.62v3.08h-3.62zM170.55 378.9h3.62v3.58h-3.62zM206.84 378.9h6.65v3.58h-6.65zM164.5 381.97h3.62v3.58h-3.62zM206.84 381.97h6.65v3.58h-6.65zM149.38 385.05h15.72v3.58h-15.72zM200.79 391.2h9.67v3.58h-9.67zM152.4 394.27h3.62v3.58h-3.62zM158.45 394.27h6.65v3.58h-6.65zM182.64 394.27h3.62v3.58h-3.62zM152.4 397.35h3.62v3.58h-3.62zM200.79 400.42h3.62v3.08h-3.62zM176.6 410.47h3.62v3.58h-3.62zM182.64 413.55h3.62v3.58h-3.62zM188.69 413.55h3.62v3.58h-3.62zM218.93 413.55h3.62v3.58h-3.62zM203.81 416.62h3.62v3.58h-3.62zM203.81 419.7h9.67v3.58h-9.67zM228.01 419.7h3.62v3.58h-3.62zM167.52 425.85h6.65v3.58h-6.65zM188.69 425.85h6.65v3.58h-6.65zM176.6 428.92h3.62v3.08h-3.62z"/>
<path fill="#61d0fa" d="M164.5 322h3.62v3.58h-3.62zM119.14 325.07h9.67v3.58h-9.67zM149.38 328.15h3.62v3.58h-3.62zM179.62 328.15h3.62v3.58h-3.62zM170.55 331.23h6.65v3.58h-6.65zM146.36 334.3h3.62v3.58h-3.62zM128.21 337.38h3.62v3.58h-3.62zM158.45 343.52h6.65v3.08h-6.65zM167.52 350.4h3.62v3.58h-3.62zM146.36 353.47h6.65v3.58h-6.65zM155.43 359.62h6.65v3.58h-6.65zM176.6 362.7h6.65v3.58h-6.65zM191.72 362.7h3.62v3.58h-3.62zM161.48 365.77h3.62v3.58h-3.62zM146.36 368.85h3.62v3.58h-3.62zM143.33 371.92h3.62v3.08h-3.62zM164.5 378.9h6.65v3.58h-6.65zM158.45 381.97h3.62v3.58h-3.62zM143.33 385.05h3.62v3.58h-3.62zM170.55 388.12h3.62v3.58h-3.62zM113.09 391.2h3.62v3.58h-3.62zM152.4 391.2h6.65v3.58h-6.65zM143.33 394.27h3.62v3.58h-3.62zM140.31 397.35h6.65v3.58h-6.65zM167.52 400.42h3.62v3.08h-3.62zM179.62 407.4h3.62v3.58h-3.62zM161.48 410.47h3.62v3.58h-3.62zM170.55 413.55h6.65v3.58h-6.65zM113.09 416.62h3.62v3.58h-3.62zM167.52 416.62h6.65v3.58h-6.65zM191.72 416.62h6.65v3.58h-6.65zM167.52 419.7h6.65v3.58h-6.65zM176.6 419.7h3.62v3.58h-3.62zM155.43 422.77h3.62v3.58h-3.62zM170.55 422.77h3.62v3.58h-3.62zM161.48 428.92h3.62v3.08h-3.62z"/>
<path fill="#1d16f7" d="M173.57 322h15.72v3.58h-15.72zM191.72 322h3.62v3.58h-3.62zM218.93 322h3.62v3.58h-3.62zM158.45 325.07h6.65v3.58h-6.65zM167.52 325.07h6.65v3.58h-6.65zM182.64 325.07h3.62v3.58h-3.62zM113.09 328.15h3.62v3.58h-3.62zM200.79 331.23h3.62v3.58h-3.62zM206.84 331.23h6.65v3.58h-6.65zM215.91 331.23h6.65v3.58h-6.65zM170.55 334.3h3.62v3.58h-3.62zM176.6 334.3h9.67v3.58h-9.67zM200.79 334.3h3.62v3.58h-3.62zM206.84 334.3h3.62v3.58h-3.62zM173.57 337.38h3.62v3.58h-3.62zM188.69 337.38h3.62v3.58h-3.62zM234.06 337.38h3.62v3.58h-3.62zM113.09 340.45h3.62v3.58h-3.62zM167.52 340.45h6.65v3.58h-6.65zM179.62 340.45h6.65v3.58h-6.65zM231.03 343.52h3.62v3.08h-3.62zM221.96 350.4h3.62v3.58h-3.62zM200.79 353.47h6.65v3.58h-6.65zM231.03 353.47h3.62v3.58h-3.62zM170.55 356.55h3.62v3.58h-3.62zM212.89 356.55h3.62v3.58h-3.62zM221.96 356.55h3.62v3.58h-3.62zM185.67 359.62h6.65v3.58h-6.65zM221.96 359.62h6.65v3.58h-6.65zM231.03 359.62h3.62v3.58h-3.62zM200.79 362.7h3.62v3.58h-3.62zM206.84 362.7h3.62v3.58h-3.62zM215.91 362.7h3.62v3.58h-3.62zM182.64 365.77h3.62v3.58h-3.62zM188.69 365.77h3.62v3.58h-3.62zM203.81 365.77h6.65v3.58h-6.65zM218.93 365.77h3.62v3.58h-3.62zM224.98 365.77h3.62v3.58h-3.62zM191.72 368.85h15.72v3.58h-15.72zM173.57 371.92h6.65v3.08h-6.65zM188.69 371.92h3.62v3.08h-3.62zM191.72 378.9h6.65v3.58h-6.65zM200.79 378.9h3.62v3.58h-3.62zM231.03 378.9h3.62v3.58h-3.62zM182.64 381.97h6.65v3.58h-6.65zM197.77 381.97h3.62v3.58h-3.62zM179.62 385.05h3.62v3.58h-3.62zM209.86 385.05h3.62v3.58h-3.62zM215.91 385.05h3.62v3.58h-3.62zM107.04 388.12h3.62v3.58h-3.62zM182.64 388.12h6.65v3.58h-6.65zM197.77 388.12h3.62v3.58h-3.62zM197.77 391.2h3.62v3.58h-3.62zM110.07 394.27h3.62v3.58h-3.62zM218.93 394.27h6.65v3.58h-6.65zM113.09 397.35h3.62v3.58h-3.62zM170.55 397.35h3.62v3.58h-3.62zM206.84 400.42h6.65v3.08h-6.65zM215.91 400.42h6.65v3.08h-6.65zM188.69 407.4h12.7v3.58h-12.7zM209.86 407.4h3.62v3.58h-3.62zM197.77 410.47h3.62v3.58h-3.62zM206.84 410.47h3.62v3.58h-3.62zM218.93 410.47h3.62v3.58h-3.62zM234.06 410.47h3.62v3.58h-3.62zM194.74 413.55h3.62v3.58h-3.62zM200.79 413.55h3.62v3.58h-3.62zM206.84 413.55h6.65v3.58h-6.65zM212.89 416.62h9.67v3.58h-9.67zM234.06 416.62h3.62v3.58h-3.62zM194.74 422.77h3.62v3.58h-3.62zM209.86 422.77h3.62v3.58h-3.62zM197.77 425.85h6.65v3.58h-6.65zM237.08 425.85h3.62v3.58h-3.62zM185.67 428.92h6.65v3.08h-6.65zM203.81 428.92h6.65v3.08h-6.65zM243.13 428.92h3.62v3.08h-3.62z"/>
<path fill="#2510f6" d="M188.69 322h3.62v3.58h-3.62zM215.91 322h3.62v3.58h-3.62zM221.96 322h3.62v3.58h-3.62zM240.1 322h6.65v3.58h-6.65zM94.94 325.07h3.62v3.58h-3.62zM185.67 325.07h3.62v3.58h-3.62zM203.81 325.07h6.65v3.58h-6.65zM194.74 328.15h3.62v3.58h-3.62zM203.81 328.15h15.72v3.58h-15.72zM203.81 331.23h3.62v3.58h-3.62zM203.81 334.3h3.62v3.58h-3.62zM209.86 334.3h6.65v3.58h-6.65zM224.98 334.3h3.62v3.58h-3.62zM234.06 334.3h6.65v3.58h-6.65zM191.72 337.38h3.62v3.58h-3.62zM203.81 337.38h12.7v3.58h-12.7zM246.15 337.38h3.62v3.58h-3.62zM88.9 340.45h3.62v3.58h-3.62zM185.67 340.45h3.62v3.58h-3.62zM191.72 340.45h9.67v3.58h-9.67zM228.01 340.45h6.65v3.58h-6.65zM246.15 340.45h6.05v3.58h-6.05zM188.69 343.52h3.62v3.08h-3.62zM197.77 343.52h3.62v3.08h-3.62zM206.84 343.52h3.62v3.08h-3.62zM224.98 343.52h6.65v3.08h-6.65zM237.08 343.52h3.62v3.08h-3.62zM194.74 350.4h6.65v3.58h-6.65zM203.81 350.4h6.65v3.58h-6.65zM224.98 350.4h3.62v3.58h-3.62zM231.03 350.4h9.67v3.58h-9.67zM206.84 353.47h3.62v3.58h-3.62zM191.72 356.55h3.62v3.58h-3.62zM209.86 356.55h3.62v3.58h-3.62zM224.98 356.55h6.65v3.58h-6.65zM76.8 359.62h6.65v3.58h-6.65zM97.97 359.62h6.65v3.58h-6.65zM215.91 359.62h6.65v3.58h-6.65zM228.01 359.62h3.62v3.58h-3.62zM234.06 359.62h9.67v3.58h-9.67zM197.77 362.7h3.62v3.58h-3.62zM203.81 362.7h3.62v3.58h-3.62zM200.79 365.77h3.62v3.58h-3.62zM228.01 365.77h3.62v3.58h-3.62zM237.08 365.77h3.62v3.58h-3.62zM91.92 368.85h6.65v3.58h-6.65zM110.07 368.85h3.62v3.58h-3.62zM206.84 368.85h6.65v3.58h-6.65zM221.96 368.85h6.65v3.58h-6.65zM76.8 371.92h3.62v3.08h-3.62zM191.72 371.92h3.62v3.08h-3.62zM212.89 371.92h6.65v3.08h-6.65zM221.96 371.92h3.62v3.08h-3.62zM82.85 378.9h9.67v3.58h-9.67zM94.94 378.9h3.62v3.58h-3.62zM197.77 378.9h3.62v3.58h-3.62zM212.89 378.9h6.65v3.58h-6.65zM228.01 378.9h3.62v3.58h-3.62zM234.06 378.9h3.62v3.58h-3.62zM107.04 381.97h6.65v3.58h-6.65zM200.79 381.97h3.62v3.58h-3.62zM212.89 381.97h12.7v3.58h-12.7zM191.72 385.05h6.65v3.58h-6.65zM206.84 385.05h3.62v3.58h-3.62zM212.89 385.05h3.62v3.58h-3.62zM221.96 385.05h3.62v3.58h-3.62zM94.94 388.12h3.62v3.58h-3.62zM100.99 388.12h6.65v3.58h-6.65zM188.69 388.12h9.67v3.58h-9.67zM200.79 388.12h6.65v3.58h-6.65zM209.86 388.12h3.62v3.58h-3.62zM215.91 388.12h3.62v3.58h-3.62zM221.96 388.12h3.62v3.58h-3.62zM234.06 391.2h6.65v3.58h-6.65zM243.13 391.2h3.62v3.58h-3.62zM249.18 391.2h3.02v3.58h-3.02zM94.94 394.27h6.65v3.58h-6.65zM188.69 394.27h6.65v3.58h-6.65zM215.91 394.27h3.62v3.58h-3.62zM224.98 394.27h3.62v3.58h-3.62zM94.94 397.35h3.62v3.58h-3.62zM173.57 397.35h12.7v3.58h-12.7zM191.72 397.35h6.65v3.58h-6.65zM203.81 397.35h6.65v3.58h-6.65zM228.01 397.35h6.65v3.58h-6.65zM249.18 397.35h3.02v3.58h-3.02zM203.81 400.42h3.62v3.08h-3.62zM88.9 407.4h3.62v3.58h-3.62zM212.89 407.4h3.62v3.58h-3.62zM200.79 410.47h3.62v3.58h-3.62zM209.86 410.47h6.65v3.58h-6.65zM221.96 410.47h3.62v3.58h-3.62zM231.03 410.47h3.62v3.58h-3.62zM237.08 410.47h3.62v3.58h-3.62zM197.77 413.55h3.62v3.58h-3.62zM221.96 416.62h3.62v3.58h-3.62zM228.01 416.62h3.62v3.58h-3.62zM237.08 416.62h6.65v3.58h-6.65zM191.72 419.7h3.62v3.58h-3.62zM215.91 419.7h3.62v3.58h-3.62zM221.96 419.7h6.65v3.58h-6.65zM191.72 422.77h3.62v3.58h-3.62zM221.96 422.77h3.62v3.58h-3.62zM82.85 425.85h3.62v3.58h-3.62zM194.74 425.85h3.62v3.58h-3.62zM203.81 425.85h3.62v3.58h-3.62zM221.96 425.85h9.67v3.58h-9.67zM191.72 428.92h6.65v3.08h-6.65zM200.79 428.92h3.62v3.08h-3.62zM209.86 428.92h3.62v3.08h-3.62zM237.08 428.92h6.65v3.08h-6.65zM246.15 428.92h3.62v3.08h-3.62z"/>
<path fill="#1f27f8" d="M194.74 322h3.62v3.58h-3.62zM113.09 325.07h3.62v3.58h-3.62zM155.43 325.07h3.62v3.58h-3.62zM164.5 325.07h3.62v3.58h-3.62zM170.55 328.15h3.62v3.58h-3.62zM191.72 328.15h3.62v3.58h-3.62zM185.67 331.23h3.62v3.58h-3.62zM197.77 331.23h3.62v3.58h-3.62zM212.89 331.23h3.62v3.58h-3.62zM113.09 334.3h3.62v3.58h-3.62zM173.57 334.3h3.62v3.58h-3.62zM170.55 337.38h3.62v3.58h-3.62zM176.6 337.38h12.7v3.58h-12.7zM228.01 337.38h6.65v3.58h-6.65zM149.38 340.45h6.65v3.58h-6.65zM182.64 343.52h6.65v3.08h-6.65zM176.6 350.4h3.62v3.58h-3.62zM182.64 350.4h3.62v3.58h-3.62zM188.69 350.4h6.65v3.58h-6.65zM188.69 353.47h12.7v3.58h-12.7zM234.06 353.47h3.62v3.58h-3.62zM188.69 356.55h3.62v3.58h-3.62zM182.64 359.62h3.62v3.58h-3.62zM191.72 359.62h3.62v3.58h-3.62zM203.81 359.62h3.62v3.58h-3.62zM209.86 362.7h6.65v3.58h-6.65zM179.62 365.77h3.62v3.58h-3.62zM185.67 365.77h3.62v3.58h-3.62zM212.89 365.77h6.65v3.58h-6.65zM221.96 365.77h3.62v3.58h-3.62zM167.52 368.85h3.62v3.58h-3.62zM173.57 368.85h6.65v3.58h-6.65zM188.69 368.85h3.62v3.58h-3.62zM170.55 371.92h3.62v3.08h-3.62zM243.13 371.92h3.62v3.08h-3.62zM179.62 378.9h9.67v3.58h-9.67zM188.69 381.97h3.62v3.58h-3.62zM170.55 385.05h9.67v3.58h-9.67zM188.69 385.05h3.62v3.58h-3.62zM173.57 391.2h9.67v3.58h-9.67zM191.72 391.2h6.65v3.58h-6.65zM170.55 394.27h12.7v3.58h-12.7zM221.96 397.35h3.62v3.58h-3.62zM191.72 400.42h3.62v3.08h-3.62zM212.89 400.42h3.62v3.08h-3.62zM200.79 407.4h9.67v3.58h-9.67zM191.72 410.47h6.65v3.58h-6.65zM203.81 410.47h3.62v3.58h-3.62zM215.91 410.47h3.62v3.58h-3.62zM191.72 413.55h3.62v3.58h-3.62zM203.81 413.55h3.62v3.58h-3.62zM221.96 413.55h3.62v3.58h-3.62zM209.86 416.62h3.62v3.58h-3.62zM188.69 419.7h3.62v3.58h-3.62zM237.08 419.7h6.65v3.58h-6.65zM179.62 422.77h12.7v3.58h-12.7zM197.77 422.77h3.62v3.58h-3.62zM206.84 422.77h3.62v3.58h-3.62zM212.89 422.77h9.67v3.58h-9.67zM179.62 425.85h6.65v3.58h-6.65zM234.06 425.85h3.62v3.58h-3.62zM182.64 428.92h3.62v3.08h-3.62z"/>
<path fill="#3660f8" d="M200.79 322h6.65v3.58h-6.65zM134.26 325.07h6.65v3.58h-6.65zM146.36 325.07h6.65v3.58h-6.65zM176.6 325.07h6.65v3.58h-6.65zM158.45 328.15h12.7v3.58h-12.7zM188.69 331.23h3.62v3.58h-3.62zM161.48 334.3h3.62v3.58h-3.62zM194.74 334.3h3.62v3.58h-3.62zM164.5 337.38h3.62v3.58h-3.62zM158.45 340.45h3.62v3.58h-3.62zM237.08 340.45h3.62v3.58h-3.62zM243.13 340.45h3.62v3.58h-3.62zM176.6 343.52h6.65v3.08h-6.65zM173.57 350.4h3.62v3.58h-3.62zM185.67 350.4h3.62v3.58h-3.62zM209.86 350.4h6.65v3.58h-6.65zM176.6 353.47h3.62v3.58h-3.62zM155.43 356.55h3.62v3.58h-3.62zM161.48 356.55h3.62v3.58h-3.62zM215.91 356.55h6.65v3.58h-6.65zM176.6 359.62h6.65v3.58h-6.65zM209.86 359.62h3.62v3.58h-3.62zM224.98 362.7h3.62v3.58h-3.62zM167.52 365.77h9.67v3.58h-9.67zM164.5 371.92h6.65v3.08h-6.65zM240.1 371.92h3.62v3.08h-3.62zM173.57 378.9h3.62v3.58h-3.62zM167.52 381.97h3.62v3.58h-3.62zM113.09 385.05h3.62v3.58h-3.62zM182.64 385.05h6.65v3.58h-6.65zM167.52 391.2h3.62v3.58h-3.62zM209.86 391.2h3.62v3.58h-3.62zM185.67 394.27h3.62v3.58h-3.62zM155.43 397.35h3.62v3.58h-3.62zM161.48 397.35h6.65v3.58h-6.65zM185.67 400.42h3.62v3.08h-3.62zM194.74 400.42h3.62v3.08h-3.62zM182.64 407.4h3.62v3.58h-3.62zM179.62 410.47h3.62v3.58h-3.62zM185.67 410.47h6.65v3.58h-6.65zM185.67 413.55h3.62v3.58h-3.62zM179.62 416.62h3.62v3.58h-3.62zM200.79 416.62h3.62v3.58h-3.62zM212.89 419.7h3.62v3.58h-3.62zM231.03 419.7h3.62v3.58h-3.62zM176.6 422.77h3.62v3.58h-3.62zM176.6 425.85h3.62v3.58h-3.62zM185.67 425.85h3.62v3.58h-3.62zM167.52 428.92h3.62v3.08h-3.62zM173.57 428.92h3.62v3.08h-3.62zM179.62 428.92h3.62v3.08h-3.62z"/>
<path fill="#bd18f0" d="M85.87 328.15h3.62v3.58h-3.62zM76.8 340.45h6.65v3.58h-6.65zM91.92 356.55h3.62v3.58h-3.62zM104.02 356.55h3.62v3.58h-3.62zM249.18 365.77h3.02v3.58h-3.02zM76.8 388.12h6.65v3.58h-6.65zM79.82 407.4h3.62v3.58h-3.62zM212.89 425.85h3.62v3.58h-3.62z"/>
<path fill="#9912f0" d="M88.9 328.15h3.62v3.58h-3.62zM94.94 331.23h3.62v3.58h-3.62zM246.15 331.23h3.62v3.58h-3.62zM91.92 337.38h6.65v3.58h-6.65zM237.08 337.38h3.62v3.58h-3.62zM79.82 353.47h6.65v3.58h-6.65zM88.9 356.55h3.62v3.58h-3.62zM94.94 356.55h3.62v3.58h-3.62zM100.99 356.55h3.62v3.58h-3.62zM107.04 356.55h3.62v3.58h-3.62zM246.15 365.77h3.62v3.58h-3.62zM97.97 371.92h3.62v3.08h-3.62zM110.07 371.92h3.62v3.08h-3.62zM240.1 381.97h6.65v3.58h-6.65zM97.97 391.2h6.65v3.58h-6.65zM200.79 394.27h3.62v3.58h-3.62zM107.04 400.42h3.62v3.08h-3.62zM243.13 400.42h9.07v3.08h-9.07zM88.9 410.47h3.62v3.58h-3.62zM107.04 410.47h6.65v3.58h-6.65zM104.02 422.77h3.62v3.58h-3.62zM209.86 425.85h3.62v3.58h-3.62zM215.91 425.85h3.62v3.58h-3.62z"/>
<path fill="#48ee24" d="M116.11 331.23h3.62v3.58h-3.62zM122.16 331.23h6.65v3.58h-6.65zM119.14 359.62h3.62v3.58h-3.62zM125.19 359.62h6.65v3.58h-6.65zM140.31 362.7h3.62v3.58h-3.62zM116.11 378.9h3.62v3.58h-3.62zM119.14 400.42h12.7v3.08h-12.7zM149.38 407.4h3.62v3.58h-3.62zM125.19 410.47h3.62v3.58h-3.62zM137.28 410.47h3.62v3.58h-3.62zM146.36 416.62h3.62v3.58h-3.62zM122.16 419.7h3.62v3.58h-3.62zM125.19 422.77h3.62v3.58h-3.62zM119.14 425.85h6.65v3.58h-6.65z"/>
<path fill="#23ee23" d="M119.14 331.23h3.62v3.58h-3.62zM137.28 331.23h3.62v3.58h-3.62zM134.26 359.62h3.62v3.58h-3.62zM125.19 365.77h9.67v3.58h-9.67zM125.19 378.9h6.65v3.58h-6.65zM137.28 388.12h6.65v3.58h-6.65zM119.14 391.2h3.62v3.58h-3.62zM131.23 391.2h3.62v3.58h-3.62zM116.11 410.47h3.62v3.58h-3.62zM143.33 413.55h3.62v3.58h-3.62zM149.38 416.62h3.62v3.58h-3.62zM125.19 419.7h3.62v3.58h-3.62zM116.11 422.77h3.62v3.58h-3.62zM122.16 422.77h3.62v3.58h-3.62zM131.23 422.77h3.62v3.58h-3.62z"/>
<path fill="#92ee26" d="M128.21 331.23h3.62v3.58h-3.62zM122.16 362.7h3.62v3.58h-3.62zM125.19 388.12h6.65v3.58h-6.65zM134.26 388.12h3.62v3.58h-3.62zM119.14 410.47h3.62v3.58h-3.62zM119.14 413.55h3.62v3.58h-3.62zM131.23 413.55h3.62v3.58h-3.62zM119.14 416.62h3.62v3.58h-3.62zM143.33 416.62h3.62v3.58h-3.62z"/>
<path fill="#6dee25" d="M131.23 331.23h6.65v3.58h-6.65zM122.16 359.62h3.62v3.58h-3.62zM131.23 359.62h3.62v3.58h-3.62zM116.11 362.7h6.65v3.58h-6.65zM137.28 362.7h3.62v3.58h-3.62zM119.14 378.9h3.62v3.58h-3.62zM116.11 388.12h3.62v3.58h-3.62zM122.16 388.12h3.62v3.58h-3.62zM116.11 400.42h3.62v3.08h-3.62zM146.36 407.4h3.62v3.58h-3.62zM122.16 410.47h3.62v3.58h-3.62zM128.21 410.47h3.62v3.58h-3.62zM134.26 413.55h9.67v3.58h-9.67zM116.11 419.7h6.65v3.58h-6.65zM128.21 422.77h3.62v3.58h-3.62zM116.11 425.85h3.62v3.58h-3.62z"/>
<path fill="#3cf35c" d="M140.31 331.23h3.62v3.58h-3.62zM122.16 343.52h3.62v3.08h-3.62zM119.14 350.4h6.65v3.58h-6.65zM131.23 350.4h3.62v3.58h-3.62zM137.28 350.4h3.62v3.58h-3.62zM119.14 365.77h3.62v3.58h-3.62zM134.26 378.9h3.62v3.58h-3.62zM146.36 388.12h3.62v3.58h-3.62zM122.16 391.2h9.67v3.58h-9.67zM134.26 391.2h3.62v3.58h-3.62zM140.31 400.42h9.67v3.08h-9.67zM140.31 410.47h3.62v3.58h-3.62zM146.36 413.55h9.67v3.58h-9.67zM140.31 419.7h12.7v3.58h-12.7zM137.28 422.77h6.65v3.58h-6.65zM131.23 425.85h3.62v3.58h-3.62z"/>
<path fill="#55f896" d="M143.33 331.23h3.62v3.58h-3.62zM119.14 343.52h3.62v3.08h-3.62zM134.26 343.52h9.67v3.08h-9.67zM140.31 350.4h3.62v3.58h-3.62zM116.11 353.47h6.65v3.58h-6.65zM140.31 359.62h3.62v3.58h-3.62zM149.38 362.7h3.62v3.58h-3.62zM137.28 365.77h12.7v3.58h-12.7zM143.33 378.9h3.62v3.58h-3.62zM137.28 391.2h6.65v3.58h-6.65zM137.28 400.42h3.62v3.08h-3.62zM149.38 400.42h3.62v3.08h-3.62zM155.43 413.55h3.62v3.58h-3.62zM137.28 425.85h3.62v3.58h-3.62zM119.14 428.92h12.7v3.08h-12.7zM134.26 428.92h3.62v3.08h-3.62z"/>
<path fill="#49f679" d="M116.11 343.52h3.62v3.08h-3.62zM131.23 343.52h3.62v3.08h-3.62zM125.19 350.4h6.65v3.58h-6.65zM134.26 365.77h3.62v3.58h-3.62zM116.11 368.85h3.62v3.58h-3.62zM137.28 378.9h3.62v3.58h-3.62zM119.14 381.97h3.62v3.58h-3.62zM143.33 388.12h3.62v3.58h-3.62zM134.26 400.42h3.62v3.08h-3.62zM155.43 407.4h3.62v3.58h-3.62zM143.33 410.47h3.62v3.58h-3.62zM152.4 416.62h6.65v3.58h-6.65zM134.26 425.85h3.62v3.58h-3.62zM116.11 428.92h3.62v3.08h-3.62zM131.23 428.92h3.62v3.08h-3.62z"/>
<path fill="#30f040" d="M125.19 343.52h6.65v3.08h-6.65zM116.11 350.4h3.62v3.58h-3.62zM134.26 350.4h3.62v3.58h-3.62zM116.11 359.62h3.62v3.58h-3.62zM137.28 359.62h3.62v3.58h-3.62zM143.33 362.7h6.65v3.58h-6.65zM116.11 365.77h3.62v3.58h-3.62zM122.16 365.77h3.62v3.58h-3.62zM122.16 378.9h3.62v3.58h-3.62zM131.23 378.9h3.62v3.58h-3.62zM116.11 381.97h3.62v3.58h-3.62zM116.11 391.2h3.62v3.58h-3.62zM131.23 400.42h3.62v3.08h-3.62zM152.4 407.4h3.62v3.58h-3.62zM128.21 419.7h12.7v3.58h-12.7zM119.14 422.77h3.62v3.58h-3.62zM134.26 422.77h3.62v3.58h-3.62zM125.19 425.85h6.65v3.58h-6.65z"/>
<path fill="#5ff9b4" d="M143.33 343.52h3.62v3.08h-3.62zM143.33 350.4h3.62v3.58h-3.62zM122.16 353.47h3.62v3.58h-3.62zM152.4 362.7h3.62v3.58h-3.62zM119.14 368.85h6.65v3.58h-6.65zM140.31 378.9h3.62v3.58h-3.62zM146.36 378.9h6.65v3.58h-6.65zM122.16 381.97h3.62v3.58h-3.62zM128.21 381.97h6.65v3.58h-6.65zM137.28 381.97h3.62v3.58h-3.62zM149.38 388.12h3.62v3.58h-3.62zM152.4 400.42h3.62v3.08h-3.62zM158.45 407.4h3.62v3.58h-3.62zM158.45 416.62h3.62v3.58h-3.62zM152.4 419.7h3.62v3.58h-3.62zM143.33 422.77h3.62v3.58h-3.62zM140.31 425.85h3.62v3.58h-3.62z"/>
<path fill="#69fad2" d="M146.36 343.52h6.65v3.08h-6.65zM125.19 353.47h3.62v3.58h-3.62zM143.33 359.62h3.62v3.58h-3.62zM149.38 365.77h3.62v3.58h-3.62zM125.19 368.85h3.62v3.58h-3.62zM125.19 381.97h3.62v3.58h-3.62zM134.26 381.97h3.62v3.58h-3.62zM143.33 381.97h3.62v3.58h-3.62zM143.33 391.2h3.62v3.58h-3.62zM116.11 394.27h6.65v3.58h-6.65zM155.43 400.42h3.62v3.08h-3.62zM113.09 407.4h3.62v3.58h-3.62zM146.36 410.47h3.62v3.58h-3.62zM161.48 416.62h3.62v3.58h-3.62zM137.28 428.92h3.62v3.08h-3.62z"/>
<path fill="#b7ee27" d="M125.19 362.7h3.62v3.58h-3.62zM119.14 388.12h3.62v3.58h-3.62zM131.23 388.12h3.62v3.58h-3.62zM134.26 410.47h3.62v3.58h-3.62zM116.11 413.55h3.62v3.58h-3.62zM116.11 416.62h3.62v3.58h-3.62zM140.31 416.62h3.62v3.58h-3.62z"/>
<path fill="#efe427" d="M128.21 362.7h3.62v3.58h-3.62zM128.21 413.55h3.62v3.58h-3.62zM122.16 416.62h3.62v3.58h-3.62zM128.21 416.62h3.62v3.58h-3.62zM134.26 416.62h6.65v3.58h-6.65z"/>
<path fill="#dcee28" d="M131.23 362.7h6.65v3.58h-6.65zM131.23 410.47h3.62v3.58h-3.62zM122.16 413.55h6.65v3.58h-6.65z"/>
<path fill="#e8281e" d="M116.11 407.4h3.62v3.58h-3.62zM119.14 407.4h3.62v3.58h-3.62zM128.21 407.4h3.62v3.58h-3.62zM131.23 407.4h3.62v3.58h-3.62zM134.26 407.4h3.62v3.58h-3.62z"/>
<path fill="#ed5220" d="M122.16 407.4h3.62v3.58h-3.62z"/>
<path fill="#f06721" d="M125.19 407.4h3.62v3.58h-3.62z"/>
<path fill="#eb3d1f" d="M137.28 407.4h3.62v3.58h-3.62z"/>
<path fill="#f59123" d="M140.31 407.4h3.62v3.58h-3.62z"/>
<path fill="#f0cf26" d="M143.33 407.4h3.62v3.58h-3.62zM125.19 416.62h3.62v3.58h-3.62zM131.23 416.62h3.62v3.58h-3.62z"/>
<path fill="#e11ef0" d="M91.92 410.47h6.65v3.58h-6.65z"/>
</g>
<g shape-rendering="crispEdges">
<rect x="297" y="322" width="175" height="24.6" fill="#2a14f2"/>
<rect x="297" y="350.4" width="175" height="24.6" fill="#2a14f2"/>
<rect x="297" y="378.9" width="175" height="24.6" fill="#2a14f2"/>
<rect x="297" y="407.4" width="175" height="24.6" fill="#2a14f2"/>
<path fill="#2d0af5" d="M297 322h6.63v3.58h-6.63zM420.71 322h3.62v3.58h-3.62zM438.81 322h6.63v3.58h-6.63zM453.9 322h6.63v3.58h-6.63zM468.98 322h3.02v3.58h-3.02zM303.03 325.07h6.63v3.58h-6.63zM312.09 325.07h6.63v3.58h-6.63zM330.19 325.07h3.62v3.58h-3.62zM396.57 325.07h3.62v3.58h-3.62zM420.71 325.07h9.65v3.58h-9.65zM432.78 325.07h3.62v3.58h-3.62zM438.81 325.07h3.62v3.58h-3.62zM468.98 325.07h3.02v3.58h-3.02zM402.6 328.15h6.63v3.58h-6.63zM438.81 328.15h6.63v3.58h-6.63zM453.9 328.15h3.62v3.58h-3.62zM300.02 331.23h3.62v3.58h-3.62zM330.19 331.23h3.62v3.58h-3.62zM423.72 331.23h9.65v3.58h-9.65zM330.19 334.3h3.62v3.58h-3.62zM408.64 334.3h9.65v3.58h-9.65zM432.78 334.3h3.62v3.58h-3.62zM438.81 334.3h3.62v3.58h-3.62zM453.9 334.3h3.62v3.58h-3.62zM330.19 337.38h3.62v3.58h-3.62zM423.72 337.38h3.62v3.58h-3.62zM450.88 337.38h3.62v3.58h-3.62zM462.95 337.38h3.62v3.58h-3.62zM303.03 340.45h3.62v3.58h-3.62zM315.1 340.45h6.63v3.58h-6.63zM432.78 340.45h3.62v3.58h-3.62zM438.81 340.45h3.62v3.58h-3.62zM444.84 340.45h3.62v3.58h-3.62zM462.95 340.45h3.62v3.58h-3.62zM297 343.52h3.62v3.08h-3.62zM318.12 343.52h3.62v3.08h-3.62zM324.16 343.52h3.62v3.08h-3.62zM462.95 343.52h3.62v3.08h-3.62zM297 350.4h3.62v3.58h-3.62zM321.14 350.4h3.62v3.58h-3.62zM327.17 350.4h3.62v3.58h-3.62zM417.69 350.4h3.62v3.58h-3.62zM423.72 350.4h3.62v3.58h-3.62zM441.83 350.4h3.62v3.58h-3.62zM306.05 353.47h6.63v3.58h-6.63zM327.17 353.47h6.63v3.58h-6.63zM396.57 353.47h9.65v3.58h-9.65zM420.71 353.47h3.62v3.58h-3.62zM444.84 353.47h3.62v3.58h-3.62zM456.91 353.47h3.62v3.58h-3.62zM465.97 353.47h3.62v3.58h-3.62zM444.84 356.55h6.63v3.58h-6.63zM408.64 359.62h3.62v3.58h-3.62zM441.83 359.62h3.62v3.58h-3.62zM453.9 359.62h3.62v3.58h-3.62zM312.09 362.7h3.62v3.58h-3.62zM450.88 362.7h3.62v3.58h-3.62zM297 365.77h3.62v3.58h-3.62zM318.12 365.77h9.65v3.58h-9.65zM405.62 365.77h3.62v3.58h-3.62zM423.72 365.77h9.65v3.58h-9.65zM462.95 365.77h3.62v3.58h-3.62zM303.03 368.85h3.62v3.58h-3.62zM399.59 368.85h3.62v3.58h-3.62zM438.81 368.85h3.62v3.58h-3.62zM300.02 371.92h3.62v3.08h-3.62zM330.19 371.92h3.62v3.08h-3.62zM399.59 371.92h3.62v3.08h-3.62zM405.62 371.92h3.62v3.08h-3.62zM444.84 371.92h6.63v3.08h-6.63zM459.93 378.9h3.62v3.58h-3.62zM465.97 378.9h3.62v3.58h-3.62zM441.83 381.97h3.62v3.58h-3.62zM450.88 381.97h6.63v3.58h-6.63zM462.95 381.97h3.62v3.58h-3.62zM468.98 381.97h3.02v3.58h-3.02zM324.16 385.05h3.62v3.58h-3.62zM330.19 385.05h3.62v3.58h-3.62zM420.71 385.05h6.63v3.58h-6.63zM441.83 385.05h3.62v3.58h-3.62zM447.86 385.05h3.62v3.58h-3.62zM453.9 385.05h3.62v3.58h-3.62zM459.93 385.05h9.65v3.58h-9.65zM303.03 388.12h6.63v3.58h-6.63zM315.1 388.12h6.63v3.58h-6.63zM327.17 388.12h3.62v3.58h-3.62zM414.67 388.12h3.62v3.58h-3.62zM468.98 388.12h3.02v3.58h-3.02zM321.14 391.2h3.62v3.58h-3.62zM429.76 391.2h3.62v3.58h-3.62zM450.88 391.2h3.62v3.58h-3.62zM300.02 394.27h3.62v3.58h-3.62zM306.05 394.27h3.62v3.58h-3.62zM402.6 394.27h3.62v3.58h-3.62zM444.84 394.27h3.62v3.58h-3.62zM330.19 397.35h3.62v3.58h-3.62zM417.69 397.35h3.62v3.58h-3.62zM432.78 397.35h3.62v3.58h-3.62zM456.91 397.35h3.62v3.58h-3.62zM300.02 400.42h9.65v3.08h-9.65zM312.09 400.42h3.62v3.08h-3.62zM432.78 400.42h6.63v3.08h-6.63zM447.86 400.42h9.65v3.08h-9.65zM303.03 407.4h3.62v3.58h-3.62zM309.07 407.4h3.62v3.58h-3.62zM321.14 407.4h6.63v3.58h-6.63zM426.74 407.4h3.62v3.58h-3.62zM426.74 410.47h3.62v3.58h-3.62zM453.9 410.47h6.63v3.58h-6.63zM303.03 413.55h6.63v3.58h-6.63zM321.14 413.55h3.62v3.58h-3.62zM450.88 413.55h9.65v3.58h-9.65zM468.98 413.55h3.02v3.58h-3.02zM408.64 416.62h3.62v3.58h-3.62zM438.81 416.62h3.62v3.58h-3.62zM453.9 416.62h3.62v3.58h-3.62zM459.93 416.62h3.62v3.58h-3.62zM297 419.7h3.62v3.58h-3.62zM312.09 419.7h9.65v3.58h-9.65zM327.17 419.7h3.62v3.58h-3.62zM297 422.77h6.63v3.58h-6.63zM315.1 422.77h6.63v3.58h-6.63zM306.05 425.85h3.62v3.58h-3.62zM312.09 425.85h6.63v3.58h-6.63zM450.88 425.85h3.62v3.58h-3.62zM306.05 428.92h3.62v3.08h-3.62zM312.09 428.92h6.63v3.08h-6.63zM321.14 428.92h6.63v3.08h-6.63zM330.19 428.92h3.62v3.08h-3.62zM426.74 428.92h3.62v3.08h-3.62zM447.86 428.92h3.62v3.08h-3.62zM465.97 428.92h3.62v3.08h-3.62z"/>
<path fill="#2510f6" d="M303.03 322h9.65v3.58h-9.65zM330.19 322h3.62v3.58h-3.62zM402.6 322h3.62v3.58h-3.62zM423.72 322h3.62v3.58h-3.62zM435.79 322h3.62v3.58h-3.62zM444.84 322h9.65v3.58h-9.65zM459.93 322h9.65v3.58h-9.65zM309.07 325.07h3.62v3.58h-3.62zM318.12 325.07h6.63v3.58h-6.63zM402.6 325.07h3.62v3.58h-3.62zM414.67 325.07h6.63v3.58h-6.63zM435.79 325.07h3.62v3.58h-3.62zM441.83 325.07h6.63v3.58h-6.63zM453.9 325.07h6.63v3.58h-6.63zM300.02 328.15h3.62v3.58h-3.62zM324.16 328.15h6.63v3.58h-6.63zM399.59 328.15h3.62v3.58h-3.62zM408.64 328.15h3.62v3.58h-3.62zM435.79 328.15h3.62v3.58h-3.62zM444.84 328.15h3.62v3.58h-3.62zM297 331.23h3.62v3.58h-3.62zM306.05 331.23h3.62v3.58h-3.62zM315.1 331.23h9.65v3.58h-9.65zM327.17 331.23h3.62v3.58h-3.62zM414.67 331.23h3.62v3.58h-3.62zM420.71 331.23h3.62v3.58h-3.62zM450.88 331.23h3.62v3.58h-3.62zM462.95 331.23h9.05v3.58h-9.05zM300.02 334.3h6.63v3.58h-6.63zM441.83 334.3h3.62v3.58h-3.62zM447.86 334.3h6.63v3.58h-6.63zM306.05 337.38h6.63v3.58h-6.63zM324.16 337.38h3.62v3.58h-3.62zM399.59 337.38h9.65v3.58h-9.65zM417.69 337.38h3.62v3.58h-3.62zM426.74 337.38h3.62v3.58h-3.62zM441.83 337.38h3.62v3.58h-3.62zM447.86 337.38h3.62v3.58h-3.62zM456.91 337.38h3.62v3.58h-3.62zM306.05 340.45h9.65v3.58h-9.65zM321.14 340.45h9.65v3.58h-9.65zM420.71 340.45h3.62v3.58h-3.62zM429.76 340.45h3.62v3.58h-3.62zM435.79 340.45h3.62v3.58h-3.62zM441.83 340.45h3.62v3.58h-3.62zM447.86 340.45h6.63v3.58h-6.63zM456.91 340.45h3.62v3.58h-3.62zM465.97 340.45h6.03v3.58h-6.03zM300.02 343.52h3.62v3.08h-3.62zM327.17 343.52h6.63v3.08h-6.63zM393.55 343.52h3.62v3.08h-3.62zM408.64 343.52h3.62v3.08h-3.62zM423.72 343.52h3.62v3.08h-3.62zM429.76 343.52h3.62v3.08h-3.62zM300.02 350.4h6.63v3.58h-6.63zM318.12 350.4h3.62v3.58h-3.62zM324.16 350.4h3.62v3.58h-3.62zM330.19 350.4h3.62v3.58h-3.62zM414.67 350.4h3.62v3.58h-3.62zM420.71 350.4h3.62v3.58h-3.62zM450.88 350.4h9.65v3.58h-9.65zM462.95 350.4h3.62v3.58h-3.62zM468.98 350.4h3.02v3.58h-3.02zM312.09 353.47h3.62v3.58h-3.62zM321.14 353.47h6.63v3.58h-6.63zM405.62 353.47h3.62v3.58h-3.62zM417.69 353.47h3.62v3.58h-3.62zM426.74 353.47h3.62v3.58h-3.62zM441.83 353.47h3.62v3.58h-3.62zM459.93 353.47h6.63v3.58h-6.63zM468.98 353.47h3.02v3.58h-3.02zM297 356.55h9.65v3.58h-9.65zM318.12 356.55h3.62v3.58h-3.62zM330.19 356.55h3.62v3.58h-3.62zM408.64 356.55h6.63v3.58h-6.63zM453.9 356.55h6.63v3.58h-6.63zM312.09 359.62h6.63v3.58h-6.63zM396.57 359.62h12.67v3.58h-12.67zM438.81 359.62h3.62v3.58h-3.62zM444.84 359.62h3.62v3.58h-3.62zM450.88 359.62h3.62v3.58h-3.62zM300.02 362.7h3.62v3.58h-3.62zM306.05 362.7h6.63v3.58h-6.63zM321.14 362.7h3.62v3.58h-3.62zM330.19 362.7h3.62v3.58h-3.62zM417.69 362.7h12.67v3.58h-12.67zM441.83 362.7h3.62v3.58h-3.62zM300.02 365.77h3.62v3.58h-3.62zM408.64 365.77h15.69v3.58h-15.69zM438.81 365.77h6.63v3.58h-6.63zM453.9 365.77h9.65v3.58h-9.65zM465.97 365.77h6.03v3.58h-6.03zM300.02 368.85h3.62v3.58h-3.62zM312.09 368.85h3.62v3.58h-3.62zM324.16 368.85h3.62v3.58h-3.62zM396.57 368.85h3.62v3.58h-3.62zM402.6 368.85h3.62v3.58h-3.62zM435.79 368.85h3.62v3.58h-3.62zM453.9 368.85h3.62v3.58h-3.62zM468.98 368.85h3.02v3.58h-3.02zM297 371.92h3.62v3.08h-3.62zM303.03 371.92h3.62v3.08h-3.62zM312.09 371.92h6.63v3.08h-6.63zM327.17 371.92h3.62v3.08h-3.62zM441.83 371.92h3.62v3.08h-3.62zM450.88 371.92h9.65v3.08h-9.65zM297 378.9h6.63v3.58h-6.63zM306.05 378.9h3.62v3.58h-3.62zM327.17 378.9h6.63v3.58h-6.63zM420.71 378.9h6.63v3.58h-6.63zM468.98 378.9h3.02v3.58h-3.02zM300.02 381.97h3.62v3.58h-3.62zM312.09 381.97h3.62v3.58h-3.62zM324.16 381.97h9.65v3.58h-9.65zM423.72 381.97h9.65v3.58h-9.65zM444.84 381.97h6.63v3.58h-6.63zM459.93 381.97h3.62v3.58h-3.62zM303.03 385.05h6.63v3.58h-6.63zM417.69 385.05h3.62v3.58h-3.62zM426.74 385.05h3.62v3.58h-3.62zM444.84 385.05h3.62v3.58h-3.62zM468.98 385.05h3.02v3.58h-3.02zM300.02 388.12h3.62v3.58h-3.62zM309.07 388.12h6.63v3.58h-6.63zM324.16 388.12h3.62v3.58h-3.62zM408.64 388.12h6.63v3.58h-6.63zM417.69 388.12h3.62v3.58h-3.62zM453.9 388.12h3.62v3.58h-3.62zM465.97 388.12h3.62v3.58h-3.62zM312.09 391.2h9.65v3.58h-9.65zM324.16 391.2h9.65v3.58h-9.65zM414.67 391.2h6.63v3.58h-6.63zM432.78 391.2h6.63v3.58h-6.63zM444.84 391.2h3.62v3.58h-3.62zM468.98 391.2h3.02v3.58h-3.02zM297 394.27h3.62v3.58h-3.62zM303.03 394.27h3.62v3.58h-3.62zM309.07 394.27h3.62v3.58h-3.62zM321.14 394.27h12.67v3.58h-12.67zM390.53 394.27h3.62v3.58h-3.62zM399.59 394.27h3.62v3.58h-3.62zM414.67 394.27h6.63v3.58h-6.63zM432.78 394.27h3.62v3.58h-3.62zM438.81 394.27h3.62v3.58h-3.62zM450.88 394.27h6.63v3.58h-6.63zM468.98 394.27h3.02v3.58h-3.02zM297 397.35h3.62v3.58h-3.62zM303.03 397.35h3.62v3.58h-3.62zM309.07 397.35h3.62v3.58h-3.62zM321.14 397.35h9.65v3.58h-9.65zM408.64 397.35h9.65v3.58h-9.65zM420.71 397.35h3.62v3.58h-3.62zM429.76 397.35h3.62v3.58h-3.62zM435.79 397.35h3.62v3.58h-3.62zM441.83 397.35h9.65v3.58h-9.65zM315.1 400.42h3.62v3.08h-3.62zM330.19 400.42h3.62v3.08h-3.62zM399.59 400.42h9.65v3.08h-9.65zM420.71 400.42h9.65v3.08h-9.65zM441.83 400.42h6.63v3.08h-6.63zM456.91 400.42h12.67v3.08h-12.67zM297 407.4h3.62v3.58h-3.62zM423.72 407.4h3.62v3.58h-3.62zM438.81 407.4h6.63v3.58h-6.63zM456.91 407.4h3.62v3.58h-3.62zM306.05 410.47h3.62v3.58h-3.62zM312.09 410.47h9.65v3.58h-9.65zM327.17 410.47h3.62v3.58h-3.62zM435.79 410.47h3.62v3.58h-3.62zM444.84 410.47h9.65v3.58h-9.65zM459.93 410.47h6.63v3.58h-6.63zM468.98 410.47h3.02v3.58h-3.02zM297 413.55h3.62v3.58h-3.62zM318.12 413.55h3.62v3.58h-3.62zM324.16 413.55h3.62v3.58h-3.62zM399.59 413.55h6.63v3.58h-6.63zM414.67 413.55h3.62v3.58h-3.62zM432.78 413.55h6.63v3.58h-6.63zM459.93 413.55h9.65v3.58h-9.65zM321.14 416.62h3.62v3.58h-3.62zM327.17 416.62h6.63v3.58h-6.63zM411.66 416.62h9.65v3.58h-9.65zM426.74 416.62h3.62v3.58h-3.62zM450.88 416.62h3.62v3.58h-3.62zM456.91 416.62h3.62v3.58h-3.62zM300.02 419.7h3.62v3.58h-3.62zM324.16 419.7h3.62v3.58h-3.62zM441.83 419.7h6.63v3.58h-6.63zM450.88 419.7h9.65v3.58h-9.65zM303.03 422.77h3.62v3.58h-3.62zM312.09 422.77h3.62v3.58h-3.62zM321.14 422.77h12.67v3.58h-12.67zM408.64 422.77h6.63v3.58h-6.63zM438.81 422.77h6.63v3.58h-6.63zM459.93 422.77h9.65v3.58h-9.65zM300.02 425.85h6.63v3.58h-6.63zM309.07 425.85h3.62v3.58h-3.62zM318.12 425.85h6.63v3.58h-6.63zM411.66 425.85h3.62v3.58h-3.62zM438.81 425.85h12.67v3.58h-12.67zM453.9 425.85h6.63v3.58h-6.63zM318.12 428.92h3.62v3.08h-3.62zM411.66 428.92h12.67v3.08h-12.67zM429.76 428.92h3.62v3.08h-3.62zM441.83 428.92h6.63v3.08h-6.63z"/>
<path fill="#1d16f7" d="M312.09 322h12.67v3.58h-12.67zM387.52 322h15.69v3.58h-15.69zM405.62 322h6.63v3.58h-6.63zM414.67 322h6.63v3.58h-6.63zM426.74 322h9.65v3.58h-9.65zM324.16 325.07h3.62v3.58h-3.62zM390.53 325.07h6.63v3.58h-6.63zM399.59 325.07h3.62v3.58h-3.62zM408.64 325.07h3.62v3.58h-3.62zM447.86 325.07h6.63v3.58h-6.63zM297 328.15h3.62v3.58h-3.62zM303.03 328.15h12.67v3.58h-12.67zM318.12 328.15h3.62v3.58h-3.62zM411.66 328.15h3.62v3.58h-3.62zM423.72 328.15h6.63v3.58h-6.63zM432.78 328.15h3.62v3.58h-3.62zM447.86 328.15h6.63v3.58h-6.63zM465.97 328.15h3.62v3.58h-3.62zM324.16 331.23h3.62v3.58h-3.62zM399.59 331.23h3.62v3.58h-3.62zM417.69 331.23h3.62v3.58h-3.62zM432.78 331.23h3.62v3.58h-3.62zM444.84 331.23h6.63v3.58h-6.63zM453.9 331.23h9.65v3.58h-9.65zM297 334.3h3.62v3.58h-3.62zM306.05 334.3h6.63v3.58h-6.63zM387.52 334.3h6.63v3.58h-6.63zM405.62 334.3h3.62v3.58h-3.62zM417.69 334.3h6.63v3.58h-6.63zM426.74 334.3h6.63v3.58h-6.63zM444.84 334.3h3.62v3.58h-3.62zM456.91 334.3h3.62v3.58h-3.62zM297 337.38h9.65v3.58h-9.65zM312.09 337.38h3.62v3.58h-3.62zM390.53 337.38h9.65v3.58h-9.65zM408.64 337.38h9.65v3.58h-9.65zM420.71 337.38h3.62v3.58h-3.62zM429.76 337.38h3.62v3.58h-3.62zM438.81 337.38h3.62v3.58h-3.62zM453.9 337.38h3.62v3.58h-3.62zM459.93 337.38h3.62v3.58h-3.62zM300.02 340.45h3.62v3.58h-3.62zM330.19 340.45h3.62v3.58h-3.62zM393.55 340.45h3.62v3.58h-3.62zM459.93 340.45h3.62v3.58h-3.62zM303.03 343.52h3.62v3.08h-3.62zM315.1 343.52h3.62v3.08h-3.62zM378.47 343.52h6.63v3.08h-6.63zM390.53 343.52h3.62v3.08h-3.62zM396.57 343.52h3.62v3.08h-3.62zM405.62 343.52h3.62v3.08h-3.62zM414.67 343.52h3.62v3.08h-3.62zM420.71 343.52h3.62v3.08h-3.62zM426.74 343.52h3.62v3.08h-3.62zM441.83 343.52h9.65v3.08h-9.65zM456.91 343.52h6.63v3.08h-6.63zM465.97 343.52h3.62v3.08h-3.62zM306.05 350.4h3.62v3.58h-3.62zM315.1 350.4h3.62v3.58h-3.62zM402.6 350.4h3.62v3.58h-3.62zM444.84 350.4h3.62v3.58h-3.62zM459.93 350.4h3.62v3.58h-3.62zM465.97 350.4h3.62v3.58h-3.62zM297 353.47h9.65v3.58h-9.65zM390.53 353.47h6.63v3.58h-6.63zM408.64 353.47h6.63v3.58h-6.63zM429.76 353.47h3.62v3.58h-3.62zM306.05 356.55h3.62v3.58h-3.62zM312.09 356.55h6.63v3.58h-6.63zM321.14 356.55h3.62v3.58h-3.62zM327.17 356.55h3.62v3.58h-3.62zM420.71 356.55h6.63v3.58h-6.63zM435.79 356.55h3.62v3.58h-3.62zM441.83 356.55h3.62v3.58h-3.62zM303.03 359.62h9.65v3.58h-9.65zM318.12 359.62h3.62v3.58h-3.62zM330.19 359.62h3.62v3.58h-3.62zM393.55 359.62h3.62v3.58h-3.62zM411.66 359.62h9.65v3.58h-9.65zM423.72 359.62h6.63v3.58h-6.63zM447.86 359.62h3.62v3.58h-3.62zM297 362.7h3.62v3.58h-3.62zM303.03 362.7h3.62v3.58h-3.62zM324.16 362.7h6.63v3.58h-6.63zM390.53 362.7h3.62v3.58h-3.62zM402.6 362.7h3.62v3.58h-3.62zM414.67 362.7h3.62v3.58h-3.62zM429.76 362.7h6.63v3.58h-6.63zM438.81 362.7h3.62v3.58h-3.62zM453.9 362.7h6.63v3.58h-6.63zM303.03 365.77h3.62v3.58h-3.62zM399.59 365.77h6.63v3.58h-6.63zM447.86 365.77h6.63v3.58h-6.63zM327.17 368.85h6.63v3.58h-6.63zM387.52 368.85h9.65v3.58h-9.65zM405.62 368.85h6.63v3.58h-6.63zM426.74 368.85h3.62v3.58h-3.62zM432.78 368.85h3.62v3.58h-3.62zM456.91 368.85h12.67v3.58h-12.67zM306.05 371.92h6.63v3.08h-6.63zM318.12 371.92h3.62v3.08h-3.62zM324.16 371.92h3.62v3.08h-3.62zM408.64 371.92h3.62v3.08h-3.62zM423.72 371.92h3.62v3.08h-3.62zM438.81 371.92h3.62v3.08h-3.62zM468.98 371.92h3.02v3.08h-3.02zM303.03 378.9h3.62v3.58h-3.62zM309.07 378.9h6.63v3.58h-6.63zM324.16 378.9h3.62v3.58h-3.62zM411.66 378.9h3.62v3.58h-3.62zM417.69 378.9h3.62v3.58h-3.62zM441.83 378.9h6.63v3.58h-6.63zM450.88 378.9h6.63v3.58h-6.63zM297 381.97h3.62v3.58h-3.62zM315.1 381.97h3.62v3.58h-3.62zM321.14 381.97h3.62v3.58h-3.62zM417.69 381.97h6.63v3.58h-6.63zM465.97 381.97h3.62v3.58h-3.62zM300.02 385.05h3.62v3.58h-3.62zM309.07 385.05h3.62v3.58h-3.62zM321.14 385.05h3.62v3.58h-3.62zM414.67 385.05h3.62v3.58h-3.62zM429.76 385.05h12.67v3.58h-12.67zM297 388.12h3.62v3.58h-3.62zM330.19 388.12h3.62v3.58h-3.62zM402.6 388.12h6.63v3.58h-6.63zM420.71 388.12h12.67v3.58h-12.67zM435.79 388.12h3.62v3.58h-3.62zM441.83 388.12h3.62v3.58h-3.62zM447.86 388.12h6.63v3.58h-6.63zM456.91 388.12h9.65v3.58h-9.65zM411.66 391.2h3.62v3.58h-3.62zM420.71 391.2h9.65v3.58h-9.65zM438.81 391.2h6.63v3.58h-6.63zM312.09 394.27h9.65v3.58h-9.65zM387.52 394.27h3.62v3.58h-3.62zM393.55 394.27h3.62v3.58h-3.62zM411.66 394.27h3.62v3.58h-3.62zM420.71 394.27h3.62v3.58h-3.62zM429.76 394.27h3.62v3.58h-3.62zM456.91 394.27h3.62v3.58h-3.62zM462.95 394.27h6.63v3.58h-6.63zM300.02 397.35h3.62v3.58h-3.62zM306.05 397.35h3.62v3.58h-3.62zM312.09 397.35h6.63v3.58h-6.63zM387.52 397.35h6.63v3.58h-6.63zM396.57 397.35h12.67v3.58h-12.67zM423.72 397.35h6.63v3.58h-6.63zM438.81 397.35h3.62v3.58h-3.62zM450.88 397.35h3.62v3.58h-3.62zM462.95 397.35h3.62v3.58h-3.62zM297 400.42h3.62v3.08h-3.62zM318.12 400.42h9.65v3.08h-9.65zM408.64 400.42h3.62v3.08h-3.62zM417.69 400.42h3.62v3.08h-3.62zM438.81 400.42h3.62v3.08h-3.62zM468.98 400.42h3.02v3.08h-3.02zM312.09 407.4h9.65v3.58h-9.65zM327.17 407.4h6.63v3.58h-6.63zM429.76 407.4h9.65v3.58h-9.65zM444.84 407.4h3.62v3.58h-3.62zM450.88 407.4h6.63v3.58h-6.63zM459.93 407.4h9.65v3.58h-9.65zM300.02 410.47h3.62v3.58h-3.62zM309.07 410.47h3.62v3.58h-3.62zM321.14 410.47h3.62v3.58h-3.62zM405.62 410.47h21.72v3.58h-21.72zM441.83 410.47h3.62v3.58h-3.62zM465.97 410.47h3.62v3.58h-3.62zM309.07 413.55h9.65v3.58h-9.65zM327.17 413.55h6.63v3.58h-6.63zM381.48 413.55h18.7v3.58h-18.7zM417.69 413.55h3.62v3.58h-3.62zM438.81 413.55h3.62v3.58h-3.62zM444.84 413.55h6.63v3.58h-6.63zM297 416.62h6.63v3.58h-6.63zM318.12 416.62h3.62v3.58h-3.62zM405.62 416.62h3.62v3.58h-3.62zM420.71 416.62h6.63v3.58h-6.63zM303.03 419.7h9.65v3.58h-9.65zM321.14 419.7h3.62v3.58h-3.62zM399.59 419.7h3.62v3.58h-3.62zM420.71 419.7h6.63v3.58h-6.63zM438.81 419.7h3.62v3.58h-3.62zM447.86 419.7h3.62v3.58h-3.62zM459.93 419.7h6.63v3.58h-6.63zM306.05 422.77h6.63v3.58h-6.63zM420.71 422.77h9.65v3.58h-9.65zM435.79 422.77h3.62v3.58h-3.62zM453.9 422.77h3.62v3.58h-3.62zM468.98 422.77h3.02v3.58h-3.02zM327.17 425.85h3.62v3.58h-3.62zM405.62 425.85h6.63v3.58h-6.63zM426.74 425.85h3.62v3.58h-3.62zM435.79 425.85h3.62v3.58h-3.62zM459.93 425.85h3.62v3.58h-3.62zM297 428.92h3.62v3.08h-3.62zM303.03 428.92h3.62v3.08h-3.62zM384.5 428.92h3.62v3.08h-3.62zM405.62 428.92h6.63v3.08h-6.63zM423.72 428.92h3.62v3.08h-3.62zM432.78 428.92h3.62v3.08h-3.62zM456.91 428.92h3.62v3.08h-3.62zM462.95 428.92h3.62v3.08h-3.62z"/>
<path fill="#1f27f8" d="M324.16 322h6.63v3.58h-6.63zM384.5 322h3.62v3.58h-3.62zM411.66 322h3.62v3.58h-3.62zM333.21 325.07h3.62v3.58h-3.62zM378.47 325.07h9.65v3.58h-9.65zM405.62 325.07h3.62v3.58h-3.62zM411.66 325.07h3.62v3.58h-3.62zM315.1 328.15h3.62v3.58h-3.62zM321.14 328.15h3.62v3.58h-3.62zM396.57 328.15h3.62v3.58h-3.62zM414.67 328.15h9.65v3.58h-9.65zM429.76 328.15h3.62v3.58h-3.62zM468.98 328.15h3.02v3.58h-3.02zM309.07 331.23h3.62v3.58h-3.62zM375.45 331.23h6.63v3.58h-6.63zM396.57 331.23h3.62v3.58h-3.62zM435.79 331.23h3.62v3.58h-3.62zM312.09 334.3h3.62v3.58h-3.62zM318.12 334.3h12.67v3.58h-12.67zM393.55 334.3h3.62v3.58h-3.62zM402.6 334.3h3.62v3.58h-3.62zM459.93 334.3h3.62v3.58h-3.62zM465.97 334.3h6.03v3.58h-6.03zM321.14 337.38h3.62v3.58h-3.62zM387.52 337.38h3.62v3.58h-3.62zM297 340.45h3.62v3.58h-3.62zM387.52 340.45h6.63v3.58h-6.63zM453.9 340.45h3.62v3.58h-3.62zM306.05 343.52h3.62v3.08h-3.62zM333.21 343.52h3.62v3.08h-3.62zM387.52 343.52h3.62v3.08h-3.62zM399.59 343.52h6.63v3.08h-6.63zM411.66 343.52h3.62v3.08h-3.62zM417.69 343.52h3.62v3.08h-3.62zM432.78 343.52h9.65v3.08h-9.65zM450.88 343.52h3.62v3.08h-3.62zM468.98 343.52h3.02v3.08h-3.02zM309.07 350.4h6.63v3.58h-6.63zM399.59 350.4h3.62v3.58h-3.62zM408.64 350.4h6.63v3.58h-6.63zM447.86 350.4h3.62v3.58h-3.62zM315.1 353.47h3.62v3.58h-3.62zM333.21 353.47h3.62v3.58h-3.62zM414.67 353.47h3.62v3.58h-3.62zM432.78 353.47h9.65v3.58h-9.65zM309.07 356.55h3.62v3.58h-3.62zM324.16 356.55h3.62v3.58h-3.62zM405.62 356.55h3.62v3.58h-3.62zM414.67 356.55h6.63v3.58h-6.63zM438.81 356.55h3.62v3.58h-3.62zM297 359.62h6.63v3.58h-6.63zM321.14 359.62h9.65v3.58h-9.65zM387.52 359.62h6.63v3.58h-6.63zM429.76 359.62h3.62v3.58h-3.62zM387.52 362.7h3.62v3.58h-3.62zM393.55 362.7h3.62v3.58h-3.62zM399.59 362.7h3.62v3.58h-3.62zM405.62 362.7h3.62v3.58h-3.62zM411.66 362.7h3.62v3.58h-3.62zM435.79 362.7h3.62v3.58h-3.62zM459.93 362.7h3.62v3.58h-3.62zM465.97 362.7h3.62v3.58h-3.62zM306.05 365.77h3.62v3.58h-3.62zM312.09 365.77h6.63v3.58h-6.63zM327.17 365.77h6.63v3.58h-6.63zM387.52 365.77h3.62v3.58h-3.62zM393.55 365.77h3.62v3.58h-3.62zM444.84 365.77h3.62v3.58h-3.62zM297 368.85h3.62v3.58h-3.62zM315.1 368.85h9.65v3.58h-9.65zM411.66 368.85h3.62v3.58h-3.62zM420.71 368.85h6.63v3.58h-6.63zM429.76 368.85h3.62v3.58h-3.62zM447.86 368.85h6.63v3.58h-6.63zM321.14 371.92h3.62v3.08h-3.62zM396.57 371.92h3.62v3.08h-3.62zM459.93 371.92h3.62v3.08h-3.62zM465.97 371.92h3.62v3.08h-3.62zM315.1 378.9h3.62v3.58h-3.62zM321.14 378.9h3.62v3.58h-3.62zM387.52 378.9h9.65v3.58h-9.65zM414.67 378.9h3.62v3.58h-3.62zM426.74 378.9h3.62v3.58h-3.62zM438.81 378.9h3.62v3.58h-3.62zM447.86 378.9h3.62v3.58h-3.62zM318.12 381.97h3.62v3.58h-3.62zM384.5 381.97h9.65v3.58h-9.65zM399.59 381.97h9.65v3.58h-9.65zM411.66 381.97h6.63v3.58h-6.63zM297 385.05h3.62v3.58h-3.62zM312.09 385.05h3.62v3.58h-3.62zM318.12 385.05h3.62v3.58h-3.62zM399.59 385.05h3.62v3.58h-3.62zM411.66 385.05h3.62v3.58h-3.62zM387.52 388.12h6.63v3.58h-6.63zM432.78 388.12h3.62v3.58h-3.62zM438.81 388.12h3.62v3.58h-3.62zM408.64 391.2h3.62v3.58h-3.62zM375.45 394.27h3.62v3.58h-3.62zM396.57 394.27h3.62v3.58h-3.62zM423.72 394.27h6.63v3.58h-6.63zM459.93 394.27h3.62v3.58h-3.62zM318.12 397.35h3.62v3.58h-3.62zM381.48 397.35h6.63v3.58h-6.63zM393.55 397.35h3.62v3.58h-3.62zM453.9 397.35h3.62v3.58h-3.62zM327.17 400.42h3.62v3.08h-3.62zM333.21 400.42h3.62v3.08h-3.62zM393.55 400.42h6.63v3.08h-6.63zM411.66 400.42h6.63v3.08h-6.63zM390.53 407.4h12.67v3.58h-12.67zM411.66 407.4h6.63v3.58h-6.63zM420.71 407.4h3.62v3.58h-3.62zM468.98 407.4h3.02v3.58h-3.02zM297 410.47h3.62v3.58h-3.62zM303.03 410.47h3.62v3.58h-3.62zM324.16 410.47h3.62v3.58h-3.62zM387.52 410.47h18.7v3.58h-18.7zM438.81 410.47h3.62v3.58h-3.62zM378.47 413.55h3.62v3.58h-3.62zM411.66 413.55h3.62v3.58h-3.62zM420.71 413.55h3.62v3.58h-3.62zM429.76 413.55h3.62v3.58h-3.62zM441.83 413.55h3.62v3.58h-3.62zM303.03 416.62h6.63v3.58h-6.63zM402.6 416.62h3.62v3.58h-3.62zM441.83 416.62h3.62v3.58h-3.62zM447.86 416.62h3.62v3.58h-3.62zM393.55 419.7h6.63v3.58h-6.63zM402.6 419.7h6.63v3.58h-6.63zM414.67 419.7h3.62v3.58h-3.62zM426.74 419.7h3.62v3.58h-3.62zM435.79 419.7h3.62v3.58h-3.62zM387.52 422.77h15.69v3.58h-15.69zM405.62 422.77h3.62v3.58h-3.62zM414.67 422.77h3.62v3.58h-3.62zM444.84 422.77h3.62v3.58h-3.62zM456.91 422.77h3.62v3.58h-3.62zM297 425.85h3.62v3.58h-3.62zM324.16 425.85h3.62v3.58h-3.62zM387.52 425.85h9.65v3.58h-9.65zM402.6 425.85h3.62v3.58h-3.62zM417.69 425.85h3.62v3.58h-3.62zM429.76 425.85h6.63v3.58h-6.63zM462.95 425.85h9.05v3.58h-9.05zM300.02 428.92h3.62v3.08h-3.62zM381.48 428.92h3.62v3.08h-3.62zM396.57 428.92h9.65v3.08h-9.65zM435.79 428.92h6.63v3.08h-6.63zM459.93 428.92h3.62v3.08h-3.62z"/>
<path fill="#417df8" d="M333.21 322h3.62v3.58h-3.62zM378.47 322h3.62v3.58h-3.62zM372.43 325.07h3.62v3.58h-3.62zM378.47 328.15h6.63v3.58h-6.63zM402.6 331.23h3.62v3.58h-3.62zM372.43 337.38h9.65v3.58h-9.65zM465.97 337.38h3.62v3.58h-3.62zM372.43 340.45h9.65v3.58h-9.65zM384.5 340.45h3.62v3.58h-3.62zM375.45 350.4h3.62v3.58h-3.62zM390.53 350.4h3.62v3.58h-3.62zM375.45 353.47h3.62v3.58h-3.62zM372.43 356.55h3.62v3.58h-3.62zM378.47 356.55h9.65v3.58h-9.65zM399.59 356.55h3.62v3.58h-3.62zM372.43 359.62h3.62v3.58h-3.62zM369.41 362.7h3.62v3.58h-3.62zM375.45 362.7h3.62v3.58h-3.62zM444.84 362.7h3.62v3.58h-3.62zM462.95 362.7h3.62v3.58h-3.62zM375.45 368.85h3.62v3.58h-3.62zM384.5 371.92h9.65v3.08h-9.65zM435.79 371.92h3.62v3.08h-3.62zM381.48 378.9h3.62v3.58h-3.62zM408.64 378.9h3.62v3.58h-3.62zM375.45 381.97h3.62v3.58h-3.62zM384.5 385.05h3.62v3.58h-3.62zM372.43 388.12h3.62v3.58h-3.62zM378.47 388.12h3.62v3.58h-3.62zM384.5 391.2h3.62v3.58h-3.62zM390.53 391.2h6.63v3.58h-6.63zM369.41 394.27h3.62v3.58h-3.62zM363.38 397.35h3.62v3.58h-3.62zM369.41 397.35h3.62v3.58h-3.62zM465.97 397.35h6.03v3.58h-6.03zM363.38 400.42h3.62v3.08h-3.62zM378.47 410.47h3.62v3.58h-3.62zM375.45 413.55h3.62v3.58h-3.62zM423.72 413.55h3.62v3.58h-3.62zM333.21 416.62h3.62v3.58h-3.62zM378.47 416.62h3.62v3.58h-3.62zM408.64 419.7h6.63v3.58h-6.63zM369.41 422.77h3.62v3.58h-3.62zM381.48 422.77h3.62v3.58h-3.62zM369.41 425.85h3.62v3.58h-3.62zM381.48 425.85h3.62v3.58h-3.62z"/>
<path fill="#6ff9e5" d="M336.22 322h6.63v3.58h-6.63zM348.29 322h3.62v3.58h-3.62zM342.26 328.15h15.69v3.58h-15.69zM351.31 331.23h6.63v3.58h-6.63zM336.22 334.3h6.63v3.58h-6.63zM354.33 334.3h3.62v3.58h-3.62zM342.26 340.45h3.62v3.58h-3.62zM339.24 353.47h3.62v3.58h-3.62zM336.22 359.62h6.63v3.58h-6.63zM339.24 365.77h9.65v3.58h-9.65zM351.31 365.77h3.62v3.58h-3.62zM345.28 368.85h3.62v3.58h-3.62zM342.26 378.9h3.62v3.58h-3.62zM348.29 381.97h3.62v3.58h-3.62zM360.36 391.2h3.62v3.58h-3.62zM345.28 394.27h3.62v3.58h-3.62zM360.36 407.4h6.63v3.58h-6.63zM339.24 410.47h3.62v3.58h-3.62zM345.28 410.47h3.62v3.58h-3.62zM336.22 413.55h18.7v3.58h-18.7zM336.22 416.62h9.65v3.58h-9.65zM351.31 419.7h3.62v3.58h-3.62zM357.34 419.7h6.63v3.58h-6.63zM342.26 422.77h3.62v3.58h-3.62zM336.22 425.85h3.62v3.58h-3.62zM351.31 428.92h3.62v3.08h-3.62zM360.36 428.92h3.62v3.08h-3.62z"/>
<path fill="#69fad2" d="M342.26 322h6.63v3.58h-6.63zM345.28 334.3h3.62v3.58h-3.62zM351.31 334.3h3.62v3.58h-3.62zM336.22 340.45h6.63v3.58h-6.63zM345.28 340.45h6.63v3.58h-6.63zM354.33 340.45h3.62v3.58h-3.62zM345.28 350.4h3.62v3.58h-3.62zM351.31 353.47h3.62v3.58h-3.62zM336.22 365.77h3.62v3.58h-3.62zM354.33 368.85h3.62v3.58h-3.62zM363.38 371.92h6.63v3.08h-6.63zM360.36 385.05h3.62v3.58h-3.62zM345.28 391.2h6.63v3.58h-6.63zM357.34 391.2h3.62v3.58h-3.62zM336.22 394.27h6.63v3.58h-6.63zM348.29 394.27h3.62v3.58h-3.62zM336.22 407.4h3.62v3.58h-3.62zM345.28 407.4h3.62v3.58h-3.62zM357.34 407.4h3.62v3.58h-3.62zM342.26 410.47h3.62v3.58h-3.62zM336.22 419.7h3.62v3.58h-3.62zM348.29 419.7h3.62v3.58h-3.62zM339.24 428.92h3.62v3.08h-3.62zM354.33 428.92h6.63v3.08h-6.63z"/>
<path fill="#70f6ee" d="M351.31 322h3.62v3.58h-3.62zM339.24 328.15h3.62v3.58h-3.62zM357.34 328.15h3.62v3.58h-3.62zM336.22 331.23h9.65v3.58h-9.65zM357.34 331.23h3.62v3.58h-3.62zM357.34 334.3h3.62v3.58h-3.62zM342.26 337.38h3.62v3.58h-3.62zM336.22 350.4h3.62v3.58h-3.62zM342.26 350.4h3.62v3.58h-3.62zM354.33 350.4h3.62v3.58h-3.62zM354.33 353.47h6.63v3.58h-6.63zM351.31 359.62h3.62v3.58h-3.62zM348.29 365.77h3.62v3.58h-3.62zM357.34 368.85h3.62v3.58h-3.62zM336.22 378.9h6.63v3.58h-6.63zM345.28 378.9h3.62v3.58h-3.62zM345.28 381.97h3.62v3.58h-3.62zM351.31 381.97h3.62v3.58h-3.62zM363.38 385.05h3.62v3.58h-3.62zM345.28 388.12h3.62v3.58h-3.62zM342.26 394.27h3.62v3.58h-3.62zM354.33 394.27h3.62v3.58h-3.62zM339.24 407.4h6.63v3.58h-6.63zM366.4 407.4h3.62v3.58h-3.62zM336.22 410.47h3.62v3.58h-3.62zM348.29 410.47h6.63v3.58h-6.63zM354.33 413.55h3.62v3.58h-3.62zM345.28 416.62h3.62v3.58h-3.62zM345.28 422.77h3.62v3.58h-3.62zM351.31 422.77h3.62v3.58h-3.62zM348.29 425.85h3.62v3.58h-3.62zM354.33 425.85h3.62v3.58h-3.62zM360.36 425.85h3.62v3.58h-3.62zM342.26 428.92h6.63v3.08h-6.63z"/>
<path fill="#6de7fa" d="M354.33 322h6.63v3.58h-6.63zM339.24 325.07h9.65v3.58h-9.65zM360.36 325.07h6.63v3.58h-6.63zM360.36 328.15h3.62v3.58h-3.62zM366.4 328.15h3.62v3.58h-3.62zM384.5 328.15h3.62v3.58h-3.62zM360.36 334.3h3.62v3.58h-3.62zM348.29 337.38h3.62v3.58h-3.62zM351.31 343.52h9.65v3.08h-9.65zM357.34 350.4h3.62v3.58h-3.62zM342.26 356.55h9.65v3.58h-9.65zM345.28 359.62h6.63v3.58h-6.63zM360.36 359.62h3.62v3.58h-3.62zM339.24 362.7h12.67v3.58h-12.67zM354.33 362.7h3.62v3.58h-3.62zM360.36 365.77h6.63v3.58h-6.63zM372.43 371.92h3.62v3.08h-3.62zM357.34 378.9h3.62v3.58h-3.62zM354.33 381.97h3.62v3.58h-3.62zM363.38 381.97h3.62v3.58h-3.62zM366.4 385.05h6.63v3.58h-6.63zM387.52 385.05h6.63v3.58h-6.63zM354.33 388.12h9.65v3.58h-9.65zM366.4 391.2h3.62v3.58h-3.62zM378.47 391.2h6.63v3.58h-6.63zM357.34 394.27h3.62v3.58h-3.62zM348.29 397.35h3.62v3.58h-3.62zM357.34 397.35h3.62v3.58h-3.62zM342.26 400.42h9.65v3.08h-9.65zM369.41 407.4h3.62v3.58h-3.62zM360.36 410.47h3.62v3.58h-3.62zM366.4 410.47h3.62v3.58h-3.62zM351.31 416.62h3.62v3.58h-3.62zM363.38 416.62h3.62v3.58h-3.62zM375.45 419.7h3.62v3.58h-3.62zM345.28 425.85h3.62v3.58h-3.62zM357.34 425.85h3.62v3.58h-3.62zM378.47 425.85h3.62v3.58h-3.62zM369.41 428.92h6.63v3.08h-6.63z"/>
<path fill="#55b9fa" d="M360.36 322h6.63v3.58h-6.63zM369.41 328.15h3.62v3.58h-3.62zM363.38 331.23h9.65v3.58h-9.65zM366.4 334.3h6.63v3.58h-6.63zM375.45 334.3h6.63v3.58h-6.63zM354.33 337.38h6.63v3.58h-6.63zM363.38 337.38h3.62v3.58h-3.62zM360.36 340.45h3.62v3.58h-3.62zM366.4 340.45h3.62v3.58h-3.62zM339.24 343.52h6.63v3.08h-6.63zM348.29 343.52h3.62v3.08h-3.62zM372.43 350.4h3.62v3.58h-3.62zM366.4 353.47h9.65v3.58h-9.65zM384.5 353.47h3.62v3.58h-3.62zM360.36 356.55h3.62v3.58h-3.62zM369.41 356.55h3.62v3.58h-3.62zM363.38 359.62h3.62v3.58h-3.62zM363.38 362.7h3.62v3.58h-3.62zM468.98 362.7h3.02v3.58h-3.02zM372.43 365.77h3.62v3.58h-3.62zM333.21 368.85h3.62v3.58h-3.62zM363.38 368.85h3.62v3.58h-3.62zM378.47 368.85h3.62v3.58h-3.62zM417.69 371.92h3.62v3.08h-3.62zM429.76 371.92h6.63v3.08h-6.63zM360.36 378.9h3.62v3.58h-3.62zM366.4 378.9h6.63v3.58h-6.63zM402.6 378.9h3.62v3.58h-3.62zM357.34 381.97h3.62v3.58h-3.62zM375.45 385.05h3.62v3.58h-3.62zM363.38 388.12h3.62v3.58h-3.62zM372.43 391.2h3.62v3.58h-3.62zM366.4 394.27h3.62v3.58h-3.62zM336.22 400.42h3.62v3.08h-3.62zM354.33 400.42h6.63v3.08h-6.63zM333.21 407.4h3.62v3.58h-3.62zM372.43 407.4h3.62v3.58h-3.62zM369.41 413.55h3.62v3.58h-3.62zM369.41 416.62h6.63v3.58h-6.63zM381.48 419.7h3.62v3.58h-3.62zM360.36 422.77h9.65v3.58h-9.65zM375.45 428.92h3.62v3.08h-3.62z"/>
<path fill="#4b9bf9" d="M366.4 322h3.62v3.58h-3.62zM369.41 325.07h3.62v3.58h-3.62zM372.43 328.15h3.62v3.58h-3.62zM405.62 331.23h3.62v3.58h-3.62zM372.43 334.3h3.62v3.58h-3.62zM381.48 334.3h3.62v3.58h-3.62zM360.36 337.38h3.62v3.58h-3.62zM366.4 337.38h6.63v3.58h-6.63zM333.21 340.45h3.62v3.58h-3.62zM402.6 340.45h3.62v3.58h-3.62zM336.22 343.52h3.62v3.08h-3.62zM363.38 343.52h3.62v3.08h-3.62zM378.47 350.4h9.65v3.58h-9.65zM387.52 353.47h3.62v3.58h-3.62zM357.34 356.55h3.62v3.58h-3.62zM363.38 356.55h3.62v3.58h-3.62zM333.21 359.62h3.62v3.58h-3.62zM366.4 359.62h6.63v3.58h-6.63zM366.4 362.7h3.62v3.58h-3.62zM372.43 362.7h3.62v3.58h-3.62zM333.21 365.77h3.62v3.58h-3.62zM375.45 365.77h6.63v3.58h-6.63zM369.41 368.85h6.63v3.58h-6.63zM375.45 371.92h6.63v3.08h-6.63zM420.71 371.92h3.62v3.08h-3.62zM426.74 371.92h3.62v3.08h-3.62zM363.38 378.9h3.62v3.58h-3.62zM372.43 378.9h9.65v3.58h-9.65zM369.41 381.97h3.62v3.58h-3.62zM333.21 385.05h3.62v3.58h-3.62zM378.47 385.05h6.63v3.58h-6.63zM366.4 388.12h3.62v3.58h-3.62zM333.21 391.2h3.62v3.58h-3.62zM396.57 391.2h6.63v3.58h-6.63zM456.91 391.2h3.62v3.58h-3.62zM333.21 394.27h3.62v3.58h-3.62zM408.64 394.27h3.62v3.58h-3.62zM360.36 397.35h3.62v3.58h-3.62zM360.36 400.42h3.62v3.08h-3.62zM375.45 407.4h6.63v3.58h-6.63zM384.5 407.4h3.62v3.58h-3.62zM375.45 410.47h3.62v3.58h-3.62zM333.21 413.55h3.62v3.58h-3.62zM366.4 413.55h3.62v3.58h-3.62zM372.43 413.55h3.62v3.58h-3.62zM375.45 416.62h3.62v3.58h-3.62zM384.5 419.7h3.62v3.58h-3.62zM378.47 422.77h3.62v3.58h-3.62zM333.21 425.85h3.62v3.58h-3.62zM333.21 428.92h3.62v3.08h-3.62z"/>
<path fill="#3660f8" d="M369.41 322h9.65v3.58h-9.65zM381.48 322h3.62v3.58h-3.62zM375.45 325.07h3.62v3.58h-3.62zM375.45 328.15h3.62v3.58h-3.62zM393.55 328.15h3.62v3.58h-3.62zM462.95 328.15h3.62v3.58h-3.62zM333.21 331.23h3.62v3.58h-3.62zM372.43 331.23h3.62v3.58h-3.62zM384.5 331.23h3.62v3.58h-3.62zM390.53 331.23h3.62v3.58h-3.62zM408.64 331.23h6.63v3.58h-6.63zM381.48 337.38h3.62v3.58h-3.62zM435.79 337.38h3.62v3.58h-3.62zM468.98 337.38h3.02v3.58h-3.02zM381.48 340.45h3.62v3.58h-3.62zM399.59 340.45h3.62v3.58h-3.62zM405.62 340.45h3.62v3.58h-3.62zM366.4 343.52h3.62v3.08h-3.62zM372.43 343.52h3.62v3.08h-3.62zM387.52 350.4h3.62v3.58h-3.62zM393.55 350.4h6.63v3.58h-6.63zM426.74 350.4h15.69v3.58h-15.69zM378.47 353.47h6.63v3.58h-6.63zM375.45 356.55h3.62v3.58h-3.62zM402.6 356.55h3.62v3.58h-3.62zM432.78 356.55h3.62v3.58h-3.62zM459.93 356.55h3.62v3.58h-3.62zM465.97 356.55h3.62v3.58h-3.62zM375.45 359.62h9.65v3.58h-9.65zM462.95 359.62h6.63v3.58h-6.63zM333.21 362.7h3.62v3.58h-3.62zM378.47 362.7h3.62v3.58h-3.62zM447.86 362.7h3.62v3.58h-3.62zM381.48 365.77h6.63v3.58h-6.63zM381.48 368.85h3.62v3.58h-3.62zM441.83 368.85h3.62v3.58h-3.62zM381.48 371.92h3.62v3.08h-3.62zM333.21 378.9h3.62v3.58h-3.62zM396.57 378.9h3.62v3.58h-3.62zM405.62 378.9h3.62v3.58h-3.62zM432.78 378.9h3.62v3.58h-3.62zM333.21 381.97h3.62v3.58h-3.62zM372.43 381.97h3.62v3.58h-3.62zM378.47 381.97h6.63v3.58h-6.63zM393.55 381.97h3.62v3.58h-3.62zM333.21 388.12h3.62v3.58h-3.62zM369.41 388.12h3.62v3.58h-3.62zM375.45 388.12h3.62v3.58h-3.62zM381.48 388.12h6.63v3.58h-6.63zM402.6 391.2h3.62v3.58h-3.62zM453.9 391.2h3.62v3.58h-3.62zM459.93 391.2h6.63v3.58h-6.63zM381.48 394.27h3.62v3.58h-3.62zM405.62 394.27h3.62v3.58h-3.62zM366.4 397.35h3.62v3.58h-3.62zM372.43 397.35h3.62v3.58h-3.62zM366.4 400.42h15.69v3.08h-15.69zM402.6 407.4h3.62v3.58h-3.62zM381.48 410.47h3.62v3.58h-3.62zM426.74 413.55h3.62v3.58h-3.62zM381.48 416.62h6.63v3.58h-6.63zM390.53 416.62h12.67v3.58h-12.67zM333.21 419.7h3.62v3.58h-3.62zM387.52 419.7h3.62v3.58h-3.62zM432.78 419.7h3.62v3.58h-3.62zM465.97 419.7h3.62v3.58h-3.62zM372.43 422.77h6.63v3.58h-6.63zM429.76 422.77h3.62v3.58h-3.62zM414.67 425.85h3.62v3.58h-3.62zM423.72 425.85h3.62v3.58h-3.62z"/>
<path fill="#510cf3" d="M297 325.07h6.63v3.58h-6.63zM327.17 325.07h3.62v3.58h-3.62zM429.76 325.07h3.62v3.58h-3.62zM459.93 325.07h3.62v3.58h-3.62zM330.19 328.15h3.62v3.58h-3.62zM435.79 334.3h3.62v3.58h-3.62zM327.17 337.38h3.62v3.58h-3.62zM444.84 337.38h3.62v3.58h-3.62zM423.72 340.45h6.63v3.58h-6.63zM423.72 353.47h3.62v3.58h-3.62zM447.86 353.47h9.65v3.58h-9.65zM450.88 356.55h3.62v3.58h-3.62zM420.71 359.62h3.62v3.58h-3.62zM456.91 359.62h3.62v3.58h-3.62zM315.1 362.7h6.63v3.58h-6.63zM432.78 365.77h6.63v3.58h-6.63zM309.07 368.85h3.62v3.58h-3.62zM402.6 371.92h3.62v3.08h-3.62zM456.91 378.9h3.62v3.58h-3.62zM462.95 378.9h3.62v3.58h-3.62zM432.78 381.97h9.65v3.58h-9.65zM456.91 381.97h3.62v3.58h-3.62zM327.17 385.05h3.62v3.58h-3.62zM450.88 385.05h3.62v3.58h-3.62zM456.91 385.05h3.62v3.58h-3.62zM297 391.2h6.63v3.58h-6.63zM309.07 391.2h3.62v3.58h-3.62zM447.86 391.2h3.62v3.58h-3.62zM465.97 391.2h3.62v3.58h-3.62zM435.79 394.27h3.62v3.58h-3.62zM441.83 394.27h3.62v3.58h-3.62zM447.86 394.27h3.62v3.58h-3.62zM459.93 397.35h3.62v3.58h-3.62zM309.07 400.42h3.62v3.08h-3.62zM429.76 400.42h3.62v3.08h-3.62zM300.02 407.4h3.62v3.58h-3.62zM306.05 407.4h3.62v3.58h-3.62zM330.19 410.47h3.62v3.58h-3.62zM429.76 410.47h6.63v3.58h-6.63zM300.02 413.55h3.62v3.58h-3.62zM324.16 416.62h3.62v3.58h-3.62zM465.97 416.62h6.03v3.58h-6.03zM330.19 419.7h3.62v3.58h-3.62zM309.07 428.92h3.62v3.08h-3.62zM450.88 428.92h6.63v3.08h-6.63zM468.98 428.92h3.02v3.08h-3.02z"/>
<path fill="#72f3f6" d="M336.22 325.07h3.62v3.58h-3.62zM348.29 325.07h6.63v3.58h-6.63zM336.22 328.15h3.62v3.58h-3.62zM345.28 331.23h6.63v3.58h-6.63zM336.22 337.38h6.63v3.58h-6.63zM345.28 337.38h3.62v3.58h-3.62zM357.34 340.45h3.62v3.58h-3.62zM339.24 350.4h3.62v3.58h-3.62zM336.22 353.47h3.62v3.58h-3.62zM360.36 353.47h3.62v3.58h-3.62zM342.26 359.62h3.62v3.58h-3.62zM354.33 359.62h6.63v3.58h-6.63zM354.33 365.77h6.63v3.58h-6.63zM360.36 368.85h3.62v3.58h-3.62zM369.41 371.92h3.62v3.08h-3.62zM348.29 378.9h9.65v3.58h-9.65zM336.22 381.97h9.65v3.58h-9.65zM336.22 388.12h9.65v3.58h-9.65zM348.29 388.12h6.63v3.58h-6.63zM363.38 391.2h3.62v3.58h-3.62zM375.45 391.2h3.62v3.58h-3.62zM351.31 397.35h6.63v3.58h-6.63zM354.33 410.47h6.63v3.58h-6.63zM357.34 413.55h3.62v3.58h-3.62zM348.29 416.62h3.62v3.58h-3.62zM357.34 416.62h6.63v3.58h-6.63zM363.38 419.7h3.62v3.58h-3.62zM336.22 422.77h6.63v3.58h-6.63zM348.29 422.77h3.62v3.58h-3.62zM354.33 422.77h6.63v3.58h-6.63zM339.24 425.85h6.63v3.58h-6.63zM351.31 425.85h3.62v3.58h-3.62zM348.29 428.92h3.62v3.08h-3.62zM363.38 428.92h6.63v3.08h-6.63z"/>
<path fill="#61d0fa" d="M354.33 325.07h6.63v3.58h-6.63zM366.4 325.07h3.62v3.58h-3.62zM363.38 328.15h3.62v3.58h-3.62zM387.52 328.15h3.62v3.58h-3.62zM360.36 331.23h3.62v3.58h-3.62zM363.38 334.3h3.62v3.58h-3.62zM351.31 337.38h3.62v3.58h-3.62zM363.38 340.45h3.62v3.58h-3.62zM369.41 340.45h3.62v3.58h-3.62zM345.28 343.52h3.62v3.08h-3.62zM360.36 343.52h3.62v3.08h-3.62zM360.36 350.4h12.67v3.58h-12.67zM363.38 353.47h3.62v3.58h-3.62zM336.22 356.55h6.63v3.58h-6.63zM351.31 356.55h6.63v3.58h-6.63zM366.4 356.55h3.62v3.58h-3.62zM336.22 362.7h3.62v3.58h-3.62zM351.31 362.7h3.62v3.58h-3.62zM357.34 362.7h6.63v3.58h-6.63zM366.4 365.77h6.63v3.58h-6.63zM366.4 368.85h3.62v3.58h-3.62zM333.21 371.92h3.62v3.08h-3.62zM399.59 378.9h3.62v3.58h-3.62zM360.36 381.97h3.62v3.58h-3.62zM366.4 381.97h3.62v3.58h-3.62zM372.43 385.05h3.62v3.58h-3.62zM393.55 385.05h6.63v3.58h-6.63zM369.41 391.2h3.62v3.58h-3.62zM360.36 394.27h6.63v3.58h-6.63zM336.22 397.35h12.67v3.58h-12.67zM339.24 400.42h3.62v3.08h-3.62zM351.31 400.42h3.62v3.08h-3.62zM381.48 407.4h3.62v3.58h-3.62zM363.38 410.47h3.62v3.58h-3.62zM369.41 410.47h6.63v3.58h-6.63zM360.36 413.55h6.63v3.58h-6.63zM354.33 416.62h3.62v3.58h-3.62zM366.4 416.62h3.62v3.58h-3.62zM366.4 419.7h9.65v3.58h-9.65zM378.47 419.7h3.62v3.58h-3.62zM363.38 425.85h6.63v3.58h-6.63zM372.43 425.85h6.63v3.58h-6.63z"/>
<path fill="#2a44f8" d="M387.52 325.07h3.62v3.58h-3.62zM333.21 328.15h3.62v3.58h-3.62zM390.53 328.15h3.62v3.58h-3.62zM456.91 328.15h6.63v3.58h-6.63zM312.09 331.23h3.62v3.58h-3.62zM381.48 331.23h3.62v3.58h-3.62zM387.52 331.23h3.62v3.58h-3.62zM393.55 331.23h3.62v3.58h-3.62zM438.81 331.23h6.63v3.58h-6.63zM315.1 334.3h3.62v3.58h-3.62zM333.21 334.3h3.62v3.58h-3.62zM384.5 334.3h3.62v3.58h-3.62zM396.57 334.3h6.63v3.58h-6.63zM423.72 334.3h3.62v3.58h-3.62zM462.95 334.3h3.62v3.58h-3.62zM315.1 337.38h6.63v3.58h-6.63zM333.21 337.38h3.62v3.58h-3.62zM384.5 337.38h3.62v3.58h-3.62zM432.78 337.38h3.62v3.58h-3.62zM396.57 340.45h3.62v3.58h-3.62zM408.64 340.45h12.67v3.58h-12.67zM309.07 343.52h6.63v3.08h-6.63zM369.41 343.52h3.62v3.08h-3.62zM375.45 343.52h3.62v3.08h-3.62zM384.5 343.52h3.62v3.08h-3.62zM453.9 343.52h3.62v3.08h-3.62zM333.21 350.4h3.62v3.58h-3.62zM405.62 350.4h3.62v3.58h-3.62zM318.12 353.47h3.62v3.58h-3.62zM333.21 356.55h3.62v3.58h-3.62zM387.52 356.55h12.67v3.58h-12.67zM426.74 356.55h6.63v3.58h-6.63zM462.95 356.55h3.62v3.58h-3.62zM468.98 356.55h3.02v3.58h-3.02zM384.5 359.62h3.62v3.58h-3.62zM432.78 359.62h6.63v3.58h-6.63zM459.93 359.62h3.62v3.58h-3.62zM468.98 359.62h3.02v3.58h-3.02zM381.48 362.7h6.63v3.58h-6.63zM396.57 362.7h3.62v3.58h-3.62zM408.64 362.7h3.62v3.58h-3.62zM309.07 365.77h3.62v3.58h-3.62zM390.53 365.77h3.62v3.58h-3.62zM396.57 365.77h3.62v3.58h-3.62zM384.5 368.85h3.62v3.58h-3.62zM414.67 368.85h6.63v3.58h-6.63zM444.84 368.85h3.62v3.58h-3.62zM393.55 371.92h3.62v3.08h-3.62zM411.66 371.92h6.63v3.08h-6.63zM462.95 371.92h3.62v3.08h-3.62zM318.12 378.9h3.62v3.58h-3.62zM384.5 378.9h3.62v3.58h-3.62zM429.76 378.9h3.62v3.58h-3.62zM435.79 378.9h3.62v3.58h-3.62zM396.57 381.97h3.62v3.58h-3.62zM408.64 381.97h3.62v3.58h-3.62zM315.1 385.05h3.62v3.58h-3.62zM402.6 385.05h9.65v3.58h-9.65zM393.55 388.12h9.65v3.58h-9.65zM444.84 388.12h3.62v3.58h-3.62zM387.52 391.2h3.62v3.58h-3.62zM405.62 391.2h3.62v3.58h-3.62zM372.43 394.27h3.62v3.58h-3.62zM378.47 394.27h3.62v3.58h-3.62zM384.5 394.27h3.62v3.58h-3.62zM333.21 397.35h3.62v3.58h-3.62zM375.45 397.35h6.63v3.58h-6.63zM381.48 400.42h12.67v3.08h-12.67zM387.52 407.4h3.62v3.58h-3.62zM405.62 407.4h6.63v3.58h-6.63zM417.69 407.4h3.62v3.58h-3.62zM447.86 407.4h3.62v3.58h-3.62zM333.21 410.47h3.62v3.58h-3.62zM384.5 410.47h3.62v3.58h-3.62zM405.62 413.55h6.63v3.58h-6.63zM309.07 416.62h9.65v3.58h-9.65zM387.52 416.62h3.62v3.58h-3.62zM444.84 416.62h3.62v3.58h-3.62zM390.53 419.7h3.62v3.58h-3.62zM417.69 419.7h3.62v3.58h-3.62zM429.76 419.7h3.62v3.58h-3.62zM468.98 419.7h3.02v3.58h-3.02zM333.21 422.77h3.62v3.58h-3.62zM384.5 422.77h3.62v3.58h-3.62zM402.6 422.77h3.62v3.58h-3.62zM417.69 422.77h3.62v3.58h-3.62zM432.78 422.77h3.62v3.58h-3.62zM447.86 422.77h6.63v3.58h-6.63zM330.19 425.85h3.62v3.58h-3.62zM384.5 425.85h3.62v3.58h-3.62zM396.57 425.85h6.63v3.58h-6.63zM420.71 425.85h3.62v3.58h-3.62zM378.47 428.92h3.62v3.08h-3.62zM387.52 428.92h9.65v3.08h-9.65z"/>
<path fill="#750ef1" d="M462.95 325.07h6.63v3.58h-6.63zM303.03 331.23h3.62v3.58h-3.62zM321.14 343.52h3.62v3.08h-3.62zM306.05 368.85h3.62v3.58h-3.62zM303.03 381.97h9.65v3.58h-9.65zM321.14 388.12h3.62v3.58h-3.62zM303.03 391.2h6.63v3.58h-6.63zM429.76 416.62h3.62v3.58h-3.62zM435.79 416.62h3.62v3.58h-3.62zM462.95 416.62h3.62v3.58h-3.62zM327.17 428.92h3.62v3.08h-3.62z"/>
<path fill="#5ff9b4" d="M342.26 334.3h3.62v3.58h-3.62zM348.29 334.3h3.62v3.58h-3.62zM351.31 340.45h3.62v3.58h-3.62zM348.29 350.4h6.63v3.58h-6.63zM342.26 353.47h3.62v3.58h-3.62zM348.29 353.47h3.62v3.58h-3.62zM339.24 368.85h6.63v3.58h-6.63zM348.29 368.85h6.63v3.58h-6.63zM345.28 385.05h3.62v3.58h-3.62zM357.34 385.05h3.62v3.58h-3.62zM342.26 391.2h3.62v3.58h-3.62zM351.31 391.2h6.63v3.58h-6.63zM351.31 394.27h3.62v3.58h-3.62zM354.33 407.4h3.62v3.58h-3.62zM345.28 419.7h3.62v3.58h-3.62zM354.33 419.7h3.62v3.58h-3.62zM336.22 428.92h3.62v3.08h-3.62z"/>
<path fill="#55f896" d="M345.28 353.47h3.62v3.58h-3.62zM336.22 368.85h3.62v3.58h-3.62zM339.24 371.92h6.63v3.08h-6.63zM360.36 371.92h3.62v3.08h-3.62zM339.24 385.05h3.62v3.58h-3.62zM348.29 385.05h9.65v3.58h-9.65zM336.22 391.2h3.62v3.58h-3.62zM348.29 407.4h3.62v3.58h-3.62zM339.24 419.7h6.63v3.58h-6.63z"/>
<path fill="#3cf35c" d="M336.22 371.92h3.62v3.08h-3.62z"/>
<path fill="#30f040" d="M345.28 371.92h3.62v3.08h-3.62zM354.33 371.92h3.62v3.08h-3.62z"/>
<path fill="#23ee23" d="M348.29 371.92h6.63v3.08h-6.63z"/>
<path fill="#49f679" d="M357.34 371.92h3.62v3.08h-3.62zM336.22 385.05h3.62v3.58h-3.62zM342.26 385.05h3.62v3.58h-3.62zM339.24 391.2h3.62v3.58h-3.62zM351.31 407.4h3.62v3.58h-3.62z"/>
<path fill="#9912f0" d="M432.78 416.62h3.62v3.58h-3.62z"/>
</g>
<line x1="112.1" y1="290.3" x2="112.1" y2="432.5" stroke="#222" stroke-width="0.6" stroke-dasharray="0.8 0.8"/>
<line x1="332.2" y1="290.3" x2="332.2" y2="432.5" stroke="#222" stroke-width="0.6" stroke-dasharray="0.8 0.8"/>
<defs><linearGradient id="cb" x1="0" y1="0" x2="0" y2="1"><stop offset="0" stop-color="#e8281e"/><stop offset="0.12" stop-color="#f59123"/><stop offset="0.24" stop-color="#eeee28"/><stop offset="0.38" stop-color="#23ee23"/><stop offset="0.5" stop-color="#5ff9b4"/><stop offset="0.62" stop-color="#6de7fa"/><stop offset="0.72" stop-color="#417df8"/><stop offset="0.81" stop-color="#1919f8"/><stop offset="0.88" stop-color="#2d0af5"/><stop offset="0.94" stop-color="#870ff0"/><stop offset="1" stop-color="#e11ef0"/></linearGradient></defs>
<rect x="268.4" y="325.8" width="6.8" height="104" fill="url(#cb)"/>
<line x1="267.6" y1="416.8" x2="268.4" y2="416.8" stroke="#777" stroke-width="0.4"/>
<line x1="275.2" y1="416.8" x2="276.2" y2="416.8" stroke="#777" stroke-width="0.4"/>
<text x="279.7" y="418.6" font-size="5" text-anchor="middle" fill="#333">0</text>
<line x1="267.6" y1="390.8" x2="268.4" y2="390.8" stroke="#777" stroke-width="0.4"/>
<line x1="275.2" y1="390.8" x2="276.2" y2="390.8" stroke="#777" stroke-width="0.4"/>
<text x="279.7" y="392.6" font-size="5" text-anchor="middle" fill="#333">2</text>
<line x1="267.6" y1="364.8" x2="268.4" y2="364.8" stroke="#777" stroke-width="0.4"/>
<line x1="275.2" y1="364.8" x2="276.2" y2="364.8" stroke="#777" stroke-width="0.4"/>
<text x="279.7" y="366.6" font-size="5" text-anchor="middle" fill="#333">4</text>
<line x1="267.6" y1="338.8" x2="268.4" y2="338.8" stroke="#777" stroke-width="0.4"/>
<line x1="275.2" y1="338.8" x2="276.2" y2="338.8" stroke="#777" stroke-width="0.4"/>
<text x="279.7" y="340.6" font-size="5" text-anchor="middle" fill="#333">6</text>
<rect x="35.4" y="322.5" width="40.8" height="23.6" fill="#f6dedd"/>
<text x="62.5" y="334.1" font-size="4.65" text-anchor="middle" font-weight="bold" fill="#222" transform="rotate(-90 62.5 334.1)">DAY 1</text>
<text x="75.1" y="325.7" font-size="4.4" text-anchor="middle" fill="#333">1</text>
<text x="75.1" y="345.5" font-size="4.4" text-anchor="middle" fill="#333">8</text>
<rect x="35.4" y="350.9" width="40.8" height="23.6" fill="#f2a3a3"/>
<text x="62.5" y="362.5" font-size="4.65" text-anchor="middle" font-weight="bold" fill="#222" transform="rotate(-90 62.5 362.5)">DAY 3</text>
<text x="75.1" y="354.1" font-size="4.4" text-anchor="middle" fill="#333">1</text>
<text x="75.1" y="373.9" font-size="4.4" text-anchor="middle" fill="#333">8</text>
<rect x="35.4" y="379.4" width="40.8" height="23.6" fill="#f08484"/>
<text x="62.5" y="391" font-size="4.65" text-anchor="middle" font-weight="bold" fill="#222" transform="rotate(-90 62.5 391)">DAY 7</text>
<text x="75.1" y="382.6" font-size="4.4" text-anchor="middle" fill="#333">1</text>
<text x="75.1" y="402.4" font-size="4.4" text-anchor="middle" fill="#333">8</text>
<rect x="35.4" y="407.9" width="40.8" height="23.6" fill="#ef7b7c"/>
<text x="62.5" y="419.5" font-size="4.65" text-anchor="middle" font-weight="bold" fill="#222" transform="rotate(-90 62.5 419.5)">DAY 21</text>
<text x="75.1" y="411.1" font-size="4.4" text-anchor="middle" fill="#333">1</text>
<text x="75.1" y="430.9" font-size="4.4" text-anchor="middle" fill="#333">8</text>
<line x1="64.8" y1="327" x2="64.8" y2="429.5" stroke="#9a9a9a" stroke-width="0.5"/>
<path d="M62.8 428.8 L66.8 428.8 L64.8 433.2 Z" fill="#111"/>
<text x="32.6" y="328.7" font-size="7.4" font-weight="bold" fill="#111" textLength="22.6" lengthAdjust="spacingAndGlyphs">Mouse</text>
<text x="164.6" y="313.1" font-size="6" text-anchor="middle" font-weight="bold" fill="#222" textLength="14.9" lengthAdjust="spacingAndGlyphs">EtOH</text>
<text x="384.6" y="313.1" font-size="6" text-anchor="middle" font-weight="bold" fill="#222" textLength="17.5" lengthAdjust="spacingAndGlyphs">Water</text>
<text x="76.8" y="441" font-size="4.6" text-anchor="middle" font-weight="bold" fill="#222">-2</text>
<text x="111.94" y="441" font-size="4.6" text-anchor="middle" font-weight="bold" fill="#222">0</text>
<text x="147.08" y="441" font-size="4.6" text-anchor="middle" font-weight="bold" fill="#222">2</text>
<text x="182.22" y="441" font-size="4.6" text-anchor="middle" font-weight="bold" fill="#222">4</text>
<text x="217.36" y="441" font-size="4.6" text-anchor="middle" font-weight="bold" fill="#222">6</text>
<text x="252.5" y="441" font-size="4.6" text-anchor="middle" font-weight="bold" fill="#222">8</text>
<text x="165.25" y="450" font-size="5.4" text-anchor="middle" font-weight="bold" fill="#222" textLength="20" lengthAdjust="spacingAndGlyphs">Time (s)</text>
<text x="297.1" y="441" font-size="4.6" text-anchor="middle" font-weight="bold" fill="#222">-2</text>
<text x="332.12" y="441" font-size="4.6" text-anchor="middle" font-weight="bold" fill="#222">0</text>
<text x="367.14" y="441" font-size="4.6" text-anchor="middle" font-weight="bold" fill="#222">2</text>
<text x="402.16" y="441" font-size="4.6" text-anchor="middle" font-weight="bold" fill="#222">4</text>
<text x="437.18" y="441" font-size="4.6" text-anchor="middle" font-weight="bold" fill="#222">6</text>
<text x="472.2" y="441" font-size="4.6" text-anchor="middle" font-weight="bold" fill="#222">8</text>
<text x="385.25" y="450" font-size="5.4" text-anchor="middle" font-weight="bold" fill="#222" textLength="20" lengthAdjust="spacingAndGlyphs">Time (s)</text>
<line x1="524.1" y1="368.3" x2="524.1" y2="300.3" stroke="#222" stroke-width="0.8"/>
<line x1="523.8" y1="368" x2="625.1" y2="368" stroke="#222" stroke-width="0.8"/>
<line x1="522.4" y1="368" x2="524.1" y2="368" stroke="#222" stroke-width="0.6"/>
<text x="521.7" y="369.65" font-size="4.5" text-anchor="end" font-weight="bold" fill="#222">0</text>
<line x1="522.4" y1="351.15" x2="524.1" y2="351.15" stroke="#222" stroke-width="0.6"/>
<text x="521.7" y="352.8" font-size="4.5" text-anchor="end" font-weight="bold" fill="#222">2</text>
<line x1="522.4" y1="334.3" x2="524.1" y2="334.3" stroke="#222" stroke-width="0.6"/>
<text x="521.7" y="335.95" font-size="4.5" text-anchor="end" font-weight="bold" fill="#222">4</text>
<line x1="522.4" y1="317.45" x2="524.1" y2="317.45" stroke="#222" stroke-width="0.6"/>
<text x="521.7" y="319.1" font-size="4.5" text-anchor="end" font-weight="bold" fill="#222">6</text>
<line x1="522.4" y1="300.6" x2="524.1" y2="300.6" stroke="#222" stroke-width="0.6"/>
<text x="521.7" y="302.25" font-size="4.5" text-anchor="end" font-weight="bold" fill="#222">8</text>
<line x1="523.1" y1="359.57" x2="524.1" y2="359.57" stroke="#222" stroke-width="0.5"/>
<line x1="523.1" y1="342.73" x2="524.1" y2="342.73" stroke="#222" stroke-width="0.5"/>
<line x1="523.1" y1="325.88" x2="524.1" y2="325.88" stroke="#222" stroke-width="0.5"/>
<line x1="523.1" y1="309.03" x2="524.1" y2="309.03" stroke="#222" stroke-width="0.5"/>
<line x1="535.5" y1="368" x2="535.5" y2="369.7" stroke="#222" stroke-width="0.6"/>
<text x="535.5" y="376.4" font-size="5" text-anchor="middle" font-weight="bold" fill="#222">DAY 1</text>
<line x1="530.5" y1="331.77" x2="530.5" y2="335.14" stroke="#f03c3c" stroke-width="0.6"/>
<line x1="530.5" y1="341.88" x2="530.5" y2="350.31" stroke="#f03c3c" stroke-width="0.6"/>
<line x1="529.2" y1="331.77" x2="531.8" y2="331.77" stroke="#f03c3c" stroke-width="0.6"/>
<line x1="529.2" y1="350.31" x2="531.8" y2="350.31" stroke="#f03c3c" stroke-width="0.6"/>
<rect x="527.3" y="335.14" width="6.4" height="6.74" fill="#fff" stroke="#f03c3c" stroke-width="0.85"/>
<line x1="527.3" y1="339.36" x2="533.7" y2="339.36" stroke="#f03c3c" stroke-width="0.6"/>
<line x1="540.5" y1="341.04" x2="540.5" y2="342.73" stroke="#3c3cf0" stroke-width="0.6"/>
<line x1="540.5" y1="350.31" x2="540.5" y2="352.83" stroke="#3c3cf0" stroke-width="0.6"/>
<line x1="539.2" y1="341.04" x2="541.8" y2="341.04" stroke="#3c3cf0" stroke-width="0.6"/>
<line x1="539.2" y1="352.83" x2="541.8" y2="352.83" stroke="#3c3cf0" stroke-width="0.6"/>
<rect x="537.4" y="342.73" width="6.2" height="7.58" fill="#fff" stroke="#3c3cf0" stroke-width="0.85"/>
<line x1="537.4" y1="347.78" x2="543.6" y2="347.78" stroke="#3c3cf0" stroke-width="0.6"/>
<text x="530.5" y="332.35" font-size="5.6" text-anchor="middle" fill="#111" textLength="2.05" lengthAdjust="spacingAndGlyphs">*</text>
<line x1="561.6" y1="368" x2="561.6" y2="369.7" stroke="#222" stroke-width="0.6"/>
<text x="561.6" y="376.4" font-size="5" text-anchor="middle" font-weight="bold" fill="#222">DAY 3</text>
<line x1="556.6" y1="321.24" x2="556.6" y2="324.61" stroke="#f03c3c" stroke-width="0.6"/>
<line x1="556.6" y1="330.51" x2="556.6" y2="338.51" stroke="#f03c3c" stroke-width="0.6"/>
<line x1="555.3" y1="321.24" x2="557.9" y2="321.24" stroke="#f03c3c" stroke-width="0.6"/>
<line x1="555.3" y1="338.51" x2="557.9" y2="338.51" stroke="#f03c3c" stroke-width="0.6"/>
<rect x="553.4" y="324.61" width="6.4" height="5.9" fill="#fff" stroke="#f03c3c" stroke-width="0.85"/>
<line x1="553.4" y1="327.56" x2="559.8" y2="327.56" stroke="#f03c3c" stroke-width="0.6"/>
<line x1="566.6" y1="336.83" x2="566.6" y2="342.73" stroke="#3c3cf0" stroke-width="0.6"/>
<line x1="566.6" y1="347.36" x2="566.6" y2="352.41" stroke="#3c3cf0" stroke-width="0.6"/>
<line x1="565.3" y1="336.83" x2="567.9" y2="336.83" stroke="#3c3cf0" stroke-width="0.6"/>
<line x1="565.3" y1="352.41" x2="567.9" y2="352.41" stroke="#3c3cf0" stroke-width="0.6"/>
<rect x="563.5" y="342.73" width="6.2" height="4.63" fill="#fff" stroke="#3c3cf0" stroke-width="0.85"/>
<line x1="563.5" y1="345.25" x2="569.7" y2="345.25" stroke="#3c3cf0" stroke-width="0.6"/>
<text x="556.6" y="322.66" font-size="5.6" text-anchor="middle" fill="#111" textLength="8.2" lengthAdjust="spacingAndGlyphs">****</text>
<line x1="587.4" y1="368" x2="587.4" y2="369.7" stroke="#222" stroke-width="0.6"/>
<text x="587.4" y="376.4" font-size="5" text-anchor="middle" font-weight="bold" fill="#222">DAY 7</text>
<line x1="582.4" y1="321.66" x2="582.4" y2="326.72" stroke="#f03c3c" stroke-width="0.6"/>
<line x1="582.4" y1="335.99" x2="582.4" y2="337.67" stroke="#f03c3c" stroke-width="0.6"/>
<line x1="581.1" y1="321.66" x2="583.7" y2="321.66" stroke="#f03c3c" stroke-width="0.6"/>
<line x1="581.1" y1="337.67" x2="583.7" y2="337.67" stroke="#f03c3c" stroke-width="0.6"/>
<rect x="579.2" y="326.72" width="6.4" height="9.27" fill="#fff" stroke="#f03c3c" stroke-width="0.85"/>
<line x1="579.2" y1="331.77" x2="585.6" y2="331.77" stroke="#f03c3c" stroke-width="0.6"/>
<line x1="592.4" y1="340.2" x2="592.4" y2="342.73" stroke="#3c3cf0" stroke-width="0.6"/>
<line x1="592.4" y1="347.36" x2="592.4" y2="351.99" stroke="#3c3cf0" stroke-width="0.6"/>
<line x1="591.1" y1="340.2" x2="593.7" y2="340.2" stroke="#3c3cf0" stroke-width="0.6"/>
<line x1="591.1" y1="351.99" x2="593.7" y2="351.99" stroke="#3c3cf0" stroke-width="0.6"/>
<rect x="589.3" y="342.73" width="6.2" height="4.63" fill="#fff" stroke="#3c3cf0" stroke-width="0.85"/>
<line x1="589.3" y1="345.25" x2="595.5" y2="345.25" stroke="#3c3cf0" stroke-width="0.6"/>
<text x="582.4" y="323.08" font-size="5.6" text-anchor="middle" fill="#111" textLength="8.2" lengthAdjust="spacingAndGlyphs">****</text>
<line x1="613.6" y1="368" x2="613.6" y2="369.7" stroke="#222" stroke-width="0.6"/>
<text x="613.6" y="376.4" font-size="5" text-anchor="middle" font-weight="bold" fill="#222">DAY 21</text>
<line x1="608.6" y1="306.5" x2="608.6" y2="314.92" stroke="#f03c3c" stroke-width="0.6"/>
<line x1="608.6" y1="325.03" x2="608.6" y2="325.88" stroke="#f03c3c" stroke-width="0.6"/>
<line x1="607.3" y1="306.5" x2="609.9" y2="306.5" stroke="#f03c3c" stroke-width="0.6"/>
<line x1="607.3" y1="325.88" x2="609.9" y2="325.88" stroke="#f03c3c" stroke-width="0.6"/>
<rect x="605.4" y="314.92" width="6.4" height="10.11" fill="#fff" stroke="#f03c3c" stroke-width="0.85"/>
<line x1="605.4" y1="319.98" x2="611.8" y2="319.98" stroke="#f03c3c" stroke-width="0.6"/>
<line x1="618.6" y1="339.36" x2="618.6" y2="343.15" stroke="#3c3cf0" stroke-width="0.6"/>
<line x1="618.6" y1="346.94" x2="618.6" y2="351.99" stroke="#3c3cf0" stroke-width="0.6"/>
<line x1="617.3" y1="339.36" x2="619.9" y2="339.36" stroke="#3c3cf0" stroke-width="0.6"/>
<line x1="617.3" y1="351.99" x2="619.9" y2="351.99" stroke="#3c3cf0" stroke-width="0.6"/>
<rect x="615.5" y="343.15" width="6.2" height="3.79" fill="#fff" stroke="#3c3cf0" stroke-width="0.85"/>
<line x1="615.5" y1="345.25" x2="621.7" y2="345.25" stroke="#3c3cf0" stroke-width="0.6"/>
<text x="608.6" y="307.49" font-size="5.6" text-anchor="middle" fill="#111" textLength="8.2" lengthAdjust="spacingAndGlyphs">****</text>
<line x1="530.4" y1="294.1" x2="608.6" y2="294.1" stroke="#8a8a8a" stroke-width="0.6"/>
<text x="567" y="295.8" font-size="5.6" text-anchor="middle" fill="#f03c3c" textLength="8.2" lengthAdjust="spacingAndGlyphs">****</text>
<line x1="530.4" y1="298.6" x2="555.5" y2="298.6" stroke="#8a8a8a" stroke-width="0.6"/>
<text x="543.7" y="300.3" font-size="5.6" text-anchor="middle" fill="#f03c3c" textLength="8.2" lengthAdjust="spacingAndGlyphs">****</text>
<line x1="557.5" y1="298.6" x2="608.6" y2="298.6" stroke="#8a8a8a" stroke-width="0.6"/>
<text x="581.5" y="300.3" font-size="5.6" text-anchor="middle" fill="#f03c3c" textLength="4.1" lengthAdjust="spacingAndGlyphs">**</text>
<line x1="530.4" y1="302.4" x2="581" y2="302.4" stroke="#8a8a8a" stroke-width="0.6"/>
<text x="557.3" y="304.1" font-size="5.6" text-anchor="middle" fill="#f03c3c" textLength="4.1" lengthAdjust="spacingAndGlyphs">**</text>
<line x1="583" y1="302.4" x2="608.6" y2="302.4" stroke="#8a8a8a" stroke-width="0.6"/>
<text x="594.4" y="304.1" font-size="5.6" text-anchor="middle" fill="#f03c3c" textLength="8.2" lengthAdjust="spacingAndGlyphs">****</text>
<text x="513.6" y="335.9" font-size="5" text-anchor="middle" font-weight="bold" fill="#222" transform="rotate(-90 513.6 335.9)">Peak ΔF/F (%)</text>
<rect x="640.8" y="303.5" width="6.6" height="3.2" fill="none" stroke="#f03c3c" stroke-width="0.7"/>
<rect x="640.8" y="312.7" width="6.6" height="3.2" fill="none" stroke="#3c3cf0" stroke-width="0.7"/>
<text x="652.1" y="307.1" font-size="5.5" fill="#222" textLength="14" lengthAdjust="spacingAndGlyphs">EtOH</text>
<text x="652.1" y="316.3" font-size="5.5" fill="#222" textLength="15.1" lengthAdjust="spacingAndGlyphs">Water</text>
<line x1="525.7" y1="466.1" x2="525.7" y2="398.4" stroke="#222" stroke-width="0.8"/>
<line x1="525.4" y1="465.8" x2="626.8" y2="465.8" stroke="#222" stroke-width="0.8"/>
<line x1="524" y1="465.8" x2="525.7" y2="465.8" stroke="#222" stroke-width="0.6"/>
<text x="523.3" y="467.45" font-size="4.5" text-anchor="end" font-weight="bold" fill="#222">0</text>
<line x1="524" y1="449.02" x2="525.7" y2="449.02" stroke="#222" stroke-width="0.6"/>
<text x="523.3" y="450.67" font-size="4.5" text-anchor="end" font-weight="bold" fill="#222">5</text>
<line x1="524" y1="432.25" x2="525.7" y2="432.25" stroke="#222" stroke-width="0.6"/>
<text x="523.3" y="433.9" font-size="4.5" text-anchor="end" font-weight="bold" fill="#222">10</text>
<line x1="524" y1="415.48" x2="525.7" y2="415.48" stroke="#222" stroke-width="0.6"/>
<text x="523.3" y="417.12" font-size="4.5" text-anchor="end" font-weight="bold" fill="#222">15</text>
<line x1="524" y1="398.7" x2="525.7" y2="398.7" stroke="#222" stroke-width="0.6"/>
<text x="523.3" y="400.35" font-size="4.5" text-anchor="end" font-weight="bold" fill="#222">20</text>
<line x1="537.4" y1="465.8" x2="537.4" y2="467.5" stroke="#222" stroke-width="0.6"/>
<text x="537.4" y="474" font-size="5" text-anchor="middle" font-weight="bold" fill="#222">DAY 1</text>
<line x1="532.4" y1="436.28" x2="532.4" y2="438.96" stroke="#f03c3c" stroke-width="0.6"/>
<line x1="532.4" y1="445.33" x2="532.4" y2="452.72" stroke="#f03c3c" stroke-width="0.6"/>
<line x1="531.1" y1="436.28" x2="533.7" y2="436.28" stroke="#f03c3c" stroke-width="0.6"/>
<line x1="531.1" y1="452.72" x2="533.7" y2="452.72" stroke="#f03c3c" stroke-width="0.6"/>
<rect x="529.2" y="438.96" width="6.4" height="6.37" fill="#fff" stroke="#f03c3c" stroke-width="0.85"/>
<line x1="529.2" y1="442.31" x2="535.6" y2="442.31" stroke="#f03c3c" stroke-width="0.6"/>
<line x1="542.4" y1="447.35" x2="542.4" y2="448.02" stroke="#3c3cf0" stroke-width="0.6"/>
<line x1="542.4" y1="455.4" x2="542.4" y2="456.91" stroke="#3c3cf0" stroke-width="0.6"/>
<line x1="541.1" y1="447.35" x2="543.7" y2="447.35" stroke="#3c3cf0" stroke-width="0.6"/>
<line x1="541.1" y1="456.91" x2="543.7" y2="456.91" stroke="#3c3cf0" stroke-width="0.6"/>
<rect x="539.3" y="448.02" width="6.2" height="7.38" fill="#fff" stroke="#3c3cf0" stroke-width="0.85"/>
<line x1="539.3" y1="451.71" x2="545.5" y2="451.71" stroke="#3c3cf0" stroke-width="0.6"/>
<text x="532.4" y="436.36" font-size="5.6" text-anchor="middle" fill="#111" textLength="2.05" lengthAdjust="spacingAndGlyphs">*</text>
<line x1="563.3" y1="465.8" x2="563.3" y2="467.5" stroke="#222" stroke-width="0.6"/>
<text x="563.3" y="474" font-size="5" text-anchor="middle" font-weight="bold" fill="#222">DAY 3</text>
<line x1="558.3" y1="421.85" x2="558.3" y2="428.56" stroke="#f03c3c" stroke-width="0.6"/>
<line x1="558.3" y1="434.26" x2="558.3" y2="441.31" stroke="#f03c3c" stroke-width="0.6"/>
<line x1="557" y1="421.85" x2="559.6" y2="421.85" stroke="#f03c3c" stroke-width="0.6"/>
<line x1="557" y1="441.31" x2="559.6" y2="441.31" stroke="#f03c3c" stroke-width="0.6"/>
<rect x="555.1" y="428.56" width="6.4" height="5.7" fill="#fff" stroke="#f03c3c" stroke-width="0.85"/>
<line x1="555.1" y1="431.24" x2="561.5" y2="431.24" stroke="#f03c3c" stroke-width="0.6"/>
<line x1="568.3" y1="443.99" x2="568.3" y2="448.35" stroke="#3c3cf0" stroke-width="0.6"/>
<line x1="568.3" y1="454.06" x2="568.3" y2="457.41" stroke="#3c3cf0" stroke-width="0.6"/>
<line x1="567" y1="443.99" x2="569.6" y2="443.99" stroke="#3c3cf0" stroke-width="0.6"/>
<line x1="567" y1="457.41" x2="569.6" y2="457.41" stroke="#3c3cf0" stroke-width="0.6"/>
<rect x="565.2" y="448.35" width="6.2" height="5.7" fill="#fff" stroke="#3c3cf0" stroke-width="0.85"/>
<line x1="565.2" y1="451.04" x2="571.4" y2="451.04" stroke="#3c3cf0" stroke-width="0.6"/>
<text x="558.3" y="422.6" font-size="5.6" text-anchor="middle" fill="#111" textLength="8.2" lengthAdjust="spacingAndGlyphs">****</text>
<line x1="589.3" y1="465.8" x2="589.3" y2="467.5" stroke="#222" stroke-width="0.6"/>
<text x="589.3" y="474" font-size="5" text-anchor="middle" font-weight="bold" fill="#222">DAY 7</text>
<line x1="584.3" y1="422.86" x2="584.3" y2="427.89" stroke="#f03c3c" stroke-width="0.6"/>
<line x1="584.3" y1="438.96" x2="584.3" y2="439.97" stroke="#f03c3c" stroke-width="0.6"/>
<line x1="583" y1="422.86" x2="585.6" y2="422.86" stroke="#f03c3c" stroke-width="0.6"/>
<line x1="583" y1="439.97" x2="585.6" y2="439.97" stroke="#f03c3c" stroke-width="0.6"/>
<rect x="581.1" y="427.89" width="6.4" height="11.07" fill="#fff" stroke="#f03c3c" stroke-width="0.85"/>
<line x1="581.1" y1="433.59" x2="587.5" y2="433.59" stroke="#f03c3c" stroke-width="0.6"/>
<line x1="594.3" y1="446.01" x2="594.3" y2="447.35" stroke="#3c3cf0" stroke-width="0.6"/>
<line x1="594.3" y1="452.72" x2="594.3" y2="455.06" stroke="#3c3cf0" stroke-width="0.6"/>
<line x1="593" y1="446.01" x2="595.6" y2="446.01" stroke="#3c3cf0" stroke-width="0.6"/>
<line x1="593" y1="455.06" x2="595.6" y2="455.06" stroke="#3c3cf0" stroke-width="0.6"/>
<rect x="591.2" y="447.35" width="6.2" height="5.37" fill="#fff" stroke="#3c3cf0" stroke-width="0.85"/>
<line x1="591.2" y1="450.37" x2="597.4" y2="450.37" stroke="#3c3cf0" stroke-width="0.6"/>
<text x="584.3" y="423.94" font-size="5.6" text-anchor="middle" fill="#111" textLength="6.15" lengthAdjust="spacingAndGlyphs">***</text>
<line x1="615.3" y1="465.8" x2="615.3" y2="467.5" stroke="#222" stroke-width="0.6"/>
<text x="615.3" y="474" font-size="5" text-anchor="middle" font-weight="bold" fill="#222">DAY 21</text>
<line x1="610.3" y1="408.76" x2="610.3" y2="417.15" stroke="#f03c3c" stroke-width="0.6"/>
<line x1="610.3" y1="426.55" x2="610.3" y2="427.89" stroke="#f03c3c" stroke-width="0.6"/>
<line x1="609" y1="408.76" x2="611.6" y2="408.76" stroke="#f03c3c" stroke-width="0.6"/>
<line x1="609" y1="427.89" x2="611.6" y2="427.89" stroke="#f03c3c" stroke-width="0.6"/>
<rect x="607.1" y="417.15" width="6.4" height="9.39" fill="#fff" stroke="#f03c3c" stroke-width="0.85"/>
<line x1="607.1" y1="422.19" x2="613.5" y2="422.19" stroke="#f03c3c" stroke-width="0.6"/>
<line x1="620.3" y1="444.66" x2="620.3" y2="447.68" stroke="#3c3cf0" stroke-width="0.6"/>
<line x1="620.3" y1="452.72" x2="620.3" y2="456.07" stroke="#3c3cf0" stroke-width="0.6"/>
<line x1="619" y1="444.66" x2="621.6" y2="444.66" stroke="#3c3cf0" stroke-width="0.6"/>
<line x1="619" y1="456.07" x2="621.6" y2="456.07" stroke="#3c3cf0" stroke-width="0.6"/>
<rect x="617.2" y="447.68" width="6.2" height="5.03" fill="#fff" stroke="#3c3cf0" stroke-width="0.85"/>
<line x1="617.2" y1="450.37" x2="623.4" y2="450.37" stroke="#3c3cf0" stroke-width="0.6"/>
<text x="610.3" y="409.85" font-size="5.6" text-anchor="middle" fill="#111" textLength="8.2" lengthAdjust="spacingAndGlyphs">****</text>
<line x1="532.3" y1="392.1" x2="610.5" y2="392.1" stroke="#8a8a8a" stroke-width="0.6"/>
<text x="568.7" y="393.8" font-size="5.6" text-anchor="middle" fill="#f03c3c" textLength="6.15" lengthAdjust="spacingAndGlyphs">***</text>
<line x1="532.3" y1="397.2" x2="582" y2="397.2" stroke="#8a8a8a" stroke-width="0.6"/>
<text x="558.8" y="398.9" font-size="5.6" text-anchor="middle" fill="#f03c3c" textLength="2.05" lengthAdjust="spacingAndGlyphs">*</text>
<line x1="584" y1="397.2" x2="610.5" y2="397.2" stroke="#8a8a8a" stroke-width="0.6"/>
<text x="597.7" y="398.9" font-size="5.6" text-anchor="middle" fill="#f03c3c" textLength="2.05" lengthAdjust="spacingAndGlyphs">*</text>
<line x1="532.3" y1="402.9" x2="556" y2="402.9" stroke="#8a8a8a" stroke-width="0.6"/>
<text x="544.2" y="404.6" font-size="5.6" text-anchor="middle" fill="#f03c3c" textLength="4.1" lengthAdjust="spacingAndGlyphs">**</text>
<text x="512.6" y="433.85" font-size="5" text-anchor="middle" font-weight="bold" fill="#222" transform="rotate(-90 512.6 433.85)">AUC</text>
<rect x="642.3" y="401.2" width="6.6" height="3.2" fill="none" stroke="#f03c3c" stroke-width="0.7"/>
<rect x="642.3" y="410.4" width="6.6" height="3.2" fill="none" stroke="#3c3cf0" stroke-width="0.7"/>
<text x="653.6" y="404.8" font-size="5.5" fill="#222" textLength="14" lengthAdjust="spacingAndGlyphs">EtOH</text>
<text x="653.6" y="414" font-size="5.5" fill="#222" textLength="15.1" lengthAdjust="spacingAndGlyphs">Water</text>
<path d="M534.2 48.3 L536 66.2 L557.3 74.9 L602.8 64.4 L604.7 45.5 L557.3 56.4 Z" fill="#efefef" stroke="#555" stroke-width="0.55"/>
<path d="M534.2 48.3 L557.3 56.4 L604.7 45.5 L604.5 48.5 L557.3 59.5 L534.4 51.3 Z" fill="#cfcfcf"/>
<line x1="557.3" y1="56.4" x2="557.3" y2="74.9" stroke="#777" stroke-width="0.45"/>
<path d="M537.5 64 Q545 60.5 553 62.5 Q560 60 570 61.5 Q582 58 592 59.5 Q600 58.5 602.5 60.5 L602.8 64.4 L557.3 74.9 L536 66.2 Z" fill="#efe6d2"/>
<path d="M545 64.5 q3 -1.2 6 0 M566 64 q4 -1.5 8 0.3 M585 62 q3 -1 6 0" fill="none" stroke="#c9b99a" stroke-width="0.5"/>
<path d="M536.5 66.4 L557.3 73.4 L602.7 63 L602.8 64.6 L557.3 75.1 L536 67.6 Z" fill="#a98d68"/>
<path d="M534.2 45.5 L582 36.9 L604.7 43.2 L604.7 45.5 L557.3 56.4 L534.2 48.3 Z" fill="#f4f4f4" stroke="#444" stroke-width="0.55"/>
<line x1="534.2" y1="45.5" x2="557.3" y2="54" stroke="#444" stroke-width="0.45"/>
<line x1="557.3" y1="54" x2="604.7" y2="43.2" stroke="#444" stroke-width="0.45"/>
<path d="M538.4 46 L581.6 38.8 L600.5 43.9 L558.3 52.1 Z" fill="#a9a9a9" stroke="#7a7a7a" stroke-width="0.35"/>
<path d="M541 46.2 L581.4 39.6 L597.5 43.8 L558.5 51 Z" fill="#c4c4c4"/>
<path d="M562 64.5 Q563.5 59.5 570 58.2 Q576 56.2 583 57.2 Q588 56.5 590 59 Q590.5 61 588 62 Q583 63.5 578 63.6 Q572 66.8 562 64.5 Z" fill="#3d3a36"/>
<path d="M583 57.5 q1.5 -1.8 3 -0.6" fill="none" stroke="#3d3a36" stroke-width="1"/>
<path d="M589.3 10 q0 -2.2 2.2 -2.2 h3.6 q2.2 0 2.2 2.2 v24 h-8 z" fill="#e2eaf2" stroke="#c8d2dc" stroke-width="0.3"/>
<path d="M589.3 19 h8 v15 h-8 z" fill="#a8c9ea"/>
<rect x="590.1" y="34" width="6.4" height="4.6" fill="#3f78c8"/>
<line x1="593.3" y1="38.6" x2="592.3" y2="42" stroke="#888" stroke-width="0.6"/>
<path d="M596.3 10 q0 -2.2 2.2 -2.2 h3.6 q2.2 0 2.2 2.2 v24 h-8 z" fill="#e2eaf2" stroke="#c8d2dc" stroke-width="0.3"/>
<path d="M596.3 19 h8 v15 h-8 z" fill="#a8c9ea"/>
<rect x="597.1" y="34" width="6.4" height="4.6" fill="#3f78c8"/>
<line x1="600.3" y1="38.6" x2="599.3" y2="42" stroke="#888" stroke-width="0.6"/>
<text x="581.8" y="30.6" font-size="3.2" fill="#222" textLength="9.2" lengthAdjust="spacingAndGlyphs">Water</text>
<text x="593.9" y="30.6" font-size="3.2" fill="#e03030" textLength="8.3" lengthAdjust="spacingAndGlyphs">EtOH</text>
<text x="603.3" y="38.9" font-size="5.3" fill="#222" textLength="24.1" lengthAdjust="spacingAndGlyphs">Lickometer</text>
<rect x="645.6" y="14.3" width="30.3" height="22.5" rx="2" fill="#fff" stroke="#3a3a3a" stroke-width="1.4"/>
<path d="M642.5 37.2 L679 37.2 L679 41 Q679 42.4 677.6 42.4 L643.9 42.4 Q642.5 42.4 642.5 41 Z" fill="#fff" stroke="#3a3a3a" stroke-width="1.2"/>
<line x1="658" y1="39.7" x2="663" y2="39.7" stroke="#444" stroke-width="0.9"/>
<path d="M649.8 24.4 L655 24.4 L656.5 21.2 L658.3 29 L660.3 19 L662.3 28 L664 23 L665.6 24.4 L671.6 24.4" fill="none" stroke="#2a2a2a" stroke-width="1.1" stroke-linejoin="round"/>
<rect x="629.6" y="48.5" width="54.5" height="12.6" rx="1" fill="#fff" stroke="#666" stroke-width="0.7"/>
<circle cx="635.5" cy="54.2" r="0.6" fill="#aaa" stroke="#777" stroke-width="0.4"/>
<circle cx="641.6" cy="54.2" r="0.6" fill="#aaa" stroke="#777" stroke-width="0.4"/>
<circle cx="648.4" cy="54.2" r="0.6" fill="#aaa" stroke="#777" stroke-width="0.4"/>
<circle cx="654.5" cy="54.2" r="0.6" fill="#aaa" stroke="#777" stroke-width="0.4"/>
<circle cx="659.8" cy="54.2" r="0.6" fill="#aaa" stroke="#777" stroke-width="0.4"/>
<rect x="663" y="51.3" width="10.5" height="7.5" rx="0.6" fill="#fff" stroke="#666" stroke-width="0.6"/>
<circle cx="668.3" cy="55" r="1.6" fill="#ddd" stroke="#666" stroke-width="0.5"/>
<circle cx="679.3" cy="51.4" r="0.7" fill="#444" stroke="#444" stroke-width="0.3"/>
<circle cx="679.3" cy="57.7" r="1.2" fill="#fff" stroke="#888" stroke-width="0.4"/>
<path d="M600 38.5 Q606 42 620 46.5 Q630 50 635.2 54" fill="none" stroke="#333" stroke-width="0.5"/>
<path d="M603.5 38.5 Q616 39.5 627 41.5 Q636 44 641.4 54" fill="none" stroke="#f04848" stroke-width="0.6"/>
<path d="M589.5 53.3 Q595 56.5 606 59.5 Q616 62.5 632 61.5 Q652 59.5 667.5 55.2" fill="none" stroke="#3a3ae8" stroke-width="0.7"/>
<text x="568" y="84.8" font-size="5" text-anchor="middle" fill="#222" textLength="62.9" lengthAdjust="spacingAndGlyphs">Homecage+Fiber Photometry</text>
</svg>
</body></html>
